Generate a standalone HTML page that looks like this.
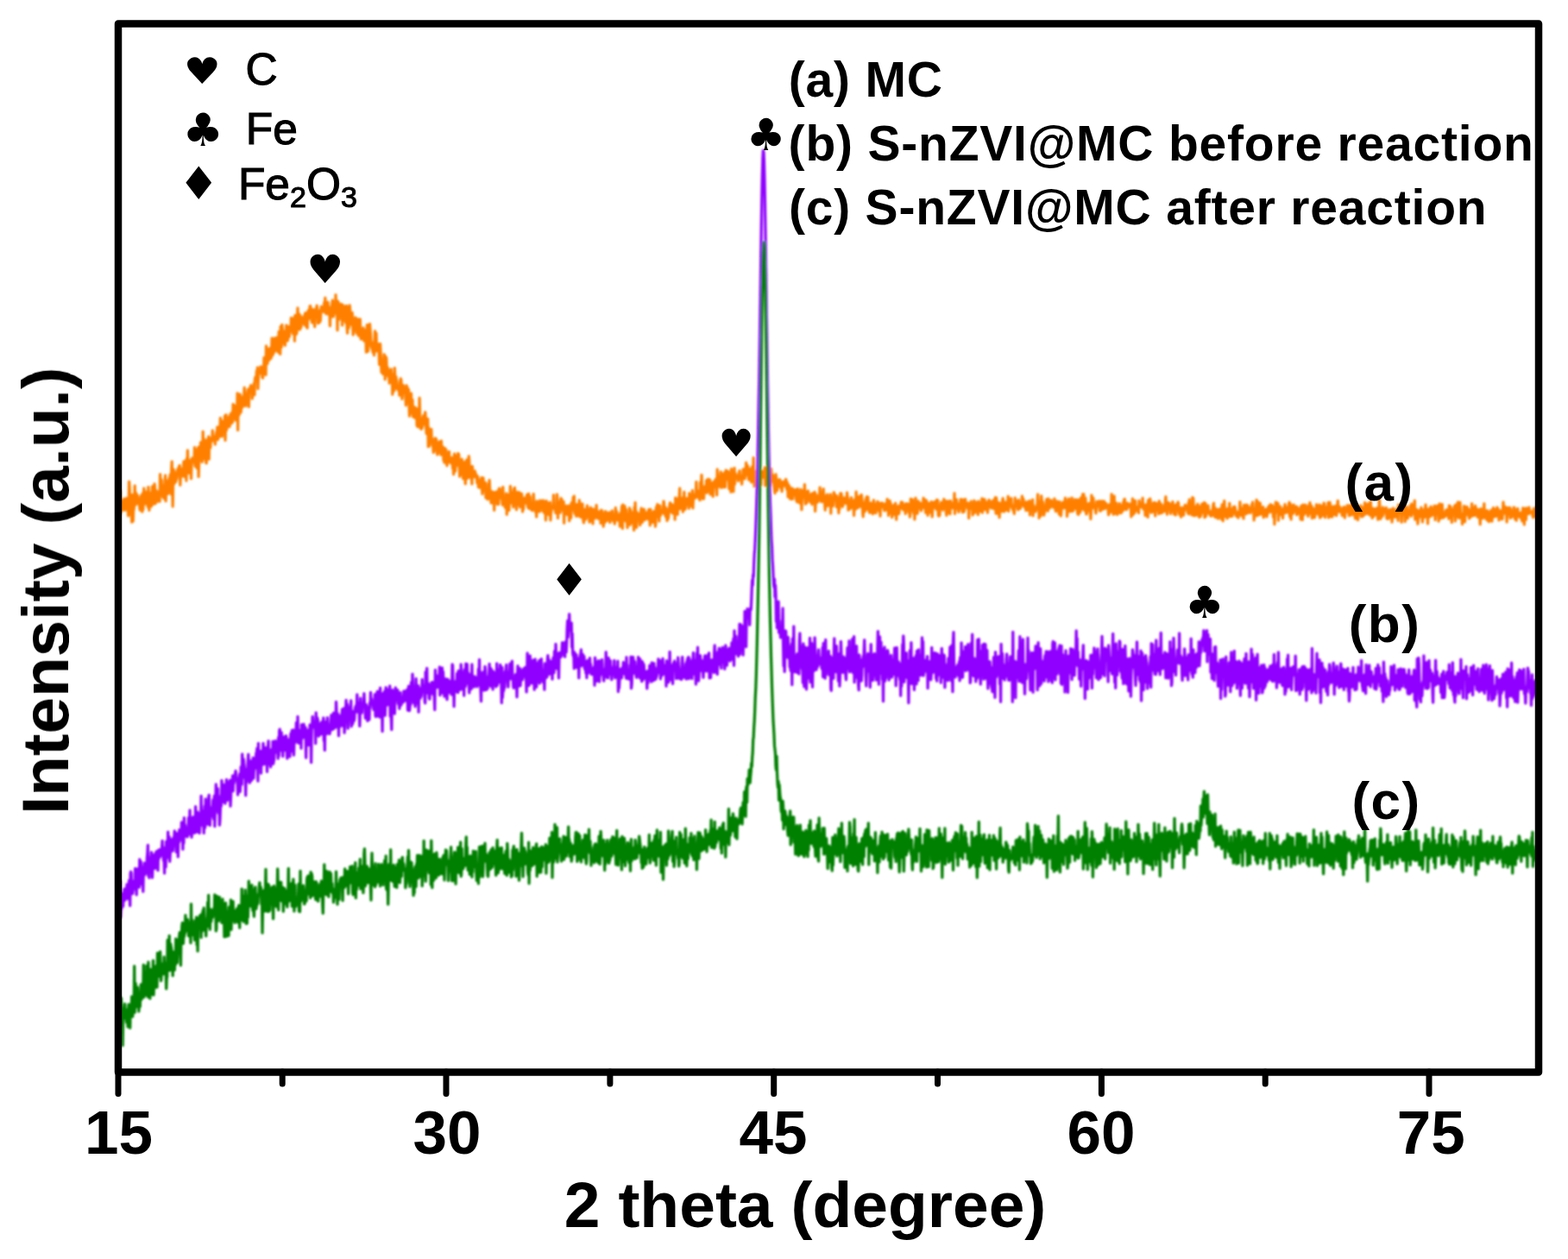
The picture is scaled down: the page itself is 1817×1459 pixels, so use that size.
<!DOCTYPE html>
<html><head><meta charset="utf-8"><style>html,body{margin:0;padding:0;background:#fff}svg{display:block}</style></head><body>
<svg width="1817" height="1459" viewBox="0 0 1817 1459">
<rect width="100%" height="100%" fill="#fff"/>
<defs><filter id="bl" x="-2%" y="-2%" width="104%" height="104%"><feGaussianBlur stdDeviation="0.9"/></filter><filter id="bt" x="-5%" y="-5%" width="110%" height="110%"><feGaussianBlur stdDeviation="0.55"/></filter></defs>
<g fill="none" stroke-width="3.3" stroke-linejoin="round" filter="url(#bl)">
<path stroke="#ff8000" d="M137.5 590.5 L138.0 594.2 L138.5 589.2 L139.0 569.0 L139.5 594.9 L140.0 590.2 L140.5 580.4 L141.0 591.5 L141.5 589.3 L142.1 588.5 L142.6 585.8 L143.1 590.9 L143.6 578.1 L144.1 583.8 L144.6 580.5 L145.1 591.2 L145.6 585.6 L146.1 582.2 L146.6 577.4 L147.1 582.5 L147.6 585.0 L148.1 582.2 L148.6 597.6 L149.1 597.6 L149.6 558.1 L150.2 566.1 L150.7 582.8 L151.2 580.3 L151.7 586.5 L152.2 586.5 L152.7 605.0 L153.2 573.3 L153.7 580.4 L154.2 604.0 L154.7 590.3 L155.2 590.4 L155.7 578.8 L156.2 562.8 L156.7 585.3 L157.2 584.6 L157.7 571.5 L158.2 576.7 L158.8 582.6 L159.3 574.0 L159.8 582.1 L160.3 583.9 L160.8 583.2 L161.3 577.9 L161.8 588.4 L162.3 591.2 L162.8 585.6 L163.3 574.5 L163.8 589.3 L164.3 575.9 L164.8 593.0 L165.3 571.6 L165.8 590.6 L166.3 581.5 L166.8 565.9 L167.4 578.4 L167.9 581.8 L168.4 583.8 L168.9 571.6 L169.4 570.3 L169.9 582.6 L170.4 576.1 L170.9 582.7 L171.4 587.5 L171.9 564.3 L172.4 582.3 L172.9 591.3 L173.4 575.7 L173.9 571.4 L174.4 586.0 L174.9 581.0 L175.5 586.8 L176.0 574.8 L176.5 563.7 L177.0 576.4 L177.5 572.9 L178.0 584.1 L178.5 578.2 L179.0 560.7 L179.5 564.4 L180.0 583.6 L180.5 581.3 L181.0 568.5 L181.5 574.1 L182.0 577.9 L182.5 577.7 L183.0 581.1 L183.5 574.9 L184.1 571.1 L184.6 569.1 L185.1 581.0 L185.6 549.6 L186.1 568.9 L186.6 570.1 L187.1 556.0 L187.6 571.9 L188.1 562.3 L188.6 575.9 L189.1 566.2 L189.6 573.1 L190.1 577.7 L190.6 569.5 L191.1 557.3 L191.6 550.9 L192.1 580.7 L192.7 562.6 L193.2 557.1 L193.7 564.3 L194.2 560.7 L194.7 572.2 L195.2 561.8 L195.7 561.1 L196.2 553.9 L196.7 564.3 L197.2 550.0 L197.7 565.1 L198.2 572.5 L198.7 544.0 L199.2 534.9 L199.7 562.7 L200.2 586.9 L200.8 547.0 L201.3 544.2 L201.8 560.6 L202.3 547.1 L202.8 549.7 L203.3 550.7 L203.8 558.3 L204.3 549.3 L204.8 555.1 L205.3 550.5 L205.8 544.0 L206.3 548.3 L206.8 542.1 L207.3 550.4 L207.8 539.7 L208.3 539.5 L208.8 562.1 L209.4 548.0 L209.9 547.5 L210.4 552.2 L210.9 543.3 L211.4 544.6 L211.9 550.0 L212.4 548.3 L212.9 534.8 L213.4 552.3 L213.9 539.0 L214.4 534.4 L214.9 535.3 L215.4 539.4 L215.9 557.0 L216.4 531.5 L216.9 542.9 L217.4 521.9 L218.0 540.6 L218.5 548.1 L219.0 537.5 L219.5 533.5 L220.0 540.7 L220.5 544.4 L221.0 543.6 L221.5 554.7 L222.0 538.6 L222.5 531.0 L223.0 534.6 L223.5 534.6 L224.0 535.7 L224.5 534.0 L225.0 535.3 L225.5 518.5 L226.1 540.1 L226.6 527.2 L227.1 521.4 L227.6 536.9 L228.1 542.3 L228.6 534.6 L229.1 531.2 L229.6 518.6 L230.1 552.4 L230.6 535.9 L231.1 517.7 L231.6 520.4 L232.1 527.4 L232.6 512.6 L233.1 527.1 L233.6 521.1 L234.1 535.3 L234.7 532.5 L235.2 500.1 L235.7 523.4 L236.2 508.5 L236.7 531.6 L237.2 523.4 L237.7 525.7 L238.2 511.2 L238.7 535.7 L239.2 536.8 L239.7 509.6 L240.2 521.5 L240.7 511.9 L241.2 517.0 L241.7 505.8 L242.2 532.2 L242.7 507.3 L243.3 512.5 L243.8 518.8 L244.3 508.4 L244.8 511.4 L245.3 508.0 L245.8 511.2 L246.3 498.8 L246.8 507.5 L247.3 508.9 L247.8 507.3 L248.3 510.1 L248.8 506.5 L249.3 514.9 L249.8 505.1 L250.3 505.8 L250.8 501.1 L251.4 500.4 L251.9 494.9 L252.4 509.5 L252.9 494.8 L253.4 497.6 L253.9 506.4 L254.4 506.2 L254.9 498.8 L255.4 484.5 L255.9 504.6 L256.4 502.6 L256.9 487.8 L257.4 505.7 L257.9 492.7 L258.4 488.5 L258.9 498.2 L259.4 495.3 L260.0 497.9 L260.5 482.0 L261.0 510.3 L261.5 489.3 L262.0 480.7 L262.5 498.3 L263.0 489.5 L263.5 495.4 L264.0 488.3 L264.5 490.1 L265.0 492.0 L265.5 483.0 L266.0 494.4 L266.5 484.0 L267.0 480.0 L267.5 487.5 L268.0 490.9 L268.6 483.4 L269.1 477.4 L269.6 489.2 L270.1 468.5 L270.6 474.0 L271.1 482.3 L271.6 469.8 L272.1 480.8 L272.6 479.4 L273.1 486.8 L273.6 470.8 L274.1 472.5 L274.6 479.9 L275.1 455.7 L275.6 498.4 L276.1 469.0 L276.7 468.0 L277.2 480.7 L277.7 472.4 L278.2 457.0 L278.7 476.5 L279.2 477.7 L279.7 466.0 L280.2 466.6 L280.7 472.3 L281.2 459.8 L281.7 470.4 L282.2 467.6 L282.7 459.5 L283.2 449.2 L283.7 461.7 L284.2 455.5 L284.7 470.5 L285.3 462.5 L285.8 467.0 L286.3 460.8 L286.8 461.1 L287.3 451.5 L287.8 462.9 L288.3 471.4 L288.8 453.1 L289.3 449.9 L289.8 452.7 L290.3 448.0 L290.8 446.5 L291.3 452.7 L291.8 448.3 L292.3 461.9 L292.8 449.1 L293.3 450.9 L293.9 455.3 L294.4 444.0 L294.9 457.7 L295.4 439.5 L295.9 437.2 L296.4 440.1 L296.9 441.3 L297.4 429.7 L297.9 440.2 L298.4 425.8 L298.9 450.4 L299.4 437.2 L299.9 431.7 L300.4 428.6 L300.9 432.1 L301.4 432.5 L302.0 424.8 L302.5 424.9 L303.0 430.1 L303.5 426.3 L304.0 437.4 L304.5 438.1 L305.0 427.7 L305.5 431.6 L306.0 414.3 L306.5 429.6 L307.0 423.0 L307.5 427.3 L308.0 434.3 L308.5 400.9 L309.0 420.9 L309.5 405.8 L310.0 421.4 L310.6 404.5 L311.1 410.2 L311.6 414.9 L312.1 417.2 L312.6 411.6 L313.1 403.4 L313.6 404.3 L314.1 415.2 L314.6 406.8 L315.1 391.9 L315.6 411.9 L316.1 408.5 L316.6 410.3 L317.1 398.6 L317.6 408.2 L318.1 391.8 L318.6 406.0 L319.2 395.1 L319.7 404.0 L320.2 406.1 L320.7 391.1 L321.2 396.2 L321.7 396.3 L322.2 408.2 L322.7 400.7 L323.2 384.3 L323.7 397.6 L324.2 399.4 L324.7 410.3 L325.2 378.4 L325.7 387.4 L326.2 402.3 L326.7 376.3 L327.3 380.5 L327.8 394.2 L328.3 397.9 L328.8 383.6 L329.3 393.1 L329.8 389.2 L330.3 400.3 L330.8 387.4 L331.3 395.2 L331.8 376.9 L332.3 384.7 L332.8 385.0 L333.3 394.8 L333.8 389.8 L334.3 378.4 L334.8 389.8 L335.3 390.2 L335.9 382.5 L336.4 380.9 L336.9 381.1 L337.4 368.3 L337.9 383.4 L338.4 383.4 L338.9 373.9 L339.4 386.7 L339.9 368.9 L340.4 375.2 L340.9 375.4 L341.4 395.2 L341.9 365.3 L342.4 382.6 L342.9 387.6 L343.4 380.2 L343.9 386.3 L344.5 367.9 L345.0 357.0 L345.5 381.5 L346.0 364.9 L346.5 371.6 L347.0 364.1 L347.5 381.9 L348.0 379.9 L348.5 366.5 L349.0 379.2 L349.5 372.4 L350.0 369.8 L350.5 370.9 L351.0 368.4 L351.5 374.6 L352.0 371.6 L352.6 365.8 L353.1 376.5 L353.6 362.8 L354.1 369.8 L354.6 370.5 L355.1 378.7 L355.6 362.1 L356.1 380.1 L356.6 366.9 L357.1 363.6 L357.6 359.4 L358.1 369.3 L358.6 364.6 L359.1 354.9 L359.6 354.5 L360.1 358.9 L360.6 357.7 L361.2 371.8 L361.7 373.9 L362.2 369.6 L362.7 366.1 L363.2 358.6 L363.7 362.3 L364.2 371.0 L364.7 378.7 L365.2 368.6 L365.7 358.7 L366.2 361.1 L366.7 356.7 L367.2 354.1 L367.7 358.3 L368.2 361.6 L368.7 374.7 L369.2 360.0 L369.8 370.4 L370.3 373.6 L370.8 359.7 L371.3 371.9 L371.8 364.5 L372.3 355.2 L372.8 361.2 L373.3 358.5 L373.8 356.3 L374.3 356.4 L374.8 359.1 L375.3 361.3 L375.8 350.5 L376.3 357.5 L376.8 345.2 L377.3 359.5 L377.9 363.8 L378.4 358.5 L378.9 359.5 L379.4 363.3 L379.9 350.1 L380.4 355.1 L380.9 361.1 L381.4 365.1 L381.9 360.2 L382.4 377.6 L382.9 356.3 L383.4 365.2 L383.9 367.4 L384.4 356.2 L384.9 350.8 L385.4 348.0 L385.9 359.0 L386.5 366.8 L387.0 360.2 L387.5 359.6 L388.0 355.4 L388.5 363.2 L389.0 341.7 L389.5 361.0 L390.0 359.7 L390.5 348.7 L391.0 382.7 L391.5 349.1 L392.0 351.9 L392.5 351.2 L393.0 370.1 L393.5 354.4 L394.0 367.2 L394.5 366.9 L395.1 364.6 L395.6 352.4 L396.1 358.3 L396.6 376.9 L397.1 353.5 L397.6 357.6 L398.1 363.3 L398.6 371.4 L399.1 367.3 L399.6 371.6 L400.1 354.9 L400.6 373.9 L401.1 371.3 L401.6 354.3 L402.1 379.7 L402.6 386.0 L403.2 362.0 L403.7 368.9 L404.2 380.0 L404.7 357.4 L405.2 353.8 L405.7 359.7 L406.2 365.9 L406.7 366.3 L407.2 376.1 L407.7 373.9 L408.2 362.3 L408.7 377.2 L409.2 388.0 L409.7 383.1 L410.2 381.9 L410.7 374.7 L411.2 382.9 L411.8 367.9 L412.3 382.0 L412.8 375.9 L413.3 386.1 L413.8 381.3 L414.3 369.6 L414.8 379.8 L415.3 388.9 L415.8 370.9 L416.3 376.0 L416.8 374.9 L417.3 369.8 L417.8 389.7 L418.3 393.0 L418.8 389.5 L419.3 385.7 L419.8 384.0 L420.4 386.9 L420.9 379.9 L421.4 393.2 L421.9 395.0 L422.4 394.7 L422.9 382.6 L423.4 389.2 L423.9 387.9 L424.4 408.1 L424.9 391.9 L425.4 376.5 L425.9 395.0 L426.4 407.2 L426.9 398.6 L427.4 400.8 L427.9 394.9 L428.5 375.4 L429.0 382.0 L429.5 387.2 L430.0 396.6 L430.5 400.8 L431.0 404.5 L431.5 397.3 L432.0 408.1 L432.5 399.3 L433.0 396.8 L433.5 411.6 L434.0 396.7 L434.5 383.7 L435.0 394.8 L435.5 407.0 L436.0 386.2 L436.5 405.1 L437.1 406.1 L437.6 398.4 L438.1 398.8 L438.6 407.5 L439.1 407.7 L439.6 422.4 L440.1 416.4 L440.6 398.5 L441.1 408.5 L441.6 421.3 L442.1 431.3 L442.6 420.5 L443.1 420.7 L443.6 433.3 L444.1 419.7 L444.6 418.3 L445.1 410.6 L445.7 417.1 L446.2 439.7 L446.7 412.9 L447.2 424.7 L447.7 414.6 L448.2 427.2 L448.7 433.8 L449.2 425.9 L449.7 435.8 L450.2 434.9 L450.7 433.6 L451.2 444.1 L451.7 437.8 L452.2 429.6 L452.7 428.3 L453.2 427.8 L453.8 438.7 L454.3 433.4 L454.8 457.2 L455.3 451.5 L455.8 436.7 L456.3 436.7 L456.8 452.8 L457.3 426.5 L457.8 438.2 L458.3 449.6 L458.8 436.4 L459.3 440.5 L459.8 441.4 L460.3 450.7 L460.8 447.6 L461.3 450.4 L461.8 452.6 L462.4 449.2 L462.9 458.1 L463.4 445.1 L463.9 440.6 L464.4 438.8 L464.9 440.8 L465.4 449.7 L465.9 462.4 L466.4 456.8 L466.9 451.8 L467.4 446.7 L467.9 453.9 L468.4 454.8 L468.9 454.1 L469.4 449.7 L469.9 457.6 L470.4 469.6 L471.0 446.6 L471.5 461.9 L472.0 448.6 L472.5 466.7 L473.0 460.5 L473.5 451.4 L474.0 468.5 L474.5 482.1 L475.0 470.2 L475.5 478.8 L476.0 470.5 L476.5 455.8 L477.0 476.3 L477.5 470.4 L478.0 463.4 L478.5 482.7 L479.1 478.0 L479.6 472.8 L480.1 483.9 L480.6 471.9 L481.1 483.9 L481.6 473.0 L482.1 484.7 L482.6 473.4 L483.1 493.3 L483.6 485.0 L484.1 494.5 L484.6 478.6 L485.1 482.0 L485.6 492.4 L486.1 461.2 L486.6 480.0 L487.1 496.2 L487.7 492.9 L488.2 497.4 L488.7 488.1 L489.2 496.0 L489.7 487.3 L490.2 483.4 L490.7 481.8 L491.2 491.0 L491.7 491.8 L492.2 492.0 L492.7 477.7 L493.2 483.6 L493.7 495.1 L494.2 502.5 L494.7 496.4 L495.2 495.0 L495.7 485.3 L496.3 517.6 L496.8 495.7 L497.3 516.7 L497.8 516.6 L498.3 508.0 L498.8 502.6 L499.3 508.4 L499.8 497.3 L500.3 510.8 L500.8 509.7 L501.3 514.2 L501.8 517.9 L502.3 524.3 L502.8 509.6 L503.3 520.7 L503.8 508.1 L504.4 508.0 L504.9 510.7 L505.4 508.7 L505.9 523.5 L506.4 523.7 L506.9 526.9 L507.4 518.2 L507.9 521.0 L508.4 515.5 L508.9 512.0 L509.4 524.1 L509.9 523.5 L510.4 514.3 L510.9 527.0 L511.4 511.0 L511.9 522.8 L512.4 520.2 L513.0 521.6 L513.5 518.2 L514.0 533.4 L514.5 531.2 L515.0 536.2 L515.5 529.3 L516.0 519.7 L516.5 526.8 L517.0 521.6 L517.5 533.8 L518.0 539.7 L518.5 534.0 L519.0 527.9 L519.5 530.0 L520.0 534.6 L520.5 523.4 L521.0 535.2 L521.6 536.0 L522.1 531.2 L522.6 532.6 L523.1 537.1 L523.6 530.5 L524.1 530.9 L524.6 542.6 L525.1 539.1 L525.6 549.7 L526.1 531.2 L526.6 526.0 L527.1 545.5 L527.6 545.9 L528.1 534.2 L528.6 529.4 L529.1 539.6 L529.7 527.9 L530.2 538.1 L530.7 525.4 L531.2 539.3 L531.7 526.3 L532.2 539.7 L532.7 552.2 L533.2 540.0 L533.7 549.0 L534.2 537.8 L534.7 536.2 L535.2 532.2 L535.7 550.1 L536.2 542.7 L536.7 554.6 L537.2 535.3 L537.7 542.1 L538.3 544.4 L538.8 553.9 L539.3 560.7 L539.8 540.0 L540.3 534.4 L540.8 532.9 L541.3 554.5 L541.8 544.9 L542.3 541.2 L542.8 545.6 L543.3 528.6 L543.8 534.6 L544.3 553.3 L544.8 549.9 L545.3 548.5 L545.8 540.9 L546.3 552.2 L546.9 560.8 L547.4 540.5 L547.9 549.5 L548.4 546.9 L548.9 552.9 L549.4 551.0 L549.9 550.5 L550.4 546.0 L550.9 552.6 L551.4 549.1 L551.9 552.9 L552.4 554.1 L552.9 559.7 L553.4 551.9 L553.9 554.3 L554.4 564.5 L555.0 556.4 L555.5 556.7 L556.0 565.1 L556.5 561.8 L557.0 561.2 L557.5 562.7 L558.0 553.5 L558.5 565.7 L559.0 572.3 L559.5 567.8 L560.0 553.9 L560.5 567.0 L561.0 559.6 L561.5 564.7 L562.0 567.9 L562.5 559.3 L563.0 576.9 L563.6 567.9 L564.1 574.2 L564.6 573.5 L565.1 578.7 L565.6 578.0 L566.1 560.3 L566.6 570.8 L567.1 556.4 L567.6 567.0 L568.1 576.1 L568.6 577.6 L569.1 582.9 L569.6 569.4 L570.1 574.2 L570.6 573.1 L571.1 581.0 L571.6 583.3 L572.2 570.4 L572.7 591.3 L573.2 573.2 L573.7 570.9 L574.2 577.5 L574.7 578.8 L575.2 578.5 L575.7 569.7 L576.2 584.0 L576.7 574.7 L577.2 584.7 L577.7 583.9 L578.2 566.2 L578.7 568.3 L579.2 566.3 L579.7 576.8 L580.3 575.7 L580.8 577.2 L581.3 570.1 L581.8 578.5 L582.3 585.1 L582.8 564.3 L583.3 574.7 L583.8 577.8 L584.3 575.4 L584.8 575.0 L585.3 588.1 L585.8 585.0 L586.3 582.3 L586.8 571.8 L587.3 596.1 L587.8 579.4 L588.3 573.3 L588.9 575.0 L589.4 574.1 L589.9 591.4 L590.4 578.9 L590.9 578.0 L591.4 563.5 L591.9 582.6 L592.4 570.9 L592.9 570.5 L593.4 583.2 L593.9 572.4 L594.4 583.6 L594.9 587.8 L595.4 566.6 L595.9 577.5 L596.4 565.1 L596.9 578.2 L597.5 584.6 L598.0 569.9 L598.5 590.6 L599.0 576.3 L599.5 571.4 L600.0 578.4 L600.5 584.5 L601.0 570.5 L601.5 579.6 L602.0 570.8 L602.5 587.7 L603.0 581.1 L603.5 577.5 L604.0 587.1 L604.5 572.2 L605.0 577.4 L605.6 592.9 L606.1 580.3 L606.6 590.1 L607.1 582.8 L607.6 577.2 L608.1 580.4 L608.6 582.8 L609.1 579.7 L609.6 577.3 L610.1 577.8 L610.6 573.4 L611.1 584.0 L611.6 586.0 L612.1 588.5 L612.6 572.2 L613.1 589.3 L613.6 584.2 L614.2 575.3 L614.7 585.3 L615.2 590.2 L615.7 588.5 L616.2 590.0 L616.7 591.6 L617.2 591.4 L617.7 585.6 L618.2 572.5 L618.7 581.2 L619.2 588.5 L619.7 583.4 L620.2 590.9 L620.7 593.3 L621.2 587.0 L621.7 598.9 L622.2 580.6 L622.8 593.0 L623.3 584.0 L623.8 582.1 L624.3 591.0 L624.8 583.3 L625.3 592.9 L625.8 579.9 L626.3 587.7 L626.8 582.1 L627.3 586.1 L627.8 585.3 L628.3 580.5 L628.8 592.0 L629.3 579.8 L629.8 581.6 L630.3 593.7 L630.9 594.3 L631.4 592.4 L631.9 590.3 L632.4 602.8 L632.9 580.5 L633.4 583.5 L633.9 581.9 L634.4 594.1 L634.9 590.2 L635.4 595.6 L635.9 596.6 L636.4 587.1 L636.9 583.3 L637.4 582.3 L637.9 602.8 L638.4 594.9 L638.9 592.5 L639.5 586.6 L640.0 587.5 L640.5 586.7 L641.0 586.8 L641.5 573.6 L642.0 588.6 L642.5 586.6 L643.0 590.9 L643.5 590.4 L644.0 594.6 L644.5 589.1 L645.0 594.3 L645.5 572.9 L646.0 582.3 L646.5 600.4 L647.0 581.6 L647.5 587.7 L648.1 594.0 L648.6 583.9 L649.1 594.2 L649.6 580.5 L650.1 577.5 L650.6 581.2 L651.1 579.2 L651.6 589.7 L652.1 587.8 L652.6 592.0 L653.1 581.4 L653.6 606.2 L654.1 589.5 L654.6 589.9 L655.1 593.1 L655.6 588.7 L656.2 586.3 L656.7 591.0 L657.2 596.3 L657.7 594.8 L658.2 596.6 L658.7 587.1 L659.2 585.9 L659.7 603.6 L660.2 589.4 L660.7 594.1 L661.2 597.2 L661.7 600.2 L662.2 582.7 L662.7 588.3 L663.2 587.9 L663.7 589.6 L664.2 576.4 L664.8 590.9 L665.3 574.8 L665.8 593.8 L666.3 595.4 L666.8 595.9 L667.3 584.6 L667.8 598.3 L668.3 586.9 L668.8 584.7 L669.3 586.4 L669.8 587.3 L670.3 593.9 L670.8 598.1 L671.3 579.7 L671.8 589.7 L672.3 598.9 L672.8 594.6 L673.4 596.6 L673.9 584.0 L674.4 599.6 L674.9 583.8 L675.4 595.3 L675.9 602.5 L676.4 605.8 L676.9 597.3 L677.4 599.7 L677.9 590.4 L678.4 591.3 L678.9 601.8 L679.4 594.5 L679.9 593.8 L680.4 585.8 L680.9 595.7 L681.5 598.9 L682.0 589.9 L682.5 591.8 L683.0 605.0 L683.5 596.6 L684.0 593.4 L684.5 588.2 L685.0 591.5 L685.5 593.9 L686.0 604.1 L686.5 590.6 L687.0 606.9 L687.5 589.9 L688.0 592.9 L688.5 601.2 L689.0 594.0 L689.5 590.8 L690.1 595.2 L690.6 599.8 L691.1 585.4 L691.6 594.2 L692.1 595.6 L692.6 593.9 L693.1 601.1 L693.6 593.0 L694.1 594.3 L694.6 596.9 L695.1 601.3 L695.6 595.4 L696.1 606.3 L696.6 591.2 L697.1 605.0 L697.6 591.7 L698.1 596.1 L698.7 599.5 L699.2 610.1 L699.7 602.9 L700.2 594.8 L700.7 605.6 L701.2 596.2 L701.7 592.6 L702.2 600.4 L702.7 598.3 L703.2 603.7 L703.7 594.4 L704.2 600.3 L704.7 601.9 L705.2 599.7 L705.7 597.9 L706.2 593.8 L706.8 605.5 L707.3 599.1 L707.8 601.4 L708.3 596.1 L708.8 598.4 L709.3 591.9 L709.8 599.0 L710.3 603.3 L710.8 599.1 L711.3 603.9 L711.8 601.2 L712.3 607.1 L712.8 597.5 L713.3 588.5 L713.8 602.3 L714.3 597.8 L714.8 592.8 L715.4 602.9 L715.9 600.5 L716.4 601.7 L716.9 596.9 L717.4 600.2 L717.9 600.5 L718.4 610.0 L718.9 594.7 L719.4 598.9 L719.9 601.2 L720.4 588.3 L720.9 586.1 L721.4 612.4 L721.9 584.8 L722.4 602.6 L722.9 593.7 L723.4 594.3 L724.0 586.7 L724.5 593.4 L725.0 603.9 L725.5 590.4 L726.0 603.8 L726.5 600.9 L727.0 611.5 L727.5 596.1 L728.0 606.8 L728.5 606.1 L729.0 597.2 L729.5 588.7 L730.0 608.3 L730.5 590.6 L731.0 596.1 L731.5 604.5 L732.1 605.9 L732.6 593.8 L733.1 598.8 L733.6 597.4 L734.1 606.3 L734.6 614.4 L735.1 587.7 L735.6 604.6 L736.1 582.4 L736.6 599.1 L737.1 592.2 L737.6 611.3 L738.1 600.0 L738.6 594.5 L739.1 595.0 L739.6 595.5 L740.1 600.2 L740.7 598.0 L741.2 603.0 L741.7 608.5 L742.2 603.3 L742.7 591.5 L743.2 589.0 L743.7 594.4 L744.2 605.4 L744.7 596.9 L745.2 594.8 L745.7 599.7 L746.2 590.1 L746.7 591.8 L747.2 602.7 L747.7 596.7 L748.2 595.7 L748.7 600.4 L749.3 594.7 L749.8 594.0 L750.3 595.3 L750.8 601.7 L751.3 598.2 L751.8 590.4 L752.3 595.8 L752.8 601.4 L753.3 608.8 L753.8 590.2 L754.3 599.1 L754.8 595.3 L755.3 601.8 L755.8 599.3 L756.3 605.4 L756.8 599.4 L757.4 592.8 L757.9 592.6 L758.4 598.2 L758.9 598.0 L759.4 610.1 L759.9 605.5 L760.4 587.9 L760.9 597.1 L761.4 586.6 L761.9 584.5 L762.4 599.0 L762.9 597.6 L763.4 587.8 L763.9 603.9 L764.4 586.0 L764.9 586.5 L765.4 597.4 L766.0 595.1 L766.5 592.2 L767.0 592.6 L767.5 594.2 L768.0 591.5 L768.5 591.4 L769.0 580.8 L769.5 584.0 L770.0 595.6 L770.5 587.5 L771.0 594.9 L771.5 598.9 L772.0 589.0 L772.5 592.7 L773.0 603.4 L773.5 594.8 L774.0 601.6 L774.6 599.5 L775.1 594.6 L775.6 589.1 L776.1 584.5 L776.6 582.7 L777.1 592.1 L777.6 592.7 L778.1 587.7 L778.6 593.7 L779.1 584.7 L779.6 594.8 L780.1 588.1 L780.6 587.4 L781.1 587.4 L781.6 586.6 L782.1 602.0 L782.7 577.0 L783.2 587.6 L783.7 593.8 L784.2 590.4 L784.7 584.0 L785.2 596.1 L785.7 579.0 L786.2 577.3 L786.7 588.4 L787.2 575.9 L787.7 565.8 L788.2 589.6 L788.7 588.6 L789.2 588.2 L789.7 580.6 L790.2 584.4 L790.7 577.2 L791.3 593.2 L791.8 588.7 L792.3 586.7 L792.8 570.2 L793.3 586.6 L793.8 590.4 L794.3 588.5 L794.8 585.7 L795.3 580.6 L795.8 577.7 L796.3 583.7 L796.8 582.1 L797.3 581.0 L797.8 577.4 L798.3 589.1 L798.8 571.7 L799.3 578.3 L799.9 574.6 L800.4 584.0 L800.9 586.1 L801.4 584.7 L801.9 581.5 L802.4 568.3 L802.9 588.8 L803.4 579.2 L803.9 575.1 L804.4 575.6 L804.9 573.1 L805.4 577.3 L805.9 576.3 L806.4 571.9 L806.9 558.4 L807.4 573.2 L808.0 575.9 L808.5 575.8 L809.0 571.4 L809.5 574.7 L810.0 577.7 L810.5 568.4 L811.0 579.6 L811.5 558.8 L812.0 562.6 L812.5 564.4 L813.0 550.5 L813.5 563.1 L814.0 576.1 L814.5 578.0 L815.0 568.6 L815.5 577.9 L816.0 569.1 L816.6 564.0 L817.1 568.0 L817.6 565.4 L818.1 570.3 L818.6 556.7 L819.1 571.2 L819.6 562.2 L820.1 569.8 L820.6 555.2 L821.1 561.6 L821.6 564.3 L822.1 568.9 L822.6 556.0 L823.1 572.9 L823.6 565.6 L824.1 559.4 L824.6 569.5 L825.2 562.7 L825.7 568.7 L826.2 575.4 L826.7 566.0 L827.2 558.1 L827.7 558.5 L828.2 564.2 L828.7 562.3 L829.2 555.4 L829.7 556.2 L830.2 563.9 L830.7 573.6 L831.2 544.0 L831.7 563.6 L832.2 557.9 L832.7 563.6 L833.3 563.9 L833.8 558.9 L834.3 552.4 L834.8 550.0 L835.3 547.0 L835.8 565.1 L836.3 556.5 L836.8 553.4 L837.3 555.7 L837.8 549.3 L838.3 558.8 L838.8 564.6 L839.3 563.4 L839.8 547.3 L840.3 564.4 L840.8 551.7 L841.3 544.8 L841.9 548.7 L842.4 550.1 L842.9 555.6 L843.4 549.4 L843.9 546.5 L844.4 553.7 L844.9 566.4 L845.4 550.8 L845.9 557.6 L846.4 555.2 L846.9 570.2 L847.4 543.3 L847.9 560.7 L848.4 546.6 L848.9 550.5 L849.4 553.3 L849.9 569.6 L850.5 549.1 L851.0 542.4 L851.5 560.9 L852.0 548.3 L852.5 551.6 L853.0 552.8 L853.5 553.4 L854.0 551.7 L854.5 554.1 L855.0 554.7 L855.5 557.3 L856.0 549.6 L856.5 547.6 L857.0 545.7 L857.5 555.2 L858.0 551.4 L858.6 554.8 L859.1 554.6 L859.6 561.2 L860.1 552.4 L860.6 555.5 L861.1 544.0 L861.6 544.6 L862.1 549.1 L862.6 543.7 L863.1 554.8 L863.6 542.9 L864.1 551.0 L864.6 536.2 L865.1 544.1 L865.6 548.5 L866.1 548.9 L866.6 540.0 L867.2 551.0 L867.7 556.1 L868.2 555.3 L868.7 546.6 L869.2 547.0 L869.7 543.5 L870.2 554.2 L870.7 558.9 L871.2 547.5 L871.7 540.7 L872.2 551.9 L872.7 554.9 L873.2 530.4 L873.7 551.7 L874.2 563.6 L874.7 555.9 L875.2 554.4 L875.8 553.6 L876.3 557.5 L876.8 546.0 L877.3 546.7 L877.8 554.0 L878.3 547.8 L878.8 553.4 L879.3 540.9 L879.8 557.8 L880.3 557.1 L880.8 552.6 L881.3 553.4 L881.8 561.9 L882.3 546.4 L882.8 547.5 L883.3 546.5 L883.9 550.5 L884.4 547.2 L884.9 553.4 L885.4 549.5 L885.9 545.0 L886.4 541.8 L886.9 562.7 L887.4 553.2 L887.9 552.0 L888.4 554.0 L888.9 553.5 L889.4 559.7 L889.9 557.4 L890.4 550.8 L890.9 549.6 L891.4 548.2 L891.9 547.3 L892.5 562.7 L893.0 547.9 L893.5 543.2 L894.0 548.7 L894.5 550.6 L895.0 557.1 L895.5 550.3 L896.0 558.6 L896.5 557.9 L897.0 563.1 L897.5 568.4 L898.0 571.6 L898.5 564.0 L899.0 549.7 L899.5 554.2 L900.0 558.1 L900.5 568.7 L901.1 560.9 L901.6 564.1 L902.1 556.4 L902.6 561.1 L903.1 562.1 L903.6 555.6 L904.1 563.0 L904.6 565.1 L905.1 558.1 L905.6 565.5 L906.1 569.5 L906.6 560.8 L907.1 560.9 L907.6 559.5 L908.1 558.2 L908.6 563.1 L909.2 560.3 L909.7 561.4 L910.2 559.2 L910.7 555.3 L911.2 559.2 L911.7 567.0 L912.2 558.8 L912.7 562.4 L913.2 575.9 L913.7 575.4 L914.2 562.4 L914.7 571.4 L915.2 564.7 L915.7 578.2 L916.2 566.0 L916.7 570.2 L917.2 578.1 L917.8 565.9 L918.3 578.4 L918.8 566.7 L919.3 573.1 L919.8 570.3 L920.3 571.8 L920.8 573.5 L921.3 572.5 L921.8 567.3 L922.3 578.3 L922.8 577.6 L923.3 581.0 L923.8 581.7 L924.3 566.4 L924.8 581.5 L925.3 581.7 L925.8 571.4 L926.4 580.5 L926.9 583.1 L927.4 571.8 L927.9 567.1 L928.4 573.1 L928.9 590.6 L929.4 576.7 L929.9 568.6 L930.4 574.1 L930.9 570.1 L931.4 573.5 L931.9 576.4 L932.4 561.5 L932.9 578.2 L933.4 584.2 L933.9 575.2 L934.5 574.2 L935.0 582.7 L935.5 569.4 L936.0 569.6 L936.5 568.9 L937.0 576.0 L937.5 579.2 L938.0 576.3 L938.5 580.2 L939.0 581.9 L939.5 580.0 L940.0 572.7 L940.5 575.9 L941.0 584.5 L941.5 571.6 L942.0 576.2 L942.5 575.3 L943.1 576.4 L943.6 571.7 L944.1 570.3 L944.6 592.4 L945.1 583.3 L945.6 572.9 L946.1 577.8 L946.6 582.0 L947.1 576.3 L947.6 581.8 L948.1 574.9 L948.6 575.8 L949.1 578.0 L949.6 575.2 L950.1 564.8 L950.6 578.8 L951.1 580.2 L951.7 581.4 L952.2 573.2 L952.7 580.8 L953.2 580.5 L953.7 569.0 L954.2 566.6 L954.7 581.7 L955.2 573.7 L955.7 584.7 L956.2 591.2 L956.7 575.9 L957.2 575.4 L957.7 579.2 L958.2 583.1 L958.7 573.0 L959.2 586.4 L959.8 585.0 L960.3 583.2 L960.8 576.5 L961.3 584.7 L961.8 584.4 L962.3 572.9 L962.8 594.9 L963.3 578.0 L963.8 581.8 L964.3 576.8 L964.8 582.0 L965.3 586.3 L965.8 575.4 L966.3 570.7 L966.8 577.5 L967.3 572.7 L967.8 575.8 L968.4 579.2 L968.9 579.8 L969.4 587.4 L969.9 574.6 L970.4 582.2 L970.9 577.5 L971.4 587.9 L971.9 594.5 L972.4 582.1 L972.9 589.8 L973.4 577.6 L973.9 571.7 L974.4 573.6 L974.9 571.9 L975.4 575.4 L975.9 579.4 L976.4 587.2 L977.0 584.8 L977.5 583.5 L978.0 578.6 L978.5 577.0 L979.0 581.3 L979.5 581.9 L980.0 582.7 L980.5 583.4 L981.0 580.7 L981.5 570.8 L982.0 575.4 L982.5 577.0 L983.0 591.1 L983.5 579.4 L984.0 585.6 L984.5 590.1 L985.1 583.9 L985.6 579.9 L986.1 580.6 L986.6 576.6 L987.1 584.1 L987.6 588.7 L988.1 585.7 L988.6 586.9 L989.1 586.7 L989.6 597.3 L990.1 579.5 L990.6 584.0 L991.1 587.1 L991.6 590.2 L992.1 570.0 L992.6 580.6 L993.1 582.4 L993.7 578.0 L994.2 588.5 L994.7 585.1 L995.2 581.8 L995.7 575.1 L996.2 576.9 L996.7 578.9 L997.2 587.0 L997.7 577.8 L998.2 573.3 L998.7 576.8 L999.2 581.6 L999.7 594.2 L1000.2 598.8 L1000.7 582.5 L1001.2 590.5 L1001.7 593.1 L1002.3 592.6 L1002.8 584.8 L1003.3 578.5 L1003.8 583.1 L1004.3 575.7 L1004.8 587.3 L1005.3 590.4 L1005.8 575.8 L1006.3 586.0 L1006.8 588.0 L1007.3 593.3 L1007.8 594.1 L1008.3 591.0 L1008.8 582.9 L1009.3 584.8 L1009.8 593.5 L1010.4 583.6 L1010.9 586.8 L1011.4 595.7 L1011.9 587.9 L1012.4 579.7 L1012.9 585.7 L1013.4 590.9 L1013.9 586.4 L1014.4 593.9 L1014.9 594.6 L1015.4 584.0 L1015.9 584.9 L1016.4 587.1 L1016.9 581.1 L1017.4 589.8 L1017.9 586.8 L1018.4 592.2 L1019.0 584.6 L1019.5 583.1 L1020.0 598.0 L1020.5 583.1 L1021.0 584.8 L1021.5 584.0 L1022.0 586.3 L1022.5 583.0 L1023.0 587.8 L1023.5 584.1 L1024.0 585.7 L1024.5 590.6 L1025.0 591.8 L1025.5 590.6 L1026.0 584.0 L1026.5 590.2 L1027.0 587.3 L1027.6 587.4 L1028.1 578.5 L1028.6 591.7 L1029.1 587.2 L1029.6 597.3 L1030.1 592.5 L1030.6 581.8 L1031.1 580.4 L1031.6 594.3 L1032.1 583.2 L1032.6 592.8 L1033.1 586.3 L1033.6 599.5 L1034.1 588.4 L1034.6 596.2 L1035.1 595.2 L1035.7 585.4 L1036.2 586.1 L1036.7 596.1 L1037.2 587.9 L1037.7 583.2 L1038.2 594.5 L1038.7 602.0 L1039.2 587.7 L1039.7 595.6 L1040.2 587.1 L1040.7 595.4 L1041.2 586.3 L1041.7 595.3 L1042.2 591.0 L1042.7 587.0 L1043.2 589.3 L1043.7 585.1 L1044.3 581.9 L1044.8 582.2 L1045.3 587.7 L1045.8 582.2 L1046.3 590.4 L1046.8 590.9 L1047.3 590.6 L1047.8 585.3 L1048.3 588.4 L1048.8 587.9 L1049.3 595.3 L1049.8 583.6 L1050.3 585.9 L1050.8 586.7 L1051.3 587.2 L1051.8 583.9 L1052.3 584.6 L1052.9 593.5 L1053.4 584.5 L1053.9 593.0 L1054.4 599.1 L1054.9 594.9 L1055.4 578.1 L1055.9 592.2 L1056.4 590.5 L1056.9 590.9 L1057.4 579.0 L1057.9 592.0 L1058.4 581.9 L1058.9 594.9 L1059.4 593.7 L1059.9 601.8 L1060.4 585.7 L1061.0 577.1 L1061.5 593.5 L1062.0 592.5 L1062.5 585.7 L1063.0 595.2 L1063.5 591.5 L1064.0 580.7 L1064.5 585.8 L1065.0 585.2 L1065.5 587.1 L1066.0 588.7 L1066.5 582.8 L1067.0 586.5 L1067.5 591.9 L1068.0 587.2 L1068.5 586.1 L1069.0 585.9 L1069.6 587.0 L1070.1 577.1 L1070.6 588.4 L1071.1 581.9 L1071.6 588.1 L1072.1 579.5 L1072.6 594.1 L1073.1 588.8 L1073.6 580.1 L1074.1 589.2 L1074.6 583.3 L1075.1 597.3 L1075.6 590.1 L1076.1 583.1 L1076.6 588.6 L1077.1 587.2 L1077.6 593.9 L1078.2 589.3 L1078.7 590.2 L1079.2 581.3 L1079.7 591.7 L1080.2 598.8 L1080.7 590.8 L1081.2 587.1 L1081.7 588.2 L1082.2 582.1 L1082.7 588.3 L1083.2 581.3 L1083.7 587.5 L1084.2 585.2 L1084.7 582.7 L1085.2 590.4 L1085.7 579.1 L1086.3 587.0 L1086.8 580.0 L1087.3 597.2 L1087.8 598.0 L1088.3 591.8 L1088.8 597.5 L1089.3 590.4 L1089.8 590.1 L1090.3 584.8 L1090.8 582.2 L1091.3 587.8 L1091.8 584.2 L1092.3 584.7 L1092.8 591.0 L1093.3 586.4 L1093.8 578.5 L1094.3 585.8 L1094.9 582.8 L1095.4 585.4 L1095.9 581.0 L1096.4 593.5 L1096.9 597.3 L1097.4 580.9 L1097.9 590.4 L1098.4 590.1 L1098.9 581.0 L1099.4 587.4 L1099.9 594.5 L1100.4 591.4 L1100.9 595.6 L1101.4 580.4 L1101.9 581.6 L1102.4 588.9 L1102.9 588.7 L1103.5 586.8 L1104.0 584.6 L1104.5 584.4 L1105.0 583.3 L1105.5 589.1 L1106.0 571.6 L1106.5 595.3 L1107.0 583.7 L1107.5 578.8 L1108.0 589.5 L1108.5 578.9 L1109.0 588.6 L1109.5 584.3 L1110.0 589.6 L1110.5 590.7 L1111.0 593.4 L1111.6 583.7 L1112.1 584.8 L1112.6 586.3 L1113.1 578.6 L1113.6 589.5 L1114.1 587.3 L1114.6 579.0 L1115.1 592.8 L1115.6 593.6 L1116.1 579.1 L1116.6 589.3 L1117.1 593.0 L1117.6 590.7 L1118.1 579.3 L1118.6 578.5 L1119.1 585.3 L1119.6 583.4 L1120.2 586.0 L1120.7 585.5 L1121.2 588.9 L1121.7 583.0 L1122.2 585.1 L1122.7 600.4 L1123.2 585.2 L1123.7 589.9 L1124.2 587.5 L1124.7 587.1 L1125.2 580.9 L1125.7 588.7 L1126.2 585.6 L1126.7 590.2 L1127.2 596.9 L1127.7 586.8 L1128.2 589.9 L1128.8 580.2 L1129.3 586.4 L1129.8 594.1 L1130.3 585.4 L1130.8 582.2 L1131.3 586.8 L1131.8 584.7 L1132.3 584.3 L1132.8 583.6 L1133.3 596.4 L1133.8 580.9 L1134.3 583.4 L1134.8 582.5 L1135.3 592.3 L1135.8 584.0 L1136.3 592.6 L1136.9 586.7 L1137.4 585.4 L1137.9 577.6 L1138.4 594.0 L1138.9 588.4 L1139.4 587.7 L1139.9 584.8 L1140.4 583.2 L1140.9 578.6 L1141.4 590.5 L1141.9 586.9 L1142.4 583.4 L1142.9 582.0 L1143.4 586.0 L1143.9 584.9 L1144.4 594.2 L1144.9 589.5 L1145.5 582.1 L1146.0 579.3 L1146.5 584.0 L1147.0 580.4 L1147.5 585.7 L1148.0 587.5 L1148.5 588.7 L1149.0 587.5 L1149.5 584.2 L1150.0 588.5 L1150.5 580.5 L1151.0 584.7 L1151.5 589.6 L1152.0 586.8 L1152.5 578.4 L1153.0 579.0 L1153.5 576.5 L1154.1 595.0 L1154.6 576.9 L1155.1 584.5 L1155.6 595.1 L1156.1 591.0 L1156.6 594.5 L1157.1 582.5 L1157.6 590.5 L1158.1 599.6 L1158.6 585.0 L1159.1 587.4 L1159.6 583.5 L1160.1 585.1 L1160.6 587.2 L1161.1 592.7 L1161.6 580.3 L1162.2 577.5 L1162.7 585.3 L1163.2 586.3 L1163.7 592.8 L1164.2 589.1 L1164.7 581.8 L1165.2 588.3 L1165.7 591.2 L1166.2 586.7 L1166.7 583.4 L1167.2 588.8 L1167.7 583.3 L1168.2 575.1 L1168.7 592.4 L1169.2 578.3 L1169.7 583.4 L1170.2 583.5 L1170.8 582.9 L1171.3 583.3 L1171.8 577.5 L1172.3 588.1 L1172.8 585.4 L1173.3 585.5 L1173.8 591.0 L1174.3 591.2 L1174.8 592.5 L1175.3 595.3 L1175.8 587.8 L1176.3 577.0 L1176.8 586.5 L1177.3 585.4 L1177.8 585.7 L1178.3 582.2 L1178.8 580.6 L1179.4 589.7 L1179.9 590.7 L1180.4 579.4 L1180.9 588.4 L1181.4 584.4 L1181.9 583.4 L1182.4 589.2 L1182.9 585.3 L1183.4 582.6 L1183.9 585.9 L1184.4 574.9 L1184.9 582.5 L1185.4 582.6 L1185.9 578.2 L1186.4 586.7 L1186.9 587.2 L1187.5 582.5 L1188.0 584.8 L1188.5 589.4 L1189.0 591.5 L1189.5 581.7 L1190.0 587.7 L1190.5 591.4 L1191.0 585.7 L1191.5 581.8 L1192.0 581.8 L1192.5 584.2 L1193.0 580.4 L1193.5 596.8 L1194.0 582.9 L1194.5 588.1 L1195.0 587.0 L1195.5 589.5 L1196.1 584.0 L1196.6 579.1 L1197.1 597.6 L1197.6 585.7 L1198.1 586.8 L1198.6 587.3 L1199.1 593.0 L1199.6 590.4 L1200.1 592.6 L1200.6 590.7 L1201.1 587.4 L1201.6 587.7 L1202.1 582.4 L1202.6 572.9 L1203.1 585.2 L1203.6 580.7 L1204.1 600.4 L1204.7 594.9 L1205.2 592.8 L1205.7 583.6 L1206.2 597.6 L1206.7 574.7 L1207.2 580.1 L1207.7 582.5 L1208.2 581.5 L1208.7 587.4 L1209.2 587.8 L1209.7 597.0 L1210.2 593.7 L1210.7 593.3 L1211.2 589.7 L1211.7 586.0 L1212.2 583.1 L1212.8 578.7 L1213.3 582.2 L1213.8 584.8 L1214.3 592.2 L1214.8 577.9 L1215.3 579.6 L1215.8 588.1 L1216.3 581.3 L1216.8 588.7 L1217.3 584.7 L1217.8 582.9 L1218.3 579.8 L1218.8 586.5 L1219.3 583.1 L1219.8 583.7 L1220.3 583.6 L1220.8 588.0 L1221.4 587.8 L1221.9 577.8 L1222.4 586.1 L1222.9 589.1 L1223.4 592.6 L1223.9 591.2 L1224.4 588.1 L1224.9 580.9 L1225.4 581.6 L1225.9 591.9 L1226.4 583.2 L1226.9 592.5 L1227.4 595.9 L1227.9 581.3 L1228.4 589.4 L1228.9 586.4 L1229.4 597.9 L1230.0 591.5 L1230.5 584.3 L1231.0 589.2 L1231.5 582.1 L1232.0 586.2 L1232.5 588.1 L1233.0 587.8 L1233.5 588.6 L1234.0 580.7 L1234.5 577.1 L1235.0 585.1 L1235.5 582.2 L1236.0 583.3 L1236.5 598.4 L1237.0 593.2 L1237.5 586.1 L1238.1 579.3 L1238.6 578.0 L1239.1 588.9 L1239.6 592.7 L1240.1 585.5 L1240.6 587.7 L1241.1 588.4 L1241.6 592.7 L1242.1 576.9 L1242.6 588.1 L1243.1 589.2 L1243.6 592.1 L1244.1 589.1 L1244.6 581.1 L1245.1 583.9 L1245.6 578.9 L1246.1 588.0 L1246.7 588.0 L1247.2 589.7 L1247.7 580.3 L1248.2 579.1 L1248.7 595.1 L1249.2 588.0 L1249.7 596.3 L1250.2 589.3 L1250.7 579.2 L1251.2 591.3 L1251.7 593.6 L1252.2 584.6 L1252.7 576.7 L1253.2 590.6 L1253.7 586.3 L1254.2 588.5 L1254.7 572.7 L1255.3 589.4 L1255.8 572.6 L1256.3 582.4 L1256.8 591.7 L1257.3 577.3 L1257.8 577.1 L1258.3 584.6 L1258.8 595.8 L1259.3 595.6 L1259.8 583.8 L1260.3 592.3 L1260.8 590.1 L1261.3 588.4 L1261.8 588.9 L1262.3 583.1 L1262.8 591.3 L1263.4 592.7 L1263.9 601.4 L1264.4 591.9 L1264.9 573.9 L1265.4 580.6 L1265.9 588.8 L1266.4 587.5 L1266.9 577.1 L1267.4 586.2 L1267.9 585.1 L1268.4 586.7 L1268.9 586.3 L1269.4 591.9 L1269.9 594.8 L1270.4 590.6 L1270.9 581.1 L1271.4 582.4 L1272.0 583.4 L1272.5 586.6 L1273.0 584.7 L1273.5 585.1 L1274.0 580.6 L1274.5 592.0 L1275.0 591.5 L1275.5 592.1 L1276.0 586.6 L1276.5 589.4 L1277.0 580.7 L1277.5 581.6 L1278.0 584.1 L1278.5 590.1 L1279.0 586.2 L1279.5 580.9 L1280.0 587.5 L1280.6 589.2 L1281.1 587.9 L1281.6 583.4 L1282.1 587.3 L1282.6 584.7 L1283.1 585.3 L1283.6 586.5 L1284.1 591.0 L1284.6 596.7 L1285.1 595.3 L1285.6 590.4 L1286.1 584.3 L1286.6 585.4 L1287.1 585.6 L1287.6 593.2 L1288.1 572.7 L1288.7 588.4 L1289.2 576.5 L1289.7 587.1 L1290.2 596.2 L1290.7 582.3 L1291.2 575.0 L1291.7 594.0 L1292.2 595.1 L1292.7 589.8 L1293.2 593.8 L1293.7 582.9 L1294.2 595.3 L1294.7 596.2 L1295.2 590.6 L1295.7 588.7 L1296.2 594.1 L1296.7 593.3 L1297.3 583.3 L1297.8 594.5 L1298.3 591.3 L1298.8 588.2 L1299.3 594.3 L1299.8 592.3 L1300.3 591.3 L1300.8 584.7 L1301.3 591.8 L1301.8 581.6 L1302.3 586.8 L1302.8 578.5 L1303.3 578.4 L1303.8 589.9 L1304.3 587.1 L1304.8 588.0 L1305.3 590.7 L1305.9 589.5 L1306.4 582.9 L1306.9 588.0 L1307.4 587.3 L1307.9 584.9 L1308.4 587.0 L1308.9 585.8 L1309.4 584.3 L1309.9 586.0 L1310.4 589.0 L1310.9 598.8 L1311.4 583.5 L1311.9 590.6 L1312.4 577.8 L1312.9 596.3 L1313.4 586.2 L1314.0 588.9 L1314.5 594.7 L1315.0 593.2 L1315.5 580.1 L1316.0 591.0 L1316.5 586.9 L1317.0 591.4 L1317.5 588.9 L1318.0 592.0 L1318.5 589.7 L1319.0 587.4 L1319.5 594.4 L1320.0 580.1 L1320.5 586.0 L1321.0 583.2 L1321.5 587.5 L1322.0 586.1 L1322.6 587.6 L1323.1 585.8 L1323.6 585.9 L1324.1 577.1 L1324.6 588.2 L1325.1 590.1 L1325.6 585.3 L1326.1 585.0 L1326.6 585.1 L1327.1 597.4 L1327.6 589.6 L1328.1 590.7 L1328.6 587.0 L1329.1 586.0 L1329.6 584.0 L1330.1 599.3 L1330.6 579.7 L1331.2 590.8 L1331.7 588.6 L1332.2 587.4 L1332.7 578.0 L1333.2 582.3 L1333.7 594.0 L1334.2 585.2 L1334.7 593.5 L1335.2 592.4 L1335.7 592.0 L1336.2 593.0 L1336.7 582.6 L1337.2 586.5 L1337.7 592.6 L1338.2 582.3 L1338.7 597.8 L1339.3 585.2 L1339.8 588.7 L1340.3 583.7 L1340.8 591.6 L1341.3 585.2 L1341.8 587.9 L1342.3 583.1 L1342.8 595.5 L1343.3 580.6 L1343.8 591.6 L1344.3 590.5 L1344.8 591.6 L1345.3 583.9 L1345.8 594.7 L1346.3 594.4 L1346.8 590.2 L1347.3 591.0 L1347.9 588.5 L1348.4 592.8 L1348.9 585.1 L1349.4 592.4 L1349.9 591.6 L1350.4 579.8 L1350.9 575.7 L1351.4 588.9 L1351.9 588.7 L1352.4 596.0 L1352.9 589.9 L1353.4 587.0 L1353.9 582.4 L1354.4 589.2 L1354.9 586.6 L1355.4 583.9 L1355.9 589.1 L1356.5 595.3 L1357.0 590.2 L1357.5 584.2 L1358.0 591.5 L1358.5 584.0 L1359.0 581.5 L1359.5 592.5 L1360.0 587.0 L1360.5 595.8 L1361.0 591.6 L1361.5 585.7 L1362.0 591.1 L1362.5 596.8 L1363.0 588.7 L1363.5 584.4 L1364.0 585.5 L1364.6 585.8 L1365.1 582.0 L1365.6 583.3 L1366.1 592.3 L1366.6 596.0 L1367.1 588.3 L1367.6 594.3 L1368.1 596.4 L1368.6 599.1 L1369.1 589.3 L1369.6 588.4 L1370.1 592.5 L1370.6 590.8 L1371.1 591.9 L1371.6 597.2 L1372.1 588.1 L1372.6 591.5 L1373.2 585.2 L1373.7 589.6 L1374.2 586.9 L1374.7 586.5 L1375.2 589.3 L1375.7 588.1 L1376.2 593.0 L1376.7 594.7 L1377.2 582.7 L1377.7 595.8 L1378.2 578.9 L1378.7 591.9 L1379.2 594.3 L1379.7 587.2 L1380.2 589.4 L1380.7 586.5 L1381.2 596.8 L1381.8 576.5 L1382.3 585.6 L1382.8 577.5 L1383.3 591.7 L1383.8 597.6 L1384.3 597.0 L1384.8 594.3 L1385.3 592.1 L1385.8 586.8 L1386.3 597.2 L1386.8 594.1 L1387.3 586.4 L1387.8 584.1 L1388.3 587.6 L1388.8 596.6 L1389.3 597.5 L1389.9 599.4 L1390.4 586.8 L1390.9 589.0 L1391.4 598.2 L1391.9 592.1 L1392.4 595.0 L1392.9 584.0 L1393.4 589.0 L1393.9 590.9 L1394.4 589.1 L1394.9 588.8 L1395.4 582.4 L1395.9 599.6 L1396.4 591.8 L1396.9 583.4 L1397.4 598.4 L1397.9 591.4 L1398.5 594.9 L1399.0 590.1 L1399.5 587.0 L1400.0 586.0 L1400.5 593.0 L1401.0 595.2 L1401.5 593.7 L1402.0 594.6 L1402.5 597.5 L1403.0 592.7 L1403.5 598.1 L1404.0 597.1 L1404.5 592.8 L1405.0 590.9 L1405.5 589.0 L1406.0 585.0 L1406.5 583.2 L1407.1 598.2 L1407.6 591.3 L1408.1 588.5 L1408.6 599.7 L1409.1 596.5 L1409.6 591.7 L1410.1 596.7 L1410.6 590.4 L1411.1 593.3 L1411.6 601.0 L1412.1 597.0 L1412.6 590.1 L1413.1 595.1 L1413.6 597.7 L1414.1 590.9 L1414.6 589.4 L1415.2 601.4 L1415.7 590.1 L1416.2 584.7 L1416.7 592.4 L1417.2 603.7 L1417.7 595.0 L1418.2 596.8 L1418.7 580.5 L1419.2 588.9 L1419.7 598.2 L1420.2 589.8 L1420.7 598.8 L1421.2 594.5 L1421.7 594.9 L1422.2 600.8 L1422.7 589.4 L1423.2 589.6 L1423.8 593.0 L1424.3 593.2 L1424.8 583.2 L1425.3 598.5 L1425.8 593.3 L1426.3 591.2 L1426.8 595.4 L1427.3 590.0 L1427.8 598.4 L1428.3 592.5 L1428.8 595.9 L1429.3 587.5 L1429.8 590.7 L1430.3 594.1 L1430.8 587.2 L1431.3 588.7 L1431.8 591.9 L1432.4 598.0 L1432.9 596.1 L1433.4 596.9 L1433.9 593.7 L1434.4 596.9 L1434.9 600.2 L1435.4 593.0 L1435.9 594.4 L1436.4 595.2 L1436.9 581.7 L1437.4 591.6 L1437.9 594.3 L1438.4 597.5 L1438.9 590.5 L1439.4 597.2 L1439.9 588.8 L1440.5 591.2 L1441.0 600.9 L1441.5 585.1 L1442.0 591.7 L1442.5 591.4 L1443.0 591.6 L1443.5 589.3 L1444.0 595.5 L1444.5 585.0 L1445.0 585.2 L1445.5 594.6 L1446.0 585.9 L1446.5 594.0 L1447.0 592.2 L1447.5 588.5 L1448.0 590.3 L1448.5 591.5 L1449.1 594.4 L1449.6 588.7 L1450.1 590.9 L1450.6 584.6 L1451.1 590.6 L1451.6 582.0 L1452.1 591.7 L1452.6 589.6 L1453.1 602.9 L1453.6 598.6 L1454.1 591.2 L1454.6 596.9 L1455.1 593.4 L1455.6 584.2 L1456.1 579.3 L1456.6 597.7 L1457.1 593.9 L1457.7 581.7 L1458.2 595.2 L1458.7 596.6 L1459.2 588.3 L1459.7 596.0 L1460.2 582.9 L1460.7 590.7 L1461.2 592.1 L1461.7 595.9 L1462.2 593.9 L1462.7 593.0 L1463.2 594.8 L1463.7 587.5 L1464.2 599.6 L1464.7 590.1 L1465.2 596.0 L1465.8 591.9 L1466.3 590.6 L1466.8 594.9 L1467.3 594.2 L1467.8 598.9 L1468.3 597.5 L1468.8 588.9 L1469.3 594.5 L1469.8 592.4 L1470.3 586.6 L1470.8 586.2 L1471.3 593.2 L1471.8 589.1 L1472.3 584.7 L1472.8 591.3 L1473.3 593.1 L1473.8 592.4 L1474.4 585.7 L1474.9 588.9 L1475.4 599.0 L1475.9 587.9 L1476.4 590.2 L1476.9 607.5 L1477.4 593.7 L1477.9 589.3 L1478.4 581.8 L1478.9 593.5 L1479.4 584.7 L1479.9 591.8 L1480.4 587.4 L1480.9 583.2 L1481.4 603.1 L1481.9 591.4 L1482.4 596.7 L1483.0 595.7 L1483.5 587.0 L1484.0 592.4 L1484.5 590.1 L1485.0 596.9 L1485.5 594.1 L1486.0 590.1 L1486.5 600.5 L1487.0 594.6 L1487.5 594.3 L1488.0 587.9 L1488.5 594.0 L1489.0 584.3 L1489.5 594.3 L1490.0 587.1 L1490.5 592.9 L1491.1 590.5 L1491.6 593.1 L1492.1 593.8 L1492.6 591.6 L1493.1 591.7 L1493.6 584.2 L1494.1 582.1 L1494.6 598.5 L1495.1 594.9 L1495.6 584.3 L1496.1 601.9 L1496.6 588.3 L1497.1 594.6 L1497.6 594.2 L1498.1 592.5 L1498.6 595.1 L1499.1 584.9 L1499.7 591.8 L1500.2 590.7 L1500.7 592.5 L1501.2 590.6 L1501.7 587.7 L1502.2 587.1 L1502.7 596.6 L1503.2 587.6 L1503.7 593.9 L1504.2 593.9 L1504.7 591.5 L1505.2 594.9 L1505.7 594.9 L1506.2 589.3 L1506.7 593.8 L1507.2 601.9 L1507.7 586.5 L1508.3 590.5 L1508.8 588.1 L1509.3 602.4 L1509.8 584.8 L1510.3 592.1 L1510.8 596.9 L1511.3 587.6 L1511.8 591.4 L1512.3 588.4 L1512.8 585.2 L1513.3 591.8 L1513.8 594.7 L1514.3 590.1 L1514.8 593.0 L1515.3 595.7 L1515.8 598.3 L1516.4 585.8 L1516.9 595.3 L1517.4 589.0 L1517.9 582.4 L1518.4 588.2 L1518.9 595.5 L1519.4 593.8 L1519.9 586.5 L1520.4 600.5 L1520.9 594.3 L1521.4 591.9 L1521.9 589.4 L1522.4 595.0 L1522.9 590.2 L1523.4 599.8 L1523.9 593.8 L1524.4 596.4 L1525.0 590.7 L1525.5 584.6 L1526.0 595.0 L1526.5 587.1 L1527.0 591.7 L1527.5 592.2 L1528.0 588.3 L1528.5 596.9 L1529.0 584.9 L1529.5 600.0 L1530.0 589.3 L1530.5 597.3 L1531.0 599.0 L1531.5 586.5 L1532.0 588.5 L1532.5 597.2 L1533.0 593.3 L1533.6 592.9 L1534.1 582.9 L1534.6 583.9 L1535.1 595.1 L1535.6 599.7 L1536.1 587.6 L1536.6 587.9 L1537.1 593.4 L1537.6 594.8 L1538.1 595.3 L1538.6 590.1 L1539.1 582.4 L1539.6 599.9 L1540.1 589.8 L1540.6 598.8 L1541.1 582.2 L1541.7 594.3 L1542.2 589.9 L1542.7 586.9 L1543.2 598.9 L1543.7 599.0 L1544.2 588.5 L1544.7 596.7 L1545.2 586.9 L1545.7 589.3 L1546.2 591.2 L1546.7 590.1 L1547.2 595.7 L1547.7 586.3 L1548.2 597.4 L1548.7 597.4 L1549.2 591.4 L1549.7 586.4 L1550.3 580.3 L1550.8 592.2 L1551.3 588.8 L1551.8 593.0 L1552.3 587.1 L1552.8 592.5 L1553.3 592.2 L1553.8 592.6 L1554.3 594.0 L1554.8 594.0 L1555.3 597.5 L1555.8 588.6 L1556.3 596.2 L1556.8 593.4 L1557.3 590.4 L1557.8 587.5 L1558.3 600.0 L1558.9 593.8 L1559.4 590.0 L1559.9 593.0 L1560.4 592.6 L1560.9 590.0 L1561.4 585.6 L1561.9 593.4 L1562.4 591.8 L1562.9 591.2 L1563.4 597.6 L1563.9 586.0 L1564.4 587.8 L1564.9 593.5 L1565.4 596.9 L1565.9 595.8 L1566.4 596.4 L1567.0 581.5 L1567.5 595.2 L1568.0 594.8 L1568.5 596.2 L1569.0 589.2 L1569.5 595.3 L1570.0 597.8 L1570.5 600.9 L1571.0 594.4 L1571.5 586.0 L1572.0 593.0 L1572.5 596.0 L1573.0 595.4 L1573.5 602.5 L1574.0 591.8 L1574.5 587.6 L1575.0 589.6 L1575.6 596.1 L1576.1 587.5 L1576.6 585.9 L1577.1 587.3 L1577.6 598.9 L1578.1 594.0 L1578.6 590.6 L1579.1 598.4 L1579.6 596.3 L1580.1 587.9 L1580.6 597.1 L1581.1 594.1 L1581.6 582.4 L1582.1 586.9 L1582.6 594.2 L1583.1 595.3 L1583.6 591.4 L1584.2 587.8 L1584.7 594.2 L1585.2 583.6 L1585.7 595.7 L1586.2 592.2 L1586.7 592.8 L1587.2 589.6 L1587.7 597.2 L1588.2 581.2 L1588.7 588.6 L1589.2 595.9 L1589.7 589.4 L1590.2 600.4 L1590.7 595.2 L1591.2 589.1 L1591.7 598.6 L1592.3 592.6 L1592.8 596.0 L1593.3 590.0 L1593.8 590.0 L1594.3 596.7 L1594.8 593.6 L1595.3 589.3 L1595.8 588.7 L1596.3 596.4 L1596.8 602.1 L1597.3 588.9 L1597.8 596.6 L1598.3 579.2 L1598.8 586.2 L1599.3 596.6 L1599.8 601.3 L1600.3 593.5 L1600.9 596.0 L1601.4 594.6 L1601.9 598.4 L1602.4 587.8 L1602.9 596.5 L1603.4 591.1 L1603.9 591.6 L1604.4 593.3 L1604.9 592.3 L1605.4 589.4 L1605.9 592.0 L1606.4 588.5 L1606.9 600.8 L1607.4 596.9 L1607.9 591.3 L1608.4 601.4 L1608.9 599.8 L1609.5 595.8 L1610.0 590.7 L1610.5 594.7 L1611.0 596.3 L1611.5 600.4 L1612.0 592.5 L1612.5 590.5 L1613.0 605.0 L1613.5 600.4 L1614.0 595.0 L1614.5 588.8 L1615.0 595.9 L1615.5 599.1 L1616.0 598.5 L1616.5 597.6 L1617.0 593.7 L1617.6 599.2 L1618.1 590.4 L1618.6 591.2 L1619.1 590.9 L1619.6 589.3 L1620.1 603.3 L1620.6 584.9 L1621.1 594.7 L1621.6 588.5 L1622.1 587.2 L1622.6 594.0 L1623.1 585.6 L1623.6 593.0 L1624.1 605.1 L1624.6 592.9 L1625.1 595.8 L1625.6 589.2 L1626.2 595.9 L1626.7 586.0 L1627.2 594.5 L1627.7 592.8 L1628.2 604.4 L1628.7 593.0 L1629.2 591.1 L1629.7 590.6 L1630.2 587.4 L1630.7 597.3 L1631.2 600.8 L1631.7 591.6 L1632.2 597.0 L1632.7 591.7 L1633.2 595.5 L1633.7 595.8 L1634.2 586.2 L1634.8 589.5 L1635.3 598.2 L1635.8 583.8 L1636.3 593.5 L1636.8 591.7 L1637.3 588.8 L1637.8 593.7 L1638.3 595.0 L1638.8 596.2 L1639.3 580.1 L1639.8 602.0 L1640.3 591.1 L1640.8 598.8 L1641.3 592.9 L1641.8 590.5 L1642.3 593.2 L1642.9 607.2 L1643.4 601.4 L1643.9 591.7 L1644.4 595.0 L1644.9 599.2 L1645.4 597.4 L1645.9 593.9 L1646.4 592.6 L1646.9 588.1 L1647.4 597.3 L1647.9 599.1 L1648.4 604.9 L1648.9 590.8 L1649.4 596.9 L1649.9 593.4 L1650.4 599.9 L1650.9 593.1 L1651.5 590.3 L1652.0 585.0 L1652.5 597.2 L1653.0 594.4 L1653.5 599.3 L1654.0 590.8 L1654.5 606.8 L1655.0 590.0 L1655.5 596.2 L1656.0 595.7 L1656.5 599.2 L1657.0 592.8 L1657.5 589.0 L1658.0 587.1 L1658.5 597.8 L1659.0 594.3 L1659.5 595.9 L1660.1 589.5 L1660.6 594.4 L1661.1 594.8 L1661.6 596.8 L1662.1 586.2 L1662.6 589.8 L1663.1 602.4 L1663.6 591.7 L1664.1 593.3 L1664.6 591.7 L1665.1 586.1 L1665.6 588.2 L1666.1 595.6 L1666.6 590.3 L1667.1 604.0 L1667.6 586.1 L1668.2 583.9 L1668.7 591.7 L1669.2 585.8 L1669.7 600.7 L1670.2 591.6 L1670.7 596.4 L1671.2 584.4 L1671.7 597.1 L1672.2 597.0 L1672.7 600.0 L1673.2 594.9 L1673.7 596.4 L1674.2 594.6 L1674.7 598.4 L1675.2 591.7 L1675.7 596.5 L1676.2 590.9 L1676.8 597.3 L1677.3 592.4 L1677.8 590.5 L1678.3 590.3 L1678.8 601.2 L1679.3 585.9 L1679.8 586.3 L1680.3 597.0 L1680.8 587.2 L1681.3 591.5 L1681.8 590.6 L1682.3 605.4 L1682.8 590.4 L1683.3 590.2 L1683.8 591.9 L1684.3 595.0 L1684.8 596.4 L1685.4 586.4 L1685.9 596.1 L1686.4 603.8 L1686.9 584.8 L1687.4 596.8 L1687.9 597.8 L1688.4 594.7 L1688.9 592.9 L1689.4 582.0 L1689.9 600.0 L1690.4 592.3 L1690.9 592.9 L1691.4 600.2 L1691.9 582.1 L1692.4 593.6 L1692.9 597.0 L1693.5 597.6 L1694.0 597.1 L1694.5 607.4 L1695.0 595.4 L1695.5 599.1 L1696.0 597.9 L1696.5 586.5 L1697.0 590.1 L1697.5 604.6 L1698.0 592.2 L1698.5 593.7 L1699.0 587.4 L1699.5 592.3 L1700.0 587.4 L1700.5 591.0 L1701.0 596.9 L1701.5 589.9 L1702.1 591.0 L1702.6 600.8 L1703.1 596.5 L1703.6 596.7 L1704.1 599.1 L1704.6 591.3 L1705.1 592.1 L1705.6 583.7 L1706.1 597.8 L1706.6 593.1 L1707.1 594.1 L1707.6 588.6 L1708.1 597.3 L1708.6 597.3 L1709.1 595.1 L1709.6 586.1 L1710.1 589.9 L1710.7 594.0 L1711.2 590.0 L1711.7 596.1 L1712.2 599.3 L1712.7 590.4 L1713.2 593.3 L1713.7 590.8 L1714.2 599.4 L1714.7 598.8 L1715.2 607.7 L1715.7 594.3 L1716.2 589.5 L1716.7 596.3 L1717.2 592.7 L1717.7 595.2 L1718.2 600.5 L1718.8 592.8 L1719.3 597.9 L1719.8 583.6 L1720.3 599.6 L1720.8 595.0 L1721.3 593.1 L1721.8 591.8 L1722.3 601.5 L1722.8 591.8 L1723.3 602.7 L1723.8 591.8 L1724.3 594.6 L1724.8 596.2 L1725.3 604.6 L1725.8 595.6 L1726.3 595.6 L1726.8 594.1 L1727.4 592.9 L1727.9 591.4 L1728.4 603.5 L1728.9 604.1 L1729.4 591.0 L1729.9 595.3 L1730.4 588.5 L1730.9 599.2 L1731.4 597.9 L1731.9 595.1 L1732.4 590.4 L1732.9 598.4 L1733.4 597.6 L1733.9 593.6 L1734.4 598.2 L1734.9 587.8 L1735.4 591.5 L1736.0 589.8 L1736.5 595.1 L1737.0 602.9 L1737.5 594.8 L1738.0 600.3 L1738.5 594.4 L1739.0 591.9 L1739.5 599.7 L1740.0 597.3 L1740.5 601.7 L1741.0 601.0 L1741.5 590.5 L1742.0 581.8 L1742.5 595.3 L1743.0 588.7 L1743.5 587.5 L1744.1 587.2 L1744.6 591.4 L1745.1 593.6 L1745.6 594.6 L1746.1 604.9 L1746.6 588.5 L1747.1 594.6 L1747.6 588.4 L1748.1 589.6 L1748.6 595.0 L1749.1 596.7 L1749.6 588.2 L1750.1 600.4 L1750.6 590.0 L1751.1 599.5 L1751.6 594.4 L1752.1 599.2 L1752.7 597.5 L1753.2 593.2 L1753.7 597.1 L1754.2 588.0 L1754.7 588.2 L1755.2 592.9 L1755.7 601.6 L1756.2 591.0 L1756.7 591.7 L1757.2 603.1 L1757.7 594.9 L1758.2 594.7 L1758.7 589.5 L1759.2 595.0 L1759.7 598.6 L1760.2 594.5 L1760.7 598.6 L1761.3 596.9 L1761.8 600.0 L1762.3 598.9 L1762.8 594.1 L1763.3 599.1 L1763.8 603.8 L1764.3 596.3 L1764.8 588.7 L1765.3 595.8 L1765.8 593.8 L1766.3 607.8 L1766.8 598.6 L1767.3 589.3 L1767.8 593.9 L1768.3 602.1 L1768.8 589.0 L1769.4 592.4 L1769.9 594.8 L1770.4 594.1 L1770.9 591.9 L1771.4 595.5 L1771.9 587.8 L1772.4 591.9 L1772.9 591.8 L1773.4 593.3 L1773.9 593.3 L1774.4 594.8 L1774.9 593.1 L1775.4 592.7 L1775.9 596.6 L1776.4 599.3 L1776.9 599.7 L1777.4 589.1 L1778.0 596.1 L1778.5 598.6 L1779.0 593.5 L1779.5 597.2 L1780.0 593.8 L1780.5 596.8 L1781.0 587.3 L1781.5 597.8 L1782.0 592.5 L1782.5 591.2"/>
<path stroke="#9000ff" d="M137.5 1049.9 L138.0 1040.4 L138.5 1042.3 L139.0 1021.2 L139.5 1062.9 L140.0 1055.6 L140.5 1040.1 L141.0 1052.7 L141.5 1044.7 L142.1 1035.6 L142.6 1050.2 L143.1 1036.5 L143.6 1035.6 L144.1 1030.3 L144.6 1043.4 L145.1 1035.7 L145.6 1041.4 L146.1 1029.2 L146.6 1035.8 L147.1 1024.9 L147.6 1041.5 L148.1 1034.3 L148.6 1035.0 L149.1 1035.1 L149.6 1020.2 L150.2 1039.8 L150.7 1049.5 L151.2 1011.9 L151.7 1010.3 L152.2 1011.9 L152.7 1034.6 L153.2 1026.8 L153.7 1035.6 L154.2 1031.4 L154.7 1025.7 L155.2 1025.7 L155.7 1020.5 L156.2 1030.2 L156.7 1006.3 L157.2 1016.1 L157.7 1022.0 L158.2 1036.9 L158.8 1010.7 L159.3 1006.9 L159.8 1011.4 L160.3 1026.0 L160.8 1013.4 L161.3 1028.3 L161.8 995.8 L162.3 1025.1 L162.8 1023.5 L163.3 998.4 L163.8 1013.4 L164.3 1023.4 L164.8 1011.6 L165.3 1020.1 L165.8 1033.2 L166.3 1011.6 L166.8 1004.7 L167.4 1000.1 L167.9 1013.6 L168.4 1004.7 L168.9 1003.8 L169.4 1004.5 L169.9 1011.5 L170.4 993.9 L170.9 988.8 L171.4 979.3 L171.9 1015.1 L172.4 1003.4 L172.9 1017.3 L173.4 1001.7 L173.9 994.0 L174.4 1005.7 L174.9 999.8 L175.5 987.7 L176.0 991.0 L176.5 1017.0 L177.0 1002.6 L177.5 1002.8 L178.0 995.5 L178.5 991.0 L179.0 1006.4 L179.5 996.1 L180.0 989.2 L180.5 995.0 L181.0 987.0 L181.5 997.5 L182.0 1006.4 L182.5 986.5 L183.0 1008.6 L183.5 985.3 L184.1 995.0 L184.6 984.7 L185.1 990.4 L185.6 992.6 L186.1 987.4 L186.6 984.3 L187.1 984.1 L187.6 982.2 L188.1 974.3 L188.6 986.8 L189.1 992.9 L189.6 997.5 L190.1 994.4 L190.6 1011.9 L191.1 990.2 L191.6 982.0 L192.1 1004.7 L192.7 975.2 L193.2 994.7 L193.7 975.1 L194.2 987.7 L194.7 964.1 L195.2 992.1 L195.7 981.1 L196.2 969.7 L196.7 998.3 L197.2 991.1 L197.7 981.1 L198.2 972.8 L198.7 979.3 L199.2 977.6 L199.7 985.9 L200.2 986.1 L200.8 971.1 L201.3 971.8 L201.8 971.4 L202.3 962.8 L202.8 968.1 L203.3 974.3 L203.8 981.6 L204.3 987.4 L204.8 965.7 L205.3 978.7 L205.8 968.4 L206.3 992.9 L206.8 971.3 L207.3 976.3 L207.8 961.6 L208.3 962.3 L208.8 971.9 L209.4 965.6 L209.9 972.4 L210.4 953.0 L210.9 974.6 L211.4 958.6 L211.9 984.1 L212.4 963.7 L212.9 977.0 L213.4 947.7 L213.9 969.5 L214.4 956.0 L214.9 959.5 L215.4 964.1 L215.9 960.3 L216.4 965.6 L216.9 969.9 L217.4 968.5 L218.0 960.8 L218.5 947.7 L219.0 952.8 L219.5 958.4 L220.0 938.9 L220.5 966.9 L221.0 956.6 L221.5 956.1 L222.0 970.3 L222.5 964.3 L223.0 959.4 L223.5 946.9 L224.0 959.5 L224.5 959.4 L225.0 946.8 L225.5 965.4 L226.1 959.7 L226.6 934.7 L227.1 955.0 L227.6 940.9 L228.1 964.2 L228.6 960.5 L229.1 941.2 L229.6 942.9 L230.1 952.2 L230.6 948.4 L231.1 965.5 L231.6 957.3 L232.1 946.7 L232.6 954.8 L233.1 922.5 L233.6 951.3 L234.1 956.4 L234.7 945.1 L235.2 939.9 L235.7 952.1 L236.2 965.4 L236.7 947.7 L237.2 934.1 L237.7 959.1 L238.2 925.8 L238.7 950.4 L239.2 937.7 L239.7 952.2 L240.2 934.2 L240.7 955.2 L241.2 944.7 L241.7 924.2 L242.2 921.3 L242.7 937.2 L243.3 956.5 L243.8 940.7 L244.3 939.7 L244.8 936.2 L245.3 945.4 L245.8 941.4 L246.3 940.0 L246.8 927.0 L247.3 948.0 L247.8 949.3 L248.3 922.5 L248.8 957.6 L249.3 941.5 L249.8 929.1 L250.3 909.0 L250.8 939.5 L251.4 938.0 L251.9 926.2 L252.4 913.9 L252.9 942.2 L253.4 924.8 L253.9 925.4 L254.4 956.2 L254.9 950.1 L255.4 938.0 L255.9 922.2 L256.4 934.0 L256.9 904.5 L257.4 927.6 L257.9 918.5 L258.4 912.8 L258.9 909.3 L259.4 929.5 L260.0 924.7 L260.5 924.8 L261.0 931.0 L261.5 913.8 L262.0 909.4 L262.5 903.5 L263.0 917.2 L263.5 927.4 L264.0 917.9 L264.5 925.1 L265.0 906.6 L265.5 913.0 L266.0 909.5 L266.5 904.2 L267.0 934.2 L267.5 923.7 L268.0 907.2 L268.6 904.3 L269.1 913.0 L269.6 898.8 L270.1 916.7 L270.6 899.1 L271.1 907.6 L271.6 900.6 L272.1 903.9 L272.6 896.4 L273.1 893.4 L273.6 898.8 L274.1 901.1 L274.6 904.3 L275.1 907.3 L275.6 921.0 L276.1 913.4 L276.7 902.4 L277.2 911.4 L277.7 896.9 L278.2 917.4 L278.7 908.0 L279.2 888.7 L279.7 908.9 L280.2 908.9 L280.7 873.9 L281.2 892.4 L281.7 894.6 L282.2 879.7 L282.7 884.5 L283.2 888.3 L283.7 902.1 L284.2 899.5 L284.7 921.8 L285.3 891.6 L285.8 906.3 L286.3 895.3 L286.8 896.6 L287.3 882.1 L287.8 874.2 L288.3 884.9 L288.8 899.5 L289.3 907.1 L289.8 897.0 L290.3 895.5 L290.8 881.9 L291.3 904.7 L291.8 902.4 L292.3 883.5 L292.8 887.9 L293.3 878.1 L293.9 901.9 L294.4 891.0 L294.9 885.7 L295.4 890.2 L295.9 890.2 L296.4 881.4 L296.9 872.8 L297.4 872.0 L297.9 867.2 L298.4 888.4 L298.9 905.2 L299.4 861.4 L299.9 884.4 L300.4 886.3 L300.9 872.2 L301.4 883.5 L302.0 870.4 L302.5 896.0 L303.0 874.5 L303.5 881.0 L304.0 886.3 L304.5 875.0 L305.0 861.3 L305.5 873.3 L306.0 885.6 L306.5 876.9 L307.0 880.3 L307.5 866.5 L308.0 878.1 L308.5 883.5 L309.0 876.3 L309.5 894.3 L310.0 873.2 L310.6 864.7 L311.1 858.7 L311.6 885.5 L312.1 873.3 L312.6 883.5 L313.1 877.7 L313.6 888.8 L314.1 884.9 L314.6 868.5 L315.1 874.6 L315.6 882.2 L316.1 859.1 L316.6 885.1 L317.1 882.4 L317.6 879.9 L318.1 868.0 L318.6 872.6 L319.2 858.4 L319.7 869.5 L320.2 862.9 L320.7 869.2 L321.2 863.2 L321.7 870.5 L322.2 879.0 L322.7 854.3 L323.2 875.9 L323.7 847.0 L324.2 845.1 L324.7 864.8 L325.2 865.7 L325.7 869.7 L326.2 848.9 L326.7 864.0 L327.3 865.7 L327.8 876.5 L328.3 862.9 L328.8 868.8 L329.3 853.8 L329.8 861.2 L330.3 858.4 L330.8 869.4 L331.3 852.6 L331.8 853.8 L332.3 867.3 L332.8 878.9 L333.3 864.9 L333.8 863.9 L334.3 857.2 L334.8 874.2 L335.3 867.0 L335.9 876.8 L336.4 863.8 L336.9 850.1 L337.4 853.5 L337.9 849.2 L338.4 846.4 L338.9 870.7 L339.4 866.0 L339.9 845.8 L340.4 875.0 L340.9 860.5 L341.4 847.9 L341.9 860.7 L342.4 856.1 L342.9 849.0 L343.4 837.3 L343.9 856.5 L344.5 858.7 L345.0 830.5 L345.5 860.8 L346.0 861.2 L346.5 850.4 L347.0 855.9 L347.5 851.8 L348.0 846.2 L348.5 850.6 L349.0 867.1 L349.5 839.6 L350.0 855.9 L350.5 855.1 L351.0 846.2 L351.5 847.4 L352.0 839.1 L352.6 844.2 L353.1 852.5 L353.6 855.3 L354.1 843.2 L354.6 878.1 L355.1 846.0 L355.6 852.6 L356.1 848.9 L356.6 847.1 L357.1 863.5 L357.6 845.9 L358.1 863.4 L358.6 861.3 L359.1 839.8 L359.6 862.9 L360.1 843.3 L360.6 883.6 L361.2 844.4 L361.7 839.9 L362.2 830.3 L362.7 836.1 L363.2 842.8 L363.7 838.6 L364.2 836.1 L364.7 841.1 L365.2 845.7 L365.7 861.6 L366.2 825.8 L366.7 841.7 L367.2 837.6 L367.7 832.0 L368.2 834.2 L368.7 837.5 L369.2 853.1 L369.8 844.0 L370.3 838.9 L370.8 851.4 L371.3 848.0 L371.8 842.9 L372.3 848.6 L372.8 836.6 L373.3 850.5 L373.8 848.8 L374.3 840.0 L374.8 831.9 L375.3 858.3 L375.8 844.3 L376.3 869.4 L376.8 836.6 L377.3 851.0 L377.9 837.0 L378.4 844.7 L378.9 850.1 L379.4 831.6 L379.9 840.5 L380.4 842.8 L380.9 842.1 L381.4 846.6 L381.9 850.5 L382.4 848.4 L382.9 842.6 L383.4 836.4 L383.9 828.6 L384.4 832.1 L384.9 833.9 L385.4 845.4 L385.9 833.9 L386.5 826.2 L387.0 844.1 L387.5 827.6 L388.0 830.0 L388.5 835.0 L389.0 842.9 L389.5 813.3 L390.0 825.5 L390.5 837.9 L391.0 832.4 L391.5 827.2 L392.0 830.1 L392.5 852.6 L393.0 830.4 L393.5 841.5 L394.0 842.0 L394.5 829.7 L395.1 839.3 L395.6 829.1 L396.1 827.3 L396.6 822.0 L397.1 841.2 L397.6 827.4 L398.1 826.8 L398.6 821.0 L399.1 849.1 L399.6 840.7 L400.1 829.8 L400.6 822.1 L401.1 811.3 L401.6 833.1 L402.1 832.8 L402.6 816.1 L403.2 844.1 L403.7 836.8 L404.2 819.7 L404.7 821.7 L405.2 824.4 L405.7 829.8 L406.2 826.6 L406.7 811.9 L407.2 841.8 L407.7 830.3 L408.2 839.2 L408.7 838.9 L409.2 824.5 L409.7 829.6 L410.2 835.3 L410.7 833.2 L411.2 824.0 L411.8 819.3 L412.3 825.4 L412.8 817.1 L413.3 819.3 L413.8 804.8 L414.3 825.0 L414.8 814.0 L415.3 818.4 L415.8 823.0 L416.3 826.4 L416.8 841.4 L417.3 824.9 L417.8 809.1 L418.3 823.8 L418.8 816.6 L419.3 826.0 L419.8 815.3 L420.4 814.9 L420.9 815.2 L421.4 815.3 L421.9 803.6 L422.4 814.6 L422.9 820.7 L423.4 832.3 L423.9 817.7 L424.4 816.7 L424.9 825.8 L425.4 825.2 L425.9 835.3 L426.4 825.3 L426.9 819.3 L427.4 832.2 L427.9 833.9 L428.5 814.4 L429.0 820.4 L429.5 802.4 L430.0 815.0 L430.5 809.8 L431.0 816.1 L431.5 813.4 L432.0 816.3 L432.5 816.7 L433.0 822.3 L433.5 819.6 L434.0 811.8 L434.5 804.7 L435.0 828.9 L435.5 830.5 L436.0 812.3 L436.5 821.9 L437.1 801.7 L437.6 801.2 L438.1 813.5 L438.6 830.1 L439.1 805.7 L439.6 805.2 L440.1 831.0 L440.6 797.1 L441.1 821.5 L441.6 819.8 L442.1 813.0 L442.6 816.6 L443.1 847.5 L443.6 803.7 L444.1 810.4 L444.6 811.9 L445.1 807.5 L445.7 801.0 L446.2 829.2 L446.7 815.8 L447.2 796.6 L447.7 806.6 L448.2 817.2 L448.7 817.0 L449.2 799.1 L449.7 812.0 L450.2 815.2 L450.7 816.4 L451.2 816.2 L451.7 794.8 L452.2 829.9 L452.7 814.1 L453.2 829.3 L453.8 845.5 L454.3 810.1 L454.8 799.6 L455.3 819.6 L455.8 809.4 L456.3 806.7 L456.8 801.0 L457.3 827.0 L457.8 806.4 L458.3 797.0 L458.8 806.0 L459.3 799.1 L459.8 811.6 L460.3 805.9 L460.8 799.6 L461.3 815.4 L461.8 803.3 L462.4 816.3 L462.9 821.3 L463.4 805.5 L463.9 802.7 L464.4 810.6 L464.9 817.1 L465.4 808.4 L465.9 809.6 L466.4 807.9 L466.9 810.9 L467.4 813.8 L467.9 800.9 L468.4 802.9 L468.9 807.7 L469.4 800.8 L469.9 808.3 L470.4 812.0 L471.0 806.4 L471.5 800.7 L472.0 798.9 L472.5 823.0 L473.0 814.5 L473.5 795.1 L474.0 797.7 L474.5 823.6 L475.0 819.9 L475.5 806.5 L476.0 816.2 L476.5 790.7 L477.0 804.8 L477.5 811.7 L478.0 781.2 L478.5 796.8 L479.1 811.6 L479.6 814.8 L480.1 798.1 L480.6 806.4 L481.1 818.8 L481.6 799.6 L482.1 786.5 L482.6 802.4 L483.1 797.9 L483.6 815.1 L484.1 804.0 L484.6 794.6 L485.1 825.2 L485.6 797.2 L486.1 806.4 L486.6 808.2 L487.1 809.0 L487.7 803.0 L488.2 806.8 L488.7 800.4 L489.2 787.3 L489.7 798.6 L490.2 798.7 L490.7 798.7 L491.2 801.6 L491.7 794.1 L492.2 812.6 L492.7 814.8 L493.2 778.6 L493.7 799.6 L494.2 792.6 L494.7 774.3 L495.2 803.0 L495.7 793.0 L496.3 795.2 L496.8 792.4 L497.3 808.9 L497.8 810.2 L498.3 801.7 L498.8 804.7 L499.3 796.9 L499.8 799.1 L500.3 790.6 L500.8 797.8 L501.3 790.6 L501.8 800.8 L502.3 805.0 L502.8 800.0 L503.3 808.2 L503.8 822.5 L504.4 776.5 L504.9 796.6 L505.4 790.9 L505.9 791.9 L506.4 783.1 L506.9 796.6 L507.4 793.4 L507.9 789.7 L508.4 793.2 L508.9 788.2 L509.4 773.0 L509.9 805.6 L510.4 792.3 L510.9 786.0 L511.4 798.8 L511.9 788.5 L512.4 774.0 L513.0 803.1 L513.5 778.5 L514.0 792.3 L514.5 795.4 L515.0 807.1 L515.5 805.4 L516.0 795.5 L516.5 786.6 L517.0 789.8 L517.5 804.0 L518.0 810.6 L518.5 798.6 L519.0 787.1 L519.5 803.0 L520.0 789.5 L520.5 789.1 L521.0 789.4 L521.6 798.4 L522.1 795.3 L522.6 802.0 L523.1 804.8 L523.6 797.2 L524.1 770.0 L524.6 771.1 L525.1 793.5 L525.6 791.3 L526.1 818.6 L526.6 791.4 L527.1 790.2 L527.6 800.5 L528.1 801.6 L528.6 789.1 L529.1 795.7 L529.7 780.3 L530.2 782.0 L530.7 802.7 L531.2 777.4 L531.7 799.5 L532.2 797.1 L532.7 797.9 L533.2 799.2 L533.7 795.8 L534.2 769.9 L534.7 780.6 L535.2 784.4 L535.7 798.7 L536.2 779.2 L536.7 783.1 L537.2 786.3 L537.7 806.0 L538.3 775.9 L538.8 776.6 L539.3 795.4 L539.8 769.1 L540.3 792.4 L540.8 784.9 L541.3 769.6 L541.8 785.0 L542.3 779.4 L542.8 790.5 L543.3 792.3 L543.8 802.9 L544.3 788.5 L544.8 789.5 L545.3 781.4 L545.8 788.2 L546.3 798.3 L546.9 770.0 L547.4 794.5 L547.9 783.1 L548.4 788.8 L548.9 791.1 L549.4 796.1 L549.9 790.2 L550.4 784.1 L550.9 790.7 L551.4 787.9 L551.9 785.7 L552.4 789.6 L552.9 795.9 L553.4 788.8 L553.9 789.4 L554.4 775.1 L555.0 786.1 L555.5 764.3 L556.0 794.1 L556.5 778.3 L557.0 799.4 L557.5 812.7 L558.0 783.3 L558.5 799.6 L559.0 790.8 L559.5 781.6 L560.0 778.9 L560.5 792.1 L561.0 800.0 L561.5 790.1 L562.0 772.4 L562.5 776.8 L563.0 784.4 L563.6 799.4 L564.1 789.2 L564.6 790.5 L565.1 797.9 L565.6 784.5 L566.1 785.5 L566.6 784.6 L567.1 769.5 L567.6 790.6 L568.1 790.1 L568.6 795.3 L569.1 775.0 L569.6 778.4 L570.1 794.8 L570.6 789.0 L571.1 798.9 L571.6 777.9 L572.2 787.8 L572.7 779.6 L573.2 788.7 L573.7 781.3 L574.2 790.8 L574.7 795.8 L575.2 792.0 L575.7 768.8 L576.2 794.4 L576.7 789.7 L577.2 775.9 L577.7 777.3 L578.2 785.5 L578.7 790.7 L579.2 781.2 L579.7 770.3 L580.3 787.9 L580.8 786.8 L581.3 814.5 L581.8 773.3 L582.3 808.4 L582.8 801.2 L583.3 787.9 L583.8 800.3 L584.3 785.9 L584.8 796.6 L585.3 778.2 L585.8 785.6 L586.3 775.5 L586.8 770.3 L587.3 782.2 L587.8 778.6 L588.3 789.9 L588.9 796.2 L589.4 783.0 L589.9 785.0 L590.4 786.1 L590.9 769.1 L591.4 786.8 L591.9 784.4 L592.4 783.8 L592.9 774.1 L593.4 766.1 L593.9 781.7 L594.4 786.8 L594.9 796.1 L595.4 797.2 L595.9 796.9 L596.4 787.1 L596.9 794.1 L597.5 781.7 L598.0 789.2 L598.5 791.8 L599.0 807.6 L599.5 785.4 L600.0 771.7 L600.5 795.5 L601.0 775.9 L601.5 782.4 L602.0 780.2 L602.5 774.6 L603.0 794.6 L603.5 787.9 L604.0 777.0 L604.5 783.0 L605.0 778.4 L605.6 787.6 L606.1 778.7 L606.6 775.1 L607.1 776.1 L607.6 777.8 L608.1 784.2 L608.6 773.3 L609.1 780.6 L609.6 785.2 L610.1 801.9 L610.6 788.6 L611.1 757.0 L611.6 776.3 L612.1 777.2 L612.6 783.4 L613.1 794.3 L613.6 786.9 L614.2 759.9 L614.7 782.8 L615.2 781.0 L615.7 783.5 L616.2 791.7 L616.7 770.1 L617.2 789.2 L617.7 764.9 L618.2 779.8 L618.7 782.5 L619.2 799.1 L619.7 772.8 L620.2 764.0 L620.7 784.7 L621.2 772.8 L621.7 796.2 L622.2 772.2 L622.8 768.3 L623.3 788.9 L623.8 778.7 L624.3 786.6 L624.8 765.3 L625.3 791.9 L625.8 772.4 L626.3 784.4 L626.8 765.9 L627.3 763.6 L627.8 774.7 L628.3 778.3 L628.8 790.2 L629.3 780.4 L629.8 782.5 L630.3 781.8 L630.9 799.2 L631.4 768.8 L631.9 786.4 L632.4 774.1 L632.9 778.1 L633.4 770.3 L633.9 784.7 L634.4 763.8 L634.9 759.6 L635.4 772.2 L635.9 763.8 L636.4 781.3 L636.9 781.0 L637.4 766.4 L637.9 779.2 L638.4 766.5 L638.9 771.4 L639.5 771.5 L640.0 787.0 L640.5 770.6 L641.0 762.4 L641.5 762.0 L642.0 779.5 L642.5 754.7 L643.0 764.4 L643.5 764.6 L644.0 746.5 L644.5 762.8 L645.0 774.8 L645.5 767.7 L646.0 757.5 L646.5 770.5 L647.0 768.4 L647.5 785.8 L648.1 756.5 L648.6 758.9 L649.1 761.9 L649.6 759.8 L650.1 761.1 L650.6 758.8 L651.1 753.1 L651.6 744.7 L652.1 751.5 L652.6 745.2 L653.1 747.4 L653.6 751.0 L654.1 760.4 L654.6 761.1 L655.1 743.8 L655.6 753.6 L656.2 755.7 L656.7 745.5 L657.2 728.3 L657.7 719.4 L658.2 738.7 L658.7 733.7 L659.2 723.8 L659.7 711.7 L660.2 728.5 L660.7 730.2 L661.2 726.4 L661.7 730.9 L662.2 721.8 L662.7 750.0 L663.2 734.2 L663.7 757.1 L664.2 760.1 L664.8 756.9 L665.3 774.8 L665.8 755.9 L666.3 764.7 L666.8 767.4 L667.3 763.6 L667.8 758.7 L668.3 773.5 L668.8 767.3 L669.3 762.8 L669.8 763.7 L670.3 766.8 L670.8 785.7 L671.3 767.8 L671.8 765.5 L672.3 759.0 L672.8 758.2 L673.4 753.0 L673.9 771.6 L674.4 770.3 L674.9 761.7 L675.4 758.3 L675.9 768.5 L676.4 767.3 L676.9 760.7 L677.4 775.0 L677.9 774.0 L678.4 772.7 L678.9 780.0 L679.4 768.1 L679.9 785.5 L680.4 765.6 L680.9 778.8 L681.5 780.1 L682.0 772.7 L682.5 778.1 L683.0 764.4 L683.5 762.7 L684.0 773.9 L684.5 769.6 L685.0 781.0 L685.5 776.4 L686.0 781.5 L686.5 779.1 L687.0 778.2 L687.5 777.4 L688.0 773.6 L688.5 772.9 L689.0 794.2 L689.5 762.1 L690.1 775.5 L690.6 785.7 L691.1 780.8 L691.6 789.3 L692.1 782.1 L692.6 766.7 L693.1 774.7 L693.6 765.7 L694.1 786.0 L694.6 790.0 L695.1 774.0 L695.6 782.4 L696.1 774.4 L696.6 765.7 L697.1 774.2 L697.6 764.5 L698.1 773.2 L698.7 779.9 L699.2 784.3 L699.7 789.2 L700.2 775.3 L700.7 780.2 L701.2 781.8 L701.7 783.0 L702.2 755.7 L702.7 769.6 L703.2 785.1 L703.7 768.9 L704.2 780.5 L704.7 785.6 L705.2 762.4 L705.7 776.9 L706.2 780.6 L706.8 778.7 L707.3 765.6 L707.8 781.6 L708.3 773.9 L708.8 787.6 L709.3 782.4 L709.8 774.1 L710.3 780.3 L710.8 772.9 L711.3 772.9 L711.8 765.4 L712.3 776.8 L712.8 785.7 L713.3 779.8 L713.8 778.7 L714.3 773.5 L714.8 774.4 L715.4 785.2 L715.9 766.2 L716.4 801.5 L716.9 778.4 L717.4 797.4 L717.9 788.9 L718.4 775.4 L718.9 785.2 L719.4 781.2 L719.9 782.9 L720.4 785.7 L720.9 774.4 L721.4 773.8 L721.9 775.5 L722.4 767.4 L722.9 776.8 L723.4 781.0 L724.0 781.2 L724.5 780.7 L725.0 775.7 L725.5 785.8 L726.0 761.7 L726.5 775.7 L727.0 776.3 L727.5 786.7 L728.0 784.8 L728.5 785.9 L729.0 779.2 L729.5 787.2 L730.0 770.6 L730.5 779.7 L731.0 761.1 L731.5 797.7 L732.1 792.6 L732.6 774.0 L733.1 771.9 L733.6 761.3 L734.1 766.1 L734.6 780.1 L735.1 777.8 L735.6 766.6 L736.1 773.2 L736.6 773.5 L737.1 783.2 L737.6 785.2 L738.1 777.3 L738.6 780.1 L739.1 779.2 L739.6 761.5 L740.1 780.8 L740.7 778.7 L741.2 785.6 L741.7 763.6 L742.2 785.7 L742.7 773.8 L743.2 781.5 L743.7 789.6 L744.2 766.7 L744.7 768.1 L745.2 787.7 L745.7 769.6 L746.2 771.1 L746.7 784.4 L747.2 777.5 L747.7 785.8 L748.2 781.8 L748.7 779.0 L749.3 787.6 L749.8 797.8 L750.3 777.7 L750.8 791.7 L751.3 788.8 L751.8 780.1 L752.3 783.8 L752.8 771.1 L753.3 773.8 L753.8 781.4 L754.3 778.6 L754.8 790.0 L755.3 767.9 L755.8 776.4 L756.3 773.5 L756.8 777.6 L757.4 788.7 L757.9 768.6 L758.4 786.0 L758.9 773.7 L759.4 776.0 L759.9 787.2 L760.4 776.2 L760.9 784.3 L761.4 779.5 L761.9 777.1 L762.4 775.4 L762.9 763.7 L763.4 772.1 L763.9 779.8 L764.4 780.1 L764.9 765.6 L765.4 786.8 L766.0 783.1 L766.5 767.1 L767.0 769.3 L767.5 782.4 L768.0 763.1 L768.5 771.7 L769.0 777.5 L769.5 776.9 L770.0 777.4 L770.5 781.2 L771.0 771.0 L771.5 773.6 L772.0 795.2 L772.5 765.7 L773.0 773.8 L773.5 778.5 L774.0 772.0 L774.6 790.7 L775.1 778.0 L775.6 783.8 L776.1 755.3 L776.6 787.4 L777.1 787.0 L777.6 770.7 L778.1 788.2 L778.6 779.3 L779.1 784.9 L779.6 792.3 L780.1 777.7 L780.6 768.2 L781.1 776.7 L781.6 765.9 L782.1 769.8 L782.7 770.1 L783.2 770.5 L783.7 786.4 L784.2 783.5 L784.7 768.7 L785.2 785.9 L785.7 762.0 L786.2 770.6 L786.7 775.0 L787.2 786.2 L787.7 782.2 L788.2 779.9 L788.7 787.0 L789.2 782.0 L789.7 787.4 L790.2 769.1 L790.7 761.3 L791.3 772.1 L791.8 782.6 L792.3 777.7 L792.8 785.1 L793.3 781.4 L793.8 779.7 L794.3 782.2 L794.8 769.1 L795.3 787.0 L795.8 766.5 L796.3 774.0 L796.8 762.8 L797.3 779.1 L797.8 761.5 L798.3 786.5 L798.8 763.0 L799.3 776.6 L799.9 773.1 L800.4 766.7 L800.9 784.7 L801.4 770.3 L801.9 786.4 L802.4 765.1 L802.9 766.8 L803.4 756.5 L803.9 778.2 L804.4 781.1 L804.9 775.1 L805.4 771.7 L805.9 765.2 L806.4 792.9 L806.9 779.1 L807.4 757.0 L808.0 769.9 L808.5 750.2 L809.0 785.7 L809.5 789.0 L810.0 784.5 L810.5 771.5 L811.0 766.8 L811.5 759.7 L812.0 777.3 L812.5 765.1 L813.0 768.1 L813.5 765.7 L814.0 768.4 L814.5 778.5 L815.0 785.1 L815.5 771.9 L816.0 770.7 L816.6 760.9 L817.1 759.7 L817.6 761.0 L818.1 777.5 L818.6 771.9 L819.1 777.9 L819.6 773.1 L820.1 765.9 L820.6 758.6 L821.1 765.9 L821.6 756.7 L822.1 785.8 L822.6 770.9 L823.1 765.3 L823.6 785.3 L824.1 764.9 L824.6 772.8 L825.2 766.4 L825.7 770.7 L826.2 764.4 L826.7 771.6 L827.2 779.4 L827.7 756.2 L828.2 747.9 L828.7 778.3 L829.2 768.0 L829.7 773.8 L830.2 763.7 L830.7 779.2 L831.2 781.4 L831.7 755.6 L832.2 771.1 L832.7 759.9 L833.3 751.1 L833.8 762.1 L834.3 769.4 L834.8 752.5 L835.3 753.0 L835.8 774.4 L836.3 763.8 L836.8 767.6 L837.3 750.1 L837.8 755.3 L838.3 763.5 L838.8 763.8 L839.3 763.1 L839.8 775.3 L840.3 762.7 L840.8 747.8 L841.3 753.2 L841.9 759.8 L842.4 771.0 L842.9 753.8 L843.4 756.0 L843.9 758.8 L844.4 752.6 L844.9 751.2 L845.4 755.9 L845.9 766.0 L846.4 761.3 L846.9 754.2 L847.4 759.8 L847.9 744.9 L848.4 764.0 L848.9 761.4 L849.4 757.1 L849.9 740.1 L850.5 771.2 L851.0 730.9 L851.5 743.8 L852.0 743.8 L852.5 757.6 L853.0 737.3 L853.5 752.3 L854.0 748.1 L854.5 746.1 L855.0 756.0 L855.5 760.6 L856.0 750.3 L856.5 743.1 L857.0 723.2 L857.5 758.1 L858.0 740.1 L858.6 724.0 L859.1 742.6 L859.6 754.2 L860.1 737.4 L860.6 725.9 L861.1 759.1 L861.6 742.8 L862.1 737.2 L862.6 742.7 L863.1 708.3 L863.6 728.4 L864.1 725.7 L864.6 749.5 L865.1 715.7 L865.6 716.0 L866.1 705.5 L866.6 709.1 L867.2 712.8 L867.7 714.7 L868.2 707.6 L868.7 724.2 L869.2 707.3 L869.7 704.8 L870.2 706.4 L870.7 696.2 L871.2 683.4 L871.7 672.3 L872.2 678.2 L872.7 666.0 L873.2 668.1 L873.7 652.8 L874.2 642.2 L874.7 636.2 L875.2 626.7 L875.8 611.6 L876.3 597.9 L876.8 581.6 L877.3 567.0 L877.8 543.1 L878.3 519.6 L878.8 493.3 L879.3 463.5 L879.8 438.9 L880.3 405.8 L880.8 367.3 L881.3 334.4 L881.8 297.9 L882.3 261.8 L882.8 230.2 L883.3 205.9 L883.9 183.1 L884.4 174.5 L884.9 175.6 L885.4 186.0 L885.9 205.0 L886.4 232.6 L886.9 265.1 L887.4 297.1 L887.9 335.2 L888.4 369.8 L888.9 408.6 L889.4 435.1 L889.9 467.9 L890.4 497.6 L890.9 520.6 L891.4 543.5 L891.9 563.5 L892.5 583.6 L893.0 596.7 L893.5 613.5 L894.0 626.3 L894.5 633.7 L895.0 648.6 L895.5 655.1 L896.0 666.2 L896.5 677.0 L897.0 680.5 L897.5 671.2 L898.0 691.7 L898.5 678.1 L899.0 689.8 L899.5 720.1 L900.0 705.3 L900.5 727.6 L901.1 709.4 L901.6 714.6 L902.1 697.2 L902.6 732.9 L903.1 719.3 L903.6 733.5 L904.1 733.0 L904.6 738.8 L905.1 735.4 L905.6 731.7 L906.1 734.0 L906.6 725.2 L907.1 705.0 L907.6 746.2 L908.1 771.8 L908.6 758.0 L909.2 778.4 L909.7 751.6 L910.2 730.8 L910.7 731.6 L911.2 759.0 L911.7 753.9 L912.2 747.3 L912.7 762.0 L913.2 738.4 L913.7 760.5 L914.2 749.1 L914.7 756.6 L915.2 773.0 L915.7 753.6 L916.2 777.3 L916.7 777.2 L917.2 746.2 L917.8 793.6 L918.3 740.1 L918.8 757.9 L919.3 771.1 L919.8 725.8 L920.3 776.6 L920.8 778.6 L921.3 760.0 L921.8 766.2 L922.3 765.7 L922.8 759.6 L923.3 779.3 L923.8 757.7 L924.3 762.9 L924.8 769.4 L925.3 777.0 L925.8 781.1 L926.4 742.1 L926.9 733.9 L927.4 762.9 L927.9 764.4 L928.4 748.9 L928.9 770.2 L929.4 775.3 L929.9 771.7 L930.4 791.1 L930.9 745.8 L931.4 766.7 L931.9 795.8 L932.4 777.0 L932.9 749.8 L933.4 770.0 L933.9 785.0 L934.5 798.8 L935.0 777.3 L935.5 785.1 L936.0 750.6 L936.5 763.8 L937.0 785.8 L937.5 753.2 L938.0 766.9 L938.5 739.5 L939.0 790.5 L939.5 766.1 L940.0 776.8 L940.5 745.4 L941.0 748.4 L941.5 796.1 L942.0 763.3 L942.5 760.3 L943.1 776.4 L943.6 777.2 L944.1 738.9 L944.6 754.0 L945.1 769.7 L945.6 769.1 L946.1 776.0 L946.6 762.6 L947.1 764.9 L947.6 772.5 L948.1 758.8 L948.6 752.8 L949.1 761.1 L949.6 769.6 L950.1 767.2 L950.6 762.3 L951.1 765.8 L951.7 768.9 L952.2 774.6 L952.7 775.2 L953.2 750.2 L953.7 784.6 L954.2 745.5 L954.7 778.2 L955.2 759.2 L955.7 778.7 L956.2 786.1 L956.7 741.4 L957.2 781.9 L957.7 774.2 L958.2 763.0 L958.7 775.9 L959.2 760.3 L959.8 772.0 L960.3 754.3 L960.8 782.1 L961.3 779.2 L961.8 781.5 L962.3 760.4 L962.8 798.2 L963.3 800.3 L963.8 769.1 L964.3 764.1 L964.8 762.4 L965.3 780.9 L965.8 786.1 L966.3 759.2 L966.8 739.9 L967.3 777.5 L967.8 770.0 L968.4 773.2 L968.9 778.5 L969.4 748.7 L969.9 771.6 L970.4 766.2 L970.9 776.4 L971.4 789.2 L971.9 770.7 L972.4 757.7 L972.9 795.1 L973.4 784.5 L973.9 767.6 L974.4 743.4 L974.9 757.5 L975.4 772.9 L975.9 779.0 L976.4 762.7 L977.0 779.1 L977.5 761.1 L978.0 764.3 L978.5 778.7 L979.0 766.6 L979.5 772.8 L980.0 783.9 L980.5 787.8 L981.0 761.8 L981.5 765.5 L982.0 750.7 L982.5 751.0 L983.0 775.2 L983.5 762.9 L984.0 742.7 L984.5 778.7 L985.1 758.1 L985.6 766.0 L986.1 777.0 L986.6 776.7 L987.1 769.9 L987.6 740.7 L988.1 779.3 L988.6 761.8 L989.1 749.5 L989.6 737.6 L990.1 790.7 L990.6 773.0 L991.1 772.5 L991.6 780.0 L992.1 769.1 L992.6 748.7 L993.1 781.1 L993.7 786.0 L994.2 778.7 L994.7 794.1 L995.2 799.7 L995.7 759.0 L996.2 764.3 L996.7 784.4 L997.2 773.7 L997.7 774.3 L998.2 789.1 L998.7 782.2 L999.2 764.5 L999.7 773.0 L1000.2 760.5 L1000.7 768.2 L1001.2 754.5 L1001.7 741.7 L1002.3 763.8 L1002.8 762.4 L1003.3 784.7 L1003.8 794.9 L1004.3 771.7 L1004.8 778.4 L1005.3 761.8 L1005.8 757.5 L1006.3 767.1 L1006.8 767.1 L1007.3 775.9 L1007.8 773.1 L1008.3 796.4 L1008.8 768.2 L1009.3 746.7 L1009.8 773.3 L1010.4 758.5 L1010.9 774.6 L1011.4 788.5 L1011.9 762.0 L1012.4 770.5 L1012.9 779.4 L1013.4 757.4 L1013.9 774.9 L1014.4 782.2 L1014.9 783.9 L1015.4 788.2 L1015.9 780.0 L1016.4 779.3 L1016.9 750.9 L1017.4 731.6 L1017.9 757.3 L1018.4 793.1 L1019.0 773.6 L1019.5 738.0 L1020.0 765.5 L1020.5 777.3 L1021.0 744.1 L1021.5 780.5 L1022.0 754.7 L1022.5 787.5 L1023.0 772.5 L1023.5 812.7 L1024.0 752.0 L1024.5 776.2 L1025.0 749.9 L1025.5 789.3 L1026.0 773.9 L1026.5 785.9 L1027.0 773.6 L1027.6 754.6 L1028.1 762.4 L1028.6 753.6 L1029.1 756.5 L1029.6 775.0 L1030.1 788.2 L1030.6 785.0 L1031.1 779.9 L1031.6 763.7 L1032.1 779.8 L1032.6 759.4 L1033.1 775.3 L1033.6 784.8 L1034.1 769.4 L1034.6 765.2 L1035.1 765.8 L1035.7 781.4 L1036.2 766.2 L1036.7 751.0 L1037.2 766.1 L1037.7 756.3 L1038.2 794.7 L1038.7 772.5 L1039.2 750.3 L1039.7 777.4 L1040.2 783.0 L1040.7 778.0 L1041.2 766.9 L1041.7 774.5 L1042.2 776.5 L1042.7 787.3 L1043.2 777.8 L1043.7 806.2 L1044.3 769.1 L1044.8 795.2 L1045.3 772.6 L1045.8 746.9 L1046.3 754.8 L1046.8 737.0 L1047.3 746.7 L1047.8 790.3 L1048.3 762.5 L1048.8 781.4 L1049.3 759.1 L1049.8 772.2 L1050.3 756.6 L1050.8 785.3 L1051.3 768.6 L1051.8 765.6 L1052.3 770.0 L1052.9 814.6 L1053.4 779.1 L1053.9 788.6 L1054.4 753.9 L1054.9 762.7 L1055.4 776.8 L1055.9 744.7 L1056.4 792.4 L1056.9 776.5 L1057.4 772.2 L1057.9 769.5 L1058.4 768.9 L1058.9 762.6 L1059.4 799.4 L1059.9 782.7 L1060.4 791.0 L1061.0 766.5 L1061.5 759.3 L1062.0 792.7 L1062.5 754.3 L1063.0 763.4 L1063.5 783.1 L1064.0 788.7 L1064.5 752.8 L1065.0 767.1 L1065.5 772.9 L1066.0 770.5 L1066.5 759.6 L1067.0 782.6 L1067.5 764.6 L1068.0 768.9 L1068.5 738.9 L1069.0 770.8 L1069.6 743.5 L1070.1 783.0 L1070.6 779.8 L1071.1 764.9 L1071.6 774.9 L1072.1 774.1 L1072.6 770.3 L1073.1 777.9 L1073.6 770.6 L1074.1 765.4 L1074.6 760.6 L1075.1 797.5 L1075.6 775.4 L1076.1 772.2 L1076.6 783.3 L1077.1 766.7 L1077.6 766.8 L1078.2 782.4 L1078.7 787.8 L1079.2 782.5 L1079.7 750.4 L1080.2 773.4 L1080.7 772.2 L1081.2 779.3 L1081.7 759.3 L1082.2 756.9 L1082.7 770.8 L1083.2 759.3 L1083.7 756.6 L1084.2 771.5 L1084.7 786.3 L1085.2 774.5 L1085.7 789.1 L1086.3 757.7 L1086.8 783.0 L1087.3 772.3 L1087.8 759.4 L1088.3 766.3 L1088.8 759.7 L1089.3 769.3 L1089.8 761.4 L1090.3 791.2 L1090.8 767.2 L1091.3 751.4 L1091.8 769.6 L1092.3 778.2 L1092.8 766.3 L1093.3 785.3 L1093.8 759.0 L1094.3 759.8 L1094.9 796.6 L1095.4 772.6 L1095.9 780.5 L1096.4 782.0 L1096.9 783.6 L1097.4 773.1 L1097.9 769.7 L1098.4 788.6 L1098.9 763.0 L1099.4 774.2 L1099.9 782.7 L1100.4 766.7 L1100.9 749.9 L1101.4 779.3 L1101.9 788.5 L1102.4 776.3 L1102.9 747.8 L1103.5 782.0 L1104.0 801.6 L1104.5 742.9 L1105.0 732.6 L1105.5 769.0 L1106.0 773.7 L1106.5 784.1 L1107.0 784.7 L1107.5 774.0 L1108.0 780.6 L1108.5 777.6 L1109.0 774.5 L1109.5 771.8 L1110.0 770.4 L1110.5 783.0 L1111.0 780.4 L1111.6 766.4 L1112.1 788.8 L1112.6 762.0 L1113.1 768.3 L1113.6 774.7 L1114.1 744.8 L1114.6 767.2 L1115.1 785.2 L1115.6 784.6 L1116.1 755.2 L1116.6 760.5 L1117.1 756.9 L1117.6 769.3 L1118.1 771.8 L1118.6 749.4 L1119.1 777.4 L1119.6 773.8 L1120.2 771.6 L1120.7 759.9 L1121.2 770.0 L1121.7 746.7 L1122.2 776.1 L1122.7 776.7 L1123.2 771.2 L1123.7 755.5 L1124.2 791.4 L1124.7 789.3 L1125.2 745.3 L1125.7 778.8 L1126.2 775.0 L1126.7 735.2 L1127.2 780.3 L1127.7 782.3 L1128.2 783.3 L1128.8 775.1 L1129.3 763.2 L1129.8 765.3 L1130.3 780.2 L1130.8 789.9 L1131.3 765.6 L1131.8 768.7 L1132.3 786.0 L1132.8 741.3 L1133.3 779.3 L1133.8 769.4 L1134.3 740.7 L1134.8 784.1 L1135.3 759.4 L1135.8 784.4 L1136.3 792.9 L1136.9 754.6 L1137.4 755.3 L1137.9 772.7 L1138.4 747.3 L1138.9 783.5 L1139.4 775.6 L1139.9 787.2 L1140.4 746.1 L1140.9 775.8 L1141.4 779.7 L1141.9 746.7 L1142.4 786.0 L1142.9 752.8 L1143.4 775.6 L1143.9 753.7 L1144.4 784.5 L1144.9 797.9 L1145.5 773.9 L1146.0 773.5 L1146.5 792.1 L1147.0 766.6 L1147.5 773.9 L1148.0 785.2 L1148.5 779.4 L1149.0 796.3 L1149.5 796.3 L1150.0 801.5 L1150.5 773.2 L1151.0 790.0 L1151.5 761.7 L1152.0 787.0 L1152.5 799.5 L1153.0 808.3 L1153.5 755.6 L1154.1 771.5 L1154.6 784.5 L1155.1 761.2 L1155.6 782.1 L1156.1 782.0 L1156.6 767.0 L1157.1 766.3 L1157.6 760.6 L1158.1 778.6 L1158.6 792.7 L1159.1 778.4 L1159.6 813.3 L1160.1 746.4 L1160.6 765.7 L1161.1 784.1 L1161.6 757.4 L1162.2 779.3 L1162.7 786.1 L1163.2 776.8 L1163.7 770.9 L1164.2 788.0 L1164.7 780.3 L1165.2 784.8 L1165.7 782.2 L1166.2 764.3 L1166.7 758.0 L1167.2 768.6 L1167.7 776.8 L1168.2 771.4 L1168.7 788.1 L1169.2 777.9 L1169.7 788.4 L1170.2 776.8 L1170.8 760.8 L1171.3 786.5 L1171.8 781.4 L1172.3 761.7 L1172.8 768.0 L1173.3 813.3 L1173.8 732.3 L1174.3 790.6 L1174.8 774.8 L1175.3 772.9 L1175.8 769.5 L1176.3 766.3 L1176.8 808.7 L1177.3 767.3 L1177.8 769.3 L1178.3 785.6 L1178.8 779.4 L1179.4 771.0 L1179.9 769.4 L1180.4 753.9 L1180.9 789.6 L1181.4 757.9 L1181.9 737.7 L1182.4 789.0 L1182.9 784.6 L1183.4 778.5 L1183.9 765.7 L1184.4 791.0 L1184.9 757.3 L1185.4 740.9 L1185.9 775.7 L1186.4 785.3 L1186.9 782.5 L1187.5 804.1 L1188.0 785.6 L1188.5 769.9 L1189.0 770.4 L1189.5 786.5 L1190.0 772.3 L1190.5 771.2 L1191.0 739.2 L1191.5 768.6 L1192.0 753.9 L1192.5 776.7 L1193.0 775.2 L1193.5 783.8 L1194.0 799.8 L1194.5 770.5 L1195.0 794.7 L1195.5 756.3 L1196.1 775.5 L1196.6 787.4 L1197.1 802.3 L1197.6 756.7 L1198.1 768.3 L1198.6 775.3 L1199.1 771.6 L1199.6 758.9 L1200.1 748.7 L1200.6 754.8 L1201.1 771.9 L1201.6 753.1 L1202.1 799.6 L1202.6 791.5 L1203.1 744.6 L1203.6 765.7 L1204.1 792.9 L1204.7 794.8 L1205.2 789.8 L1205.7 751.7 L1206.2 767.6 L1206.7 792.2 L1207.2 774.6 L1207.7 766.2 L1208.2 780.6 L1208.7 787.8 L1209.2 775.1 L1209.7 776.7 L1210.2 789.1 L1210.7 762.1 L1211.2 759.3 L1211.7 784.4 L1212.2 755.0 L1212.8 780.4 L1213.3 762.0 L1213.8 785.5 L1214.3 755.1 L1214.8 789.9 L1215.3 777.1 L1215.8 768.3 L1216.3 759.9 L1216.8 770.5 L1217.3 754.9 L1217.8 754.8 L1218.3 788.9 L1218.8 781.7 L1219.3 791.2 L1219.8 746.4 L1220.3 743.5 L1220.8 748.9 L1221.4 785.4 L1221.9 784.7 L1222.4 744.8 L1222.9 787.9 L1223.4 766.0 L1223.9 754.6 L1224.4 771.3 L1224.9 781.0 L1225.4 769.2 L1225.9 769.8 L1226.4 759.7 L1226.9 751.0 L1227.4 766.7 L1227.9 747.9 L1228.4 781.3 L1228.9 759.4 L1229.4 791.9 L1230.0 748.4 L1230.5 793.3 L1231.0 758.9 L1231.5 758.7 L1232.0 776.5 L1232.5 785.6 L1233.0 771.4 L1233.5 765.0 L1234.0 802.0 L1234.5 779.6 L1235.0 753.9 L1235.5 768.0 L1236.0 797.4 L1236.5 776.9 L1237.0 784.3 L1237.5 802.4 L1238.1 760.2 L1238.6 777.5 L1239.1 761.8 L1239.6 771.7 L1240.1 779.8 L1240.6 751.7 L1241.1 773.9 L1241.6 773.8 L1242.1 787.5 L1242.6 762.7 L1243.1 752.5 L1243.6 777.5 L1244.1 754.7 L1244.6 774.3 L1245.1 782.6 L1245.6 758.3 L1246.1 769.6 L1246.7 755.8 L1247.2 731.0 L1247.7 749.5 L1248.2 739.9 L1248.7 771.5 L1249.2 755.1 L1249.7 769.0 L1250.2 770.4 L1250.7 787.1 L1251.2 765.9 L1251.7 765.0 L1252.2 778.6 L1252.7 795.3 L1253.2 769.8 L1253.7 776.1 L1254.2 768.1 L1254.7 760.4 L1255.3 747.7 L1255.8 769.3 L1256.3 766.8 L1256.8 767.1 L1257.3 809.6 L1257.8 765.8 L1258.3 775.8 L1258.8 765.5 L1259.3 788.5 L1259.8 766.4 L1260.3 798.7 L1260.8 766.8 L1261.3 785.8 L1261.8 786.0 L1262.3 767.1 L1262.8 783.5 L1263.4 771.6 L1263.9 759.2 L1264.4 760.5 L1264.9 775.6 L1265.4 797.4 L1265.9 763.2 L1266.4 781.1 L1266.9 758.4 L1267.4 774.3 L1267.9 750.9 L1268.4 755.0 L1268.9 770.3 L1269.4 759.2 L1269.9 766.3 L1270.4 785.5 L1270.9 768.5 L1271.4 759.5 L1272.0 751.8 L1272.5 762.3 L1273.0 787.6 L1273.5 769.1 L1274.0 768.1 L1274.5 781.1 L1275.0 782.8 L1275.5 785.3 L1276.0 764.8 L1276.5 756.4 L1277.0 737.5 L1277.5 759.8 L1278.0 764.5 L1278.5 781.1 L1279.0 774.9 L1279.5 761.6 L1280.0 783.3 L1280.6 751.2 L1281.1 754.2 L1281.6 752.3 L1282.1 753.6 L1282.6 765.0 L1283.1 753.4 L1283.6 758.5 L1284.1 790.0 L1284.6 747.9 L1285.1 754.4 L1285.6 765.2 L1286.1 776.5 L1286.6 777.1 L1287.1 765.8 L1287.6 762.6 L1288.1 764.6 L1288.7 781.0 L1289.2 756.0 L1289.7 734.5 L1290.2 772.5 L1290.7 752.2 L1291.2 768.9 L1291.7 790.6 L1292.2 771.2 L1292.7 797.3 L1293.2 745.9 L1293.7 773.3 L1294.2 775.6 L1294.7 782.2 L1295.2 755.4 L1295.7 772.1 L1296.2 771.6 L1296.7 771.1 L1297.3 742.9 L1297.8 743.9 L1298.3 777.9 L1298.8 775.0 L1299.3 770.3 L1299.8 779.4 L1300.3 786.0 L1300.8 752.4 L1301.3 781.6 L1301.8 792.3 L1302.3 785.3 L1302.8 778.8 L1303.3 780.6 L1303.8 748.4 L1304.3 762.7 L1304.8 785.6 L1305.3 792.5 L1305.9 777.2 L1306.4 763.6 L1306.9 768.4 L1307.4 787.3 L1307.9 800.9 L1308.4 782.5 L1308.9 762.9 L1309.4 780.2 L1309.9 777.4 L1310.4 807.0 L1310.9 780.0 L1311.4 772.0 L1311.9 770.0 L1312.4 752.8 L1312.9 755.5 L1313.4 764.2 L1314.0 759.2 L1314.5 774.3 L1315.0 773.0 L1315.5 785.7 L1316.0 794.4 L1316.5 774.0 L1317.0 768.8 L1317.5 743.9 L1318.0 777.5 L1318.5 781.8 L1319.0 760.4 L1319.5 766.1 L1320.0 761.5 L1320.5 787.9 L1321.0 781.4 L1321.5 790.4 L1322.0 754.1 L1322.6 812.0 L1323.1 759.4 L1323.6 756.9 L1324.1 775.1 L1324.6 764.0 L1325.1 799.5 L1325.6 766.1 L1326.1 762.0 L1326.6 786.9 L1327.1 790.6 L1327.6 759.7 L1328.1 763.1 L1328.6 766.9 L1329.1 769.3 L1329.6 797.9 L1330.1 791.1 L1330.6 788.2 L1331.2 791.2 L1331.7 772.6 L1332.2 789.1 L1332.7 770.9 L1333.2 760.7 L1333.7 796.4 L1334.2 745.7 L1334.7 771.6 L1335.2 762.9 L1335.7 746.8 L1336.2 765.5 L1336.7 771.9 L1337.2 777.4 L1337.7 758.5 L1338.2 781.3 L1338.7 776.0 L1339.3 781.7 L1339.8 742.0 L1340.3 763.1 L1340.8 760.5 L1341.3 777.5 L1341.8 758.4 L1342.3 761.5 L1342.8 752.3 L1343.3 751.4 L1343.8 755.0 L1344.3 781.8 L1344.8 752.9 L1345.3 733.3 L1345.8 771.7 L1346.3 761.0 L1346.8 775.0 L1347.3 774.6 L1347.9 762.6 L1348.4 759.2 L1348.9 759.1 L1349.4 766.6 L1349.9 755.8 L1350.4 769.2 L1350.9 785.6 L1351.4 757.3 L1351.9 757.8 L1352.4 757.7 L1352.9 774.8 L1353.4 775.4 L1353.9 786.0 L1354.4 776.2 L1354.9 768.3 L1355.4 772.7 L1355.9 743.6 L1356.5 776.5 L1357.0 769.0 L1357.5 794.6 L1358.0 790.7 L1358.5 752.4 L1359.0 759.3 L1359.5 778.5 L1360.0 739.5 L1360.5 754.8 L1361.0 771.9 L1361.5 775.5 L1362.0 769.5 L1362.5 782.4 L1363.0 763.6 L1363.5 768.5 L1364.0 764.0 L1364.6 753.1 L1365.1 768.1 L1365.6 760.3 L1366.1 768.5 L1366.6 733.8 L1367.1 768.9 L1367.6 760.6 L1368.1 759.8 L1368.6 768.2 L1369.1 761.7 L1369.6 779.5 L1370.1 788.4 L1370.6 779.0 L1371.1 780.0 L1371.6 773.8 L1372.1 768.3 L1372.6 751.9 L1373.2 763.3 L1373.7 783.1 L1374.2 777.5 L1374.7 761.9 L1375.2 769.3 L1375.7 781.1 L1376.2 766.0 L1376.7 787.9 L1377.2 758.7 L1377.7 777.6 L1378.2 776.4 L1378.7 770.0 L1379.2 771.5 L1379.7 776.3 L1380.2 740.2 L1380.7 773.3 L1381.2 781.2 L1381.8 772.1 L1382.3 784.9 L1382.8 752.8 L1383.3 765.9 L1383.8 770.3 L1384.3 762.9 L1384.8 779.7 L1385.3 770.9 L1385.8 758.6 L1386.3 773.5 L1386.8 772.8 L1387.3 757.3 L1387.8 768.8 L1388.3 764.9 L1388.8 763.5 L1389.3 743.7 L1389.9 771.6 L1390.4 763.0 L1390.9 753.8 L1391.4 756.6 L1391.9 755.0 L1392.4 746.2 L1392.9 741.5 L1393.4 748.0 L1393.9 738.9 L1394.4 739.1 L1394.9 730.7 L1395.4 739.4 L1395.9 754.5 L1396.4 745.8 L1396.9 744.5 L1397.4 741.3 L1397.9 741.2 L1398.5 730.6 L1399.0 766.9 L1399.5 742.2 L1400.0 735.4 L1400.5 757.9 L1401.0 758.0 L1401.5 751.2 L1402.0 742.4 L1402.5 740.5 L1403.0 779.0 L1403.5 761.5 L1404.0 757.4 L1404.5 786.4 L1405.0 759.4 L1405.5 758.2 L1406.0 775.4 L1406.5 774.4 L1407.1 788.5 L1407.6 750.0 L1408.1 776.2 L1408.6 749.5 L1409.1 779.6 L1409.6 768.0 L1410.1 770.7 L1410.6 768.3 L1411.1 786.1 L1411.6 795.3 L1412.1 776.9 L1412.6 775.5 L1413.1 773.2 L1413.6 784.9 L1414.1 764.7 L1414.6 809.5 L1415.2 777.5 L1415.7 799.2 L1416.2 782.2 L1416.7 765.6 L1417.2 763.6 L1417.7 776.3 L1418.2 773.0 L1418.7 778.2 L1419.2 768.3 L1419.7 806.9 L1420.2 804.5 L1420.7 761.1 L1421.2 786.4 L1421.7 794.3 L1422.2 777.4 L1422.7 778.6 L1423.2 793.2 L1423.8 787.1 L1424.3 767.8 L1424.8 794.7 L1425.3 775.8 L1425.8 801.7 L1426.3 770.6 L1426.8 755.9 L1427.3 782.3 L1427.8 794.6 L1428.3 786.9 L1428.8 783.0 L1429.3 771.1 L1429.8 791.4 L1430.3 754.5 L1430.8 790.0 L1431.3 767.8 L1431.8 774.6 L1432.4 766.6 L1432.9 767.9 L1433.4 797.6 L1433.9 768.1 L1434.4 783.2 L1434.9 772.2 L1435.4 792.5 L1435.9 766.0 L1436.4 781.1 L1436.9 791.1 L1437.4 806.1 L1437.9 767.9 L1438.4 771.3 L1438.9 780.5 L1439.4 797.5 L1439.9 769.7 L1440.5 790.1 L1441.0 774.0 L1441.5 769.5 L1442.0 763.3 L1442.5 782.5 L1443.0 791.9 L1443.5 779.8 L1444.0 757.4 L1444.5 774.7 L1445.0 791.7 L1445.5 790.7 L1446.0 784.0 L1446.5 797.4 L1447.0 766.8 L1447.5 767.2 L1448.0 807.5 L1448.5 788.4 L1449.1 778.7 L1449.6 775.5 L1450.1 752.2 L1450.6 790.3 L1451.1 757.9 L1451.6 759.0 L1452.1 780.4 L1452.6 797.8 L1453.1 776.5 L1453.6 785.1 L1454.1 776.1 L1454.6 785.4 L1455.1 762.3 L1455.6 811.3 L1456.1 770.2 L1456.6 787.2 L1457.1 758.1 L1457.7 800.8 L1458.2 785.8 L1458.7 803.4 L1459.2 773.6 L1459.7 792.6 L1460.2 779.1 L1460.7 780.6 L1461.2 795.6 L1461.7 771.0 L1462.2 789.4 L1462.7 802.9 L1463.2 800.8 L1463.7 793.1 L1464.2 784.9 L1464.7 770.4 L1465.2 797.3 L1465.8 773.6 L1466.3 794.8 L1466.8 777.6 L1467.3 781.5 L1467.8 781.3 L1468.3 790.1 L1468.8 776.5 L1469.3 783.4 L1469.8 775.6 L1470.3 787.3 L1470.8 784.6 L1471.3 786.2 L1471.8 772.0 L1472.3 785.1 L1472.8 781.9 L1473.3 788.0 L1473.8 782.1 L1474.4 770.6 L1474.9 789.6 L1475.4 774.0 L1475.9 784.7 L1476.4 758.3 L1476.9 787.1 L1477.4 788.9 L1477.9 771.2 L1478.4 788.1 L1478.9 777.4 L1479.4 797.0 L1479.9 789.0 L1480.4 767.6 L1480.9 779.3 L1481.4 755.8 L1481.9 778.0 L1482.4 787.7 L1483.0 790.9 L1483.5 780.5 L1484.0 779.0 L1484.5 783.5 L1485.0 775.0 L1485.5 785.4 L1486.0 794.3 L1486.5 784.0 L1487.0 794.3 L1487.5 773.2 L1488.0 774.7 L1488.5 785.8 L1489.0 804.6 L1489.5 793.4 L1490.0 801.2 L1490.5 782.7 L1491.1 796.1 L1491.6 763.5 L1492.1 789.8 L1492.6 759.1 L1493.1 796.2 L1493.6 787.8 L1494.1 795.5 L1494.6 788.4 L1495.1 775.4 L1495.6 774.3 L1496.1 784.8 L1496.6 799.4 L1497.1 789.7 L1497.6 776.7 L1498.1 774.6 L1498.6 772.6 L1499.1 779.8 L1499.7 781.9 L1500.2 777.5 L1500.7 783.1 L1501.2 760.1 L1501.7 800.4 L1502.2 785.8 L1502.7 800.1 L1503.2 787.3 L1503.7 781.0 L1504.2 784.2 L1504.7 785.7 L1505.2 775.9 L1505.7 779.1 L1506.2 804.6 L1506.7 793.8 L1507.2 777.7 L1507.7 789.3 L1508.3 774.2 L1508.8 799.2 L1509.3 772.4 L1509.8 796.6 L1510.3 784.0 L1510.8 784.1 L1511.3 772.1 L1511.8 780.9 L1512.3 775.3 L1512.8 774.2 L1513.3 789.0 L1513.8 811.8 L1514.3 780.1 L1514.8 795.1 L1515.3 783.8 L1515.8 776.1 L1516.4 798.9 L1516.9 791.1 L1517.4 796.7 L1517.9 785.4 L1518.4 785.8 L1518.9 775.1 L1519.4 781.3 L1519.9 802.9 L1520.4 751.5 L1520.9 788.6 L1521.4 800.7 L1521.9 793.3 L1522.4 794.2 L1522.9 781.6 L1523.4 797.1 L1523.9 797.4 L1524.4 784.2 L1525.0 803.2 L1525.5 779.3 L1526.0 757.2 L1526.5 784.6 L1527.0 783.5 L1527.5 775.4 L1528.0 779.8 L1528.5 778.9 L1529.0 764.7 L1529.5 802.8 L1530.0 785.2 L1530.5 814.3 L1531.0 784.9 L1531.5 790.9 L1532.0 768.4 L1532.5 796.4 L1533.0 773.1 L1533.6 791.2 L1534.1 795.5 L1534.6 793.7 L1535.1 776.1 L1535.6 776.4 L1536.1 793.7 L1536.6 798.5 L1537.1 801.4 L1537.6 785.1 L1538.1 784.1 L1538.6 805.4 L1539.1 779.0 L1539.6 794.0 L1540.1 782.1 L1540.6 769.9 L1541.1 773.3 L1541.7 790.7 L1542.2 788.2 L1542.7 791.2 L1543.2 781.9 L1543.7 780.2 L1544.2 789.0 L1544.7 783.8 L1545.2 768.1 L1545.7 781.1 L1546.2 804.7 L1546.7 777.5 L1547.2 792.1 L1547.7 785.1 L1548.2 794.1 L1548.7 776.4 L1549.2 772.0 L1549.7 791.0 L1550.3 778.4 L1550.8 785.8 L1551.3 782.7 L1551.8 796.9 L1552.3 789.1 L1552.8 787.8 L1553.3 772.4 L1553.8 769.1 L1554.3 777.2 L1554.8 795.7 L1555.3 794.2 L1555.8 793.0 L1556.3 782.2 L1556.8 775.4 L1557.3 799.4 L1557.8 788.8 L1558.3 792.7 L1558.9 776.5 L1559.4 779.4 L1559.9 794.1 L1560.4 795.2 L1560.9 776.1 L1561.4 790.4 L1561.9 774.4 L1562.4 800.7 L1562.9 796.9 L1563.4 812.5 L1563.9 804.1 L1564.4 780.3 L1564.9 789.8 L1565.4 782.5 L1565.9 789.8 L1566.4 796.4 L1567.0 787.8 L1567.5 788.6 L1568.0 773.3 L1568.5 794.4 L1569.0 788.0 L1569.5 795.0 L1570.0 799.7 L1570.5 788.6 L1571.0 796.0 L1571.5 781.8 L1572.0 798.8 L1572.5 788.2 L1573.0 782.0 L1573.5 786.0 L1574.0 773.0 L1574.5 781.5 L1575.0 784.0 L1575.6 789.0 L1576.1 787.8 L1576.6 781.7 L1577.1 786.8 L1577.6 765.4 L1578.1 789.8 L1578.6 795.0 L1579.1 797.5 L1579.6 800.7 L1580.1 786.6 L1580.6 788.0 L1581.1 782.1 L1581.6 783.6 L1582.1 790.3 L1582.6 803.6 L1583.1 770.4 L1583.6 783.5 L1584.2 791.9 L1584.7 778.0 L1585.2 793.4 L1585.7 773.9 L1586.2 785.1 L1586.7 770.8 L1587.2 791.9 L1587.7 777.6 L1588.2 795.9 L1588.7 785.7 L1589.2 778.4 L1589.7 784.3 L1590.2 790.2 L1590.7 788.6 L1591.2 786.0 L1591.7 785.0 L1592.3 788.9 L1592.8 798.0 L1593.3 782.6 L1593.8 793.6 L1594.3 774.4 L1594.8 798.9 L1595.3 793.9 L1595.8 785.0 L1596.3 785.3 L1596.8 770.4 L1597.3 789.9 L1597.8 786.2 L1598.3 773.7 L1598.8 784.1 L1599.3 795.2 L1599.8 790.8 L1600.3 791.9 L1600.9 782.9 L1601.4 800.9 L1601.9 788.7 L1602.4 798.2 L1602.9 813.1 L1603.4 767.2 L1603.9 783.6 L1604.4 789.1 L1604.9 781.0 L1605.4 800.3 L1605.9 785.3 L1606.4 807.3 L1606.9 797.4 L1607.4 793.8 L1607.9 789.0 L1608.4 798.4 L1608.9 794.6 L1609.5 805.2 L1610.0 793.8 L1610.5 800.5 L1611.0 793.8 L1611.5 793.0 L1612.0 772.4 L1612.5 789.5 L1613.0 793.7 L1613.5 776.7 L1614.0 774.3 L1614.5 786.1 L1615.0 792.6 L1615.5 770.9 L1616.0 792.8 L1616.5 799.9 L1617.0 785.9 L1617.6 792.1 L1618.1 796.0 L1618.6 782.3 L1619.1 796.2 L1619.6 794.4 L1620.1 776.0 L1620.6 795.1 L1621.1 799.0 L1621.6 777.7 L1622.1 798.9 L1622.6 786.6 L1623.1 774.9 L1623.6 778.2 L1624.1 777.0 L1624.6 795.4 L1625.1 784.3 L1625.6 785.2 L1626.2 775.7 L1626.7 789.7 L1627.2 775.9 L1627.7 782.2 L1628.2 796.2 L1628.7 796.7 L1629.2 782.0 L1629.7 789.0 L1630.2 795.3 L1630.7 789.4 L1631.2 802.7 L1631.7 804.1 L1632.2 788.6 L1632.7 776.1 L1633.2 787.9 L1633.7 804.2 L1634.2 801.8 L1634.8 802.5 L1635.3 801.8 L1635.8 784.0 L1636.3 792.6 L1636.8 801.4 L1637.3 792.5 L1637.8 799.2 L1638.3 778.6 L1638.8 776.3 L1639.3 811.6 L1639.8 798.1 L1640.3 796.4 L1640.8 805.7 L1641.3 814.0 L1641.8 819.3 L1642.3 763.4 L1642.9 794.0 L1643.4 801.1 L1643.9 762.5 L1644.4 770.2 L1644.9 787.8 L1645.4 810.5 L1645.9 800.1 L1646.4 813.5 L1646.9 793.0 L1647.4 801.6 L1647.9 806.5 L1648.4 794.9 L1648.9 789.6 L1649.4 791.2 L1649.9 759.9 L1650.4 793.3 L1650.9 769.3 L1651.5 780.8 L1652.0 797.5 L1652.5 794.1 L1653.0 767.7 L1653.5 795.5 L1654.0 798.0 L1654.5 791.9 L1655.0 797.3 L1655.5 796.0 L1656.0 765.3 L1656.5 787.4 L1657.0 786.4 L1657.5 776.3 L1658.0 789.1 L1658.5 780.7 L1659.0 788.7 L1659.5 780.1 L1660.1 801.2 L1660.6 814.0 L1661.1 783.3 L1661.6 790.2 L1662.1 790.2 L1662.6 794.5 L1663.1 787.7 L1663.6 765.1 L1664.1 793.5 L1664.6 788.2 L1665.1 777.8 L1665.6 787.4 L1666.1 784.0 L1666.6 792.2 L1667.1 786.1 L1667.6 786.5 L1668.2 790.7 L1668.7 793.0 L1669.2 789.7 L1669.7 802.5 L1670.2 792.3 L1670.7 781.1 L1671.2 808.6 L1671.7 790.9 L1672.2 806.9 L1672.7 777.9 L1673.2 795.8 L1673.7 808.6 L1674.2 803.7 L1674.7 790.7 L1675.2 783.2 L1675.7 783.0 L1676.2 787.6 L1676.8 779.0 L1677.3 781.4 L1677.8 778.7 L1678.3 778.7 L1678.8 792.3 L1679.3 770.2 L1679.8 791.5 L1680.3 797.3 L1680.8 779.3 L1681.3 779.7 L1681.8 790.0 L1682.3 789.3 L1682.8 800.2 L1683.3 767.8 L1683.8 789.0 L1684.3 805.3 L1684.8 790.7 L1685.4 809.3 L1685.9 813.9 L1686.4 783.8 L1686.9 806.4 L1687.4 795.6 L1687.9 789.8 L1688.4 786.9 L1688.9 787.5 L1689.4 779.9 L1689.9 788.1 L1690.4 800.4 L1690.9 803.9 L1691.4 785.8 L1691.9 795.9 L1692.4 795.4 L1692.9 764.1 L1693.5 798.0 L1694.0 776.6 L1694.5 777.5 L1695.0 799.4 L1695.5 808.7 L1696.0 778.0 L1696.5 777.5 L1697.0 779.7 L1697.5 784.4 L1698.0 786.0 L1698.5 778.3 L1699.0 772.3 L1699.5 809.8 L1700.0 784.7 L1700.5 781.9 L1701.0 800.2 L1701.5 786.3 L1702.1 802.3 L1702.6 799.0 L1703.1 801.2 L1703.6 786.0 L1704.1 797.4 L1704.6 773.3 L1705.1 775.3 L1705.6 791.2 L1706.1 787.1 L1706.6 805.4 L1707.1 787.6 L1707.6 771.1 L1708.1 791.3 L1708.6 787.4 L1709.1 792.8 L1709.6 777.9 L1710.1 782.2 L1710.7 791.4 L1711.2 799.0 L1711.7 795.4 L1712.2 799.2 L1712.7 774.9 L1713.2 788.6 L1713.7 793.4 L1714.2 801.6 L1714.7 794.0 L1715.2 788.4 L1715.7 789.8 L1716.2 790.2 L1716.7 775.4 L1717.2 791.5 L1717.7 800.1 L1718.2 799.1 L1718.8 770.8 L1719.3 791.3 L1719.8 774.8 L1720.3 803.5 L1720.8 797.4 L1721.3 799.3 L1721.8 784.2 L1722.3 770.2 L1722.8 780.1 L1723.3 787.7 L1723.8 775.1 L1724.3 780.6 L1724.8 811.0 L1725.3 777.2 L1725.8 799.6 L1726.3 771.3 L1726.8 794.6 L1727.4 801.1 L1727.9 796.8 L1728.4 805.2 L1728.9 811.7 L1729.4 776.8 L1729.9 794.9 L1730.4 797.8 L1730.9 798.2 L1731.4 809.7 L1731.9 795.3 L1732.4 805.6 L1732.9 805.1 L1733.4 794.1 L1733.9 798.5 L1734.4 784.1 L1734.9 796.1 L1735.4 794.7 L1736.0 790.7 L1736.5 787.7 L1737.0 803.5 L1737.5 791.7 L1738.0 818.0 L1738.5 807.4 L1739.0 801.4 L1739.5 786.7 L1740.0 803.1 L1740.5 794.7 L1741.0 794.2 L1741.5 781.2 L1742.0 799.7 L1742.5 796.1 L1743.0 788.3 L1743.5 786.1 L1744.1 790.5 L1744.6 779.0 L1745.1 787.6 L1745.6 808.8 L1746.1 786.6 L1746.6 819.2 L1747.1 774.9 L1747.6 805.8 L1748.1 805.8 L1748.6 806.7 L1749.1 800.3 L1749.6 776.3 L1750.1 806.6 L1750.6 805.8 L1751.1 794.5 L1751.6 768.2 L1752.1 806.0 L1752.7 784.0 L1753.2 791.2 L1753.7 807.9 L1754.2 808.9 L1754.7 798.5 L1755.2 788.2 L1755.7 813.1 L1756.2 811.1 L1756.7 792.4 L1757.2 783.9 L1757.7 797.6 L1758.2 779.6 L1758.7 814.0 L1759.2 800.1 L1759.7 790.6 L1760.2 799.1 L1760.7 776.2 L1761.3 793.9 L1761.8 787.6 L1762.3 777.2 L1762.8 787.7 L1763.3 798.5 L1763.8 779.0 L1764.3 792.6 L1764.8 778.7 L1765.3 797.0 L1765.8 775.4 L1766.3 802.7 L1766.8 804.5 L1767.3 804.1 L1767.8 814.9 L1768.3 797.5 L1768.8 796.3 L1769.4 801.7 L1769.9 789.9 L1770.4 774.1 L1770.9 781.6 L1771.4 777.6 L1771.9 797.3 L1772.4 788.1 L1772.9 790.9 L1773.4 803.4 L1773.9 797.4 L1774.4 817.4 L1774.9 794.7 L1775.4 781.9 L1775.9 809.4 L1776.4 790.9 L1776.9 794.8 L1777.4 806.6 L1778.0 797.6 L1778.5 803.4 L1779.0 788.9 L1779.5 792.6 L1780.0 803.0 L1780.5 790.1 L1781.0 791.7 L1781.5 795.7 L1782.0 813.8 L1782.5 812.6"/>
<path stroke="#008000" d="M137.5 1209.5 L138.0 1153.7 L138.5 1188.7 L139.0 1176.2 L139.5 1176.9 L140.0 1179.1 L140.5 1156.9 L141.0 1177.7 L141.5 1169.4 L142.1 1211.5 L142.6 1181.2 L143.1 1173.6 L143.6 1173.8 L144.1 1168.5 L144.6 1163.3 L145.1 1170.6 L145.6 1180.4 L146.1 1171.1 L146.6 1184.8 L147.1 1170.3 L147.6 1172.3 L148.1 1189.9 L148.6 1177.2 L149.1 1164.0 L149.6 1167.2 L150.2 1177.2 L150.7 1191.3 L151.2 1164.2 L151.7 1163.9 L152.2 1178.2 L152.7 1154.9 L153.2 1161.4 L153.7 1178.0 L154.2 1172.6 L154.7 1164.0 L155.2 1170.3 L155.7 1119.6 L156.2 1173.2 L156.7 1148.9 L157.2 1139.7 L157.7 1162.4 L158.2 1166.8 L158.8 1152.4 L159.3 1144.2 L159.8 1156.8 L160.3 1155.2 L160.8 1172.0 L161.3 1166.1 L161.8 1156.2 L162.3 1166.5 L162.8 1150.1 L163.3 1140.8 L163.8 1158.2 L164.3 1157.6 L164.8 1147.4 L165.3 1140.0 L165.8 1151.4 L166.3 1118.2 L166.8 1155.6 L167.4 1152.6 L167.9 1126.5 L168.4 1146.1 L168.9 1133.2 L169.4 1153.1 L169.9 1119.1 L170.4 1131.8 L170.9 1150.6 L171.4 1155.3 L171.9 1115.0 L172.4 1134.2 L172.9 1143.4 L173.4 1131.5 L173.9 1157.1 L174.4 1123.3 L174.9 1141.1 L175.5 1123.7 L176.0 1152.3 L176.5 1134.6 L177.0 1129.8 L177.5 1113.1 L178.0 1153.0 L178.5 1141.3 L179.0 1143.3 L179.5 1144.5 L180.0 1134.5 L180.5 1119.8 L181.0 1119.5 L181.5 1118.9 L182.0 1144.1 L182.5 1104.5 L183.0 1119.4 L183.5 1122.1 L184.1 1128.0 L184.6 1131.5 L185.1 1109.2 L185.6 1102.9 L186.1 1122.8 L186.6 1136.7 L187.1 1130.7 L187.6 1123.7 L188.1 1116.8 L188.6 1123.5 L189.1 1116.5 L189.6 1128.6 L190.1 1108.8 L190.6 1119.3 L191.1 1115.9 L191.6 1123.1 L192.1 1118.7 L192.7 1145.8 L193.2 1132.7 L193.7 1132.1 L194.2 1089.5 L194.7 1107.9 L195.2 1105.3 L195.7 1118.3 L196.2 1084.3 L196.7 1124.7 L197.2 1122.8 L197.7 1094.0 L198.2 1097.2 L198.7 1098.7 L199.2 1108.1 L199.7 1114.5 L200.2 1130.6 L200.8 1103.2 L201.3 1113.9 L201.8 1105.9 L202.3 1124.2 L202.8 1111.3 L203.3 1117.9 L203.8 1087.9 L204.3 1097.5 L204.8 1089.2 L205.3 1115.7 L205.8 1104.6 L206.3 1092.2 L206.8 1089.4 L207.3 1099.5 L207.8 1084.3 L208.3 1080.6 L208.8 1096.2 L209.4 1118.7 L209.9 1085.5 L210.4 1080.8 L210.9 1072.4 L211.4 1069.5 L211.9 1090.5 L212.4 1093.4 L212.9 1082.5 L213.4 1085.3 L213.9 1081.9 L214.4 1081.3 L214.9 1060.7 L215.4 1072.6 L215.9 1078.6 L216.4 1067.3 L216.9 1070.3 L217.4 1065.7 L218.0 1069.7 L218.5 1084.5 L219.0 1069.2 L219.5 1071.8 L220.0 1082.9 L220.5 1080.6 L221.0 1092.7 L221.5 1047.6 L222.0 1082.2 L222.5 1066.0 L223.0 1073.1 L223.5 1081.1 L224.0 1083.8 L224.5 1083.0 L225.0 1072.3 L225.5 1089.3 L226.1 1066.7 L226.6 1068.1 L227.1 1079.0 L227.6 1062.8 L228.1 1094.7 L228.6 1081.0 L229.1 1102.2 L229.6 1068.3 L230.1 1063.9 L230.6 1070.2 L231.1 1076.7 L231.6 1060.9 L232.1 1072.2 L232.6 1067.3 L233.1 1086.4 L233.6 1059.3 L234.1 1079.3 L234.7 1059.2 L235.2 1055.3 L235.7 1058.0 L236.2 1052.2 L236.7 1067.8 L237.2 1078.1 L237.7 1067.6 L238.2 1072.9 L238.7 1084.6 L239.2 1069.3 L239.7 1067.3 L240.2 1061.6 L240.7 1045.7 L241.2 1073.4 L241.7 1037.4 L242.2 1071.8 L242.7 1063.7 L243.3 1077.1 L243.8 1062.6 L244.3 1053.8 L244.8 1067.6 L245.3 1056.6 L245.8 1060.9 L246.3 1063.5 L246.8 1061.1 L247.3 1060.3 L247.8 1052.6 L248.3 1060.0 L248.8 1036.9 L249.3 1060.1 L249.8 1047.7 L250.3 1078.8 L250.8 1076.5 L251.4 1038.4 L251.9 1063.5 L252.4 1059.6 L252.9 1048.6 L253.4 1067.1 L253.9 1055.2 L254.4 1039.7 L254.9 1057.3 L255.4 1058.5 L255.9 1061.4 L256.4 1045.5 L256.9 1069.3 L257.4 1068.4 L257.9 1042.0 L258.4 1051.7 L258.9 1058.3 L259.4 1052.5 L260.0 1085.7 L260.5 1061.3 L261.0 1046.8 L261.5 1046.5 L262.0 1057.7 L262.5 1085.2 L263.0 1056.0 L263.5 1059.4 L264.0 1063.8 L264.5 1057.2 L265.0 1084.3 L265.5 1051.1 L266.0 1065.9 L266.5 1058.9 L267.0 1064.2 L267.5 1042.9 L268.0 1077.3 L268.6 1054.5 L269.1 1056.6 L269.6 1045.0 L270.1 1044.7 L270.6 1064.3 L271.1 1067.1 L271.6 1064.2 L272.1 1069.3 L272.6 1063.3 L273.1 1055.1 L273.6 1064.4 L274.1 1061.3 L274.6 1053.0 L275.1 1062.5 L275.6 1068.8 L276.1 1056.3 L276.7 1049.1 L277.2 1061.5 L277.7 1075.1 L278.2 1050.1 L278.7 1051.3 L279.2 1050.5 L279.7 1066.2 L280.2 1030.1 L280.7 1055.6 L281.2 1065.1 L281.7 1038.4 L282.2 1068.0 L282.7 1056.6 L283.2 1043.6 L283.7 1052.2 L284.2 1031.5 L284.7 1042.6 L285.3 1070.4 L285.8 1038.2 L286.3 1070.0 L286.8 1047.2 L287.3 1063.0 L287.8 1048.1 L288.3 1021.1 L288.8 1040.4 L289.3 1049.0 L289.8 1033.1 L290.3 1030.5 L290.8 1050.3 L291.3 1035.8 L291.8 1025.6 L292.3 1034.8 L292.8 1055.0 L293.3 1039.1 L293.9 1055.4 L294.4 1062.0 L294.9 1044.3 L295.4 1030.4 L295.9 1028.2 L296.4 1042.9 L296.9 1053.2 L297.4 1045.8 L297.9 1048.9 L298.4 1037.0 L298.9 1046.6 L299.4 1036.3 L299.9 1037.8 L300.4 1026.3 L300.9 1022.8 L301.4 1035.3 L302.0 1027.8 L302.5 1029.4 L303.0 1048.2 L303.5 1039.0 L304.0 1081.1 L304.5 1050.7 L305.0 1032.3 L305.5 1048.7 L306.0 1043.6 L306.5 1031.3 L307.0 1055.9 L307.5 1030.0 L308.0 1007.4 L308.5 1048.1 L309.0 1031.5 L309.5 1056.0 L310.0 1030.9 L310.6 1024.6 L311.1 1056.4 L311.6 1025.7 L312.1 1041.2 L312.6 1055.0 L313.1 1039.3 L313.6 1037.0 L314.1 1039.0 L314.6 1047.5 L315.1 1028.2 L315.6 1044.7 L316.1 1044.2 L316.6 1064.6 L317.1 1033.4 L317.6 1026.6 L318.1 1045.8 L318.6 1032.5 L319.2 1040.4 L319.7 1038.6 L320.2 1050.6 L320.7 1029.2 L321.2 1035.7 L321.7 1007.0 L322.2 1026.3 L322.7 1054.5 L323.2 1028.6 L323.7 1028.3 L324.2 1022.3 L324.7 1043.1 L325.2 1038.4 L325.7 1022.4 L326.2 1044.0 L326.7 1040.1 L327.3 1044.9 L327.8 1028.5 L328.3 1056.2 L328.8 1040.7 L329.3 1034.5 L329.8 1029.7 L330.3 1032.8 L330.8 1045.6 L331.3 1032.4 L331.8 1048.0 L332.3 1042.2 L332.8 1051.0 L333.3 1044.8 L333.8 1034.5 L334.3 1006.3 L334.8 1038.5 L335.3 1044.2 L335.9 1036.8 L336.4 1041.3 L336.9 1029.3 L337.4 1030.3 L337.9 1023.6 L338.4 1050.3 L338.9 1036.3 L339.4 1028.6 L339.9 1018.8 L340.4 1031.9 L340.9 1055.9 L341.4 1039.4 L341.9 1025.6 L342.4 1050.5 L342.9 1050.4 L343.4 1045.1 L343.9 1045.6 L344.5 1047.0 L345.0 1039.8 L345.5 1042.4 L346.0 1024.3 L346.5 1055.9 L347.0 1035.9 L347.5 1056.6 L348.0 1009.4 L348.5 1041.2 L349.0 1044.3 L349.5 1028.8 L350.0 1038.0 L350.5 1041.3 L351.0 1039.3 L351.5 1026.2 L352.0 1030.8 L352.6 1047.7 L353.1 1047.1 L353.6 1033.3 L354.1 1033.0 L354.6 1034.3 L355.1 1044.0 L355.6 1019.6 L356.1 1016.4 L356.6 1033.6 L357.1 1014.9 L357.6 1024.7 L358.1 1032.4 L358.6 1036.9 L359.1 1018.9 L359.6 1040.5 L360.1 1010.6 L360.6 1037.3 L361.2 1012.7 L361.7 1016.1 L362.2 1038.2 L362.7 1026.0 L363.2 1021.4 L363.7 1025.3 L364.2 1035.8 L364.7 1029.7 L365.2 1029.9 L365.7 1042.3 L366.2 1021.7 L366.7 1024.5 L367.2 1023.8 L367.7 1043.3 L368.2 1041.1 L368.7 1044.4 L369.2 1029.1 L369.8 1027.6 L370.3 1039.1 L370.8 1024.6 L371.3 1038.7 L371.8 1037.3 L372.3 1020.8 L372.8 1027.8 L373.3 1027.3 L373.8 1048.6 L374.3 1058.3 L374.8 1027.2 L375.3 1028.4 L375.8 1001.8 L376.3 1030.5 L376.8 1027.8 L377.3 1011.7 L377.9 1036.8 L378.4 1009.5 L378.9 1025.0 L379.4 1028.9 L379.9 1012.8 L380.4 1036.9 L380.9 1039.1 L381.4 1010.8 L381.9 1010.4 L382.4 1033.4 L382.9 1026.0 L383.4 1012.2 L383.9 1022.6 L384.4 1024.7 L384.9 1024.1 L385.4 1035.1 L385.9 1029.8 L386.5 1045.6 L387.0 1040.9 L387.5 1032.7 L388.0 1037.2 L388.5 1039.8 L389.0 1032.5 L389.5 1010.1 L390.0 1034.0 L390.5 1024.7 L391.0 1047.9 L391.5 1024.6 L392.0 1029.4 L392.5 1027.0 L393.0 1042.3 L393.5 1024.8 L394.0 1019.5 L394.5 1026.0 L395.1 1017.2 L395.6 1023.9 L396.1 1021.8 L396.6 1024.8 L397.1 1043.7 L397.6 1016.7 L398.1 1021.6 L398.6 1018.7 L399.1 1028.5 L399.6 1007.0 L400.1 1010.1 L400.6 1019.8 L401.1 1026.4 L401.6 1019.2 L402.1 1014.0 L402.6 1009.6 L403.2 1025.2 L403.7 1035.8 L404.2 1022.7 L404.7 1021.7 L405.2 1023.8 L405.7 1004.4 L406.2 1014.8 L406.7 1014.2 L407.2 1021.4 L407.7 1017.5 L408.2 1003.7 L408.7 1034.4 L409.2 1036.8 L409.7 1014.2 L410.2 1021.7 L410.7 1020.0 L411.2 1025.8 L411.8 999.7 L412.3 1040.6 L412.8 1011.0 L413.3 1030.8 L413.8 1017.1 L414.3 1011.6 L414.8 1014.3 L415.3 1026.1 L415.8 1005.8 L416.3 1011.3 L416.8 1008.3 L417.3 995.7 L417.8 1030.2 L418.3 1023.8 L418.8 1014.8 L419.3 1028.4 L419.8 1004.0 L420.4 1014.0 L420.9 1034.6 L421.4 1026.0 L421.9 989.1 L422.4 983.6 L422.9 999.0 L423.4 1026.6 L423.9 1009.0 L424.4 1011.8 L424.9 1021.2 L425.4 1004.0 L425.9 1016.6 L426.4 1023.1 L426.9 1019.4 L427.4 1018.5 L427.9 1007.0 L428.5 1021.5 L429.0 1008.9 L429.5 1028.7 L430.0 1043.1 L430.5 1005.1 L431.0 988.6 L431.5 1008.6 L432.0 1017.8 L432.5 1025.5 L433.0 1025.7 L433.5 1004.3 L434.0 1004.2 L434.5 1027.8 L435.0 1000.7 L435.5 1025.6 L436.0 1010.5 L436.5 1021.8 L437.1 1021.1 L437.6 1021.9 L438.1 1022.3 L438.6 1001.5 L439.1 1016.2 L439.6 1012.9 L440.1 1016.3 L440.6 1026.8 L441.1 1009.6 L441.6 1004.5 L442.1 1001.7 L442.6 1009.0 L443.1 1021.1 L443.6 1003.1 L444.1 1025.7 L444.6 1015.7 L445.1 1009.7 L445.7 997.1 L446.2 1015.1 L446.7 1020.1 L447.2 992.0 L447.7 1029.9 L448.2 1031.0 L448.7 1015.9 L449.2 1017.6 L449.7 1047.9 L450.2 1026.0 L450.7 1001.6 L451.2 1011.7 L451.7 1010.0 L452.2 1010.0 L452.7 984.7 L453.2 1020.3 L453.8 1004.3 L454.3 1014.0 L454.8 1010.0 L455.3 1021.5 L455.8 1008.1 L456.3 1002.3 L456.8 1017.4 L457.3 1027.4 L457.8 1007.6 L458.3 1026.9 L458.8 1014.1 L459.3 1005.0 L459.8 1028.5 L460.3 1001.6 L460.8 1022.5 L461.3 1005.2 L461.8 1016.0 L462.4 996.7 L462.9 1001.1 L463.4 1022.8 L463.9 1012.7 L464.4 1011.0 L464.9 1005.4 L465.4 1015.5 L465.9 994.4 L466.4 993.6 L466.9 1008.4 L467.4 1000.6 L467.9 1002.1 L468.4 1008.9 L468.9 1008.4 L469.4 1007.3 L469.9 1028.8 L470.4 1024.7 L471.0 1023.7 L471.5 1009.2 L472.0 1002.0 L472.5 992.8 L473.0 1005.4 L473.5 985.4 L474.0 1002.5 L474.5 1020.4 L475.0 1027.5 L475.5 1020.0 L476.0 999.0 L476.5 1014.4 L477.0 999.7 L477.5 1018.0 L478.0 1007.3 L478.5 1018.2 L479.1 1037.7 L479.6 1018.8 L480.1 1034.8 L480.6 1010.7 L481.1 1004.3 L481.6 1023.2 L482.1 1027.5 L482.6 1001.4 L483.1 1008.6 L483.6 991.2 L484.1 1005.2 L484.6 1017.6 L485.1 1006.4 L485.6 1000.8 L486.1 991.1 L486.6 1012.5 L487.1 1016.1 L487.7 1013.7 L488.2 1009.7 L488.7 992.2 L489.2 1026.7 L489.7 1005.9 L490.2 1004.8 L490.7 1014.8 L491.2 974.3 L491.7 1005.3 L492.2 1004.6 L492.7 1010.3 L493.2 1021.3 L493.7 1011.3 L494.2 984.9 L494.7 1001.9 L495.2 1008.0 L495.7 1007.2 L496.3 990.9 L496.8 986.4 L497.3 1011.6 L497.8 1009.2 L498.3 1004.9 L498.8 985.4 L499.3 1025.2 L499.8 974.2 L500.3 1000.7 L500.8 1028.6 L501.3 1002.9 L501.8 1007.3 L502.3 991.1 L502.8 1020.0 L503.3 989.7 L503.8 1007.3 L504.4 1005.8 L504.9 992.3 L505.4 1017.3 L505.9 988.0 L506.4 996.2 L506.9 1003.6 L507.4 999.2 L507.9 1009.2 L508.4 1014.3 L508.9 999.4 L509.4 995.6 L509.9 997.7 L510.4 999.4 L510.9 1012.7 L511.4 1000.9 L511.9 1008.0 L512.4 1002.3 L513.0 993.6 L513.5 1013.0 L514.0 991.3 L514.5 1003.1 L515.0 1019.9 L515.5 990.5 L516.0 1002.3 L516.5 984.8 L517.0 997.0 L517.5 985.7 L518.0 998.5 L518.5 996.5 L519.0 1004.5 L519.5 1020.5 L520.0 1005.6 L520.5 1009.9 L521.0 1001.7 L521.6 999.5 L522.1 992.7 L522.6 981.7 L523.1 1002.9 L523.6 1020.6 L524.1 1007.4 L524.6 995.9 L525.1 1020.6 L525.6 996.9 L526.1 994.7 L526.6 987.9 L527.1 987.5 L527.6 998.8 L528.1 1024.3 L528.6 999.2 L529.1 989.7 L529.7 994.5 L530.2 998.8 L530.7 981.9 L531.2 1002.7 L531.7 1011.5 L532.2 1005.9 L532.7 1010.0 L533.2 986.4 L533.7 975.9 L534.2 1015.6 L534.7 1013.3 L535.2 983.4 L535.7 1003.2 L536.2 1001.1 L536.7 1006.9 L537.2 1003.0 L537.7 994.9 L538.3 1003.5 L538.8 1002.9 L539.3 999.9 L539.8 979.4 L540.3 969.8 L540.8 991.4 L541.3 981.8 L541.8 1003.1 L542.3 1008.4 L542.8 1003.2 L543.3 996.0 L543.8 1000.9 L544.3 1013.3 L544.8 991.8 L545.3 1010.4 L545.8 1008.0 L546.3 1002.9 L546.9 1016.3 L547.4 991.7 L547.9 1010.5 L548.4 986.1 L548.9 991.0 L549.4 987.7 L549.9 1004.7 L550.4 989.0 L550.9 1000.2 L551.4 986.7 L551.9 1011.6 L552.4 1020.3 L552.9 1002.0 L553.4 1018.0 L553.9 1007.6 L554.4 1023.9 L555.0 1000.4 L555.5 981.5 L556.0 1016.1 L556.5 997.8 L557.0 987.5 L557.5 991.7 L558.0 980.7 L558.5 997.2 L559.0 987.0 L559.5 1015.9 L560.0 1006.6 L560.5 980.2 L561.0 981.9 L561.5 992.6 L562.0 977.2 L562.5 997.7 L563.0 998.4 L563.6 990.1 L564.1 992.7 L564.6 1004.5 L565.1 1014.9 L565.6 1015.7 L566.1 999.2 L566.6 1008.4 L567.1 987.9 L567.6 1003.4 L568.1 987.8 L568.6 1006.9 L569.1 984.6 L569.6 987.7 L570.1 998.5 L570.6 1004.9 L571.1 982.3 L571.6 992.5 L572.2 1000.1 L572.7 1001.1 L573.2 986.2 L573.7 999.6 L574.2 995.4 L574.7 1014.3 L575.2 1004.7 L575.7 983.4 L576.2 973.5 L576.7 999.5 L577.2 1011.7 L577.7 1000.9 L578.2 1008.3 L578.7 992.8 L579.2 982.8 L579.7 1006.7 L580.3 999.3 L580.8 1005.9 L581.3 982.5 L581.8 1000.2 L582.3 991.0 L582.8 1007.2 L583.3 991.5 L583.8 991.2 L584.3 991.4 L584.8 1012.3 L585.3 998.3 L585.8 989.3 L586.3 986.3 L586.8 986.1 L587.3 1014.4 L587.8 977.3 L588.3 985.3 L588.9 1005.0 L589.4 1011.0 L589.9 996.0 L590.4 1006.5 L590.9 1006.2 L591.4 1008.7 L591.9 998.1 L592.4 1016.2 L592.9 999.9 L593.4 1014.9 L593.9 985.2 L594.4 1008.2 L594.9 983.4 L595.4 980.6 L595.9 1003.2 L596.4 988.1 L596.9 1002.5 L597.5 985.3 L598.0 1015.5 L598.5 997.5 L599.0 984.5 L599.5 1000.0 L600.0 1007.2 L600.5 988.5 L601.0 1002.9 L601.5 1020.1 L602.0 1006.7 L602.5 996.8 L603.0 990.4 L603.5 1003.2 L604.0 979.5 L604.5 965.5 L605.0 988.9 L605.6 984.2 L606.1 1015.9 L606.6 997.7 L607.1 985.0 L607.6 982.9 L608.1 1001.5 L608.6 986.4 L609.1 989.1 L609.6 994.4 L610.1 996.4 L610.6 996.4 L611.1 996.5 L611.6 1009.8 L612.1 1014.1 L612.6 976.2 L613.1 1023.8 L613.6 996.1 L614.2 1008.5 L614.7 986.0 L615.2 997.9 L615.7 996.5 L616.2 995.9 L616.7 1003.4 L617.2 1000.8 L617.7 982.2 L618.2 992.1 L618.7 1001.5 L619.2 1000.9 L619.7 989.2 L620.2 989.7 L620.7 990.9 L621.2 980.1 L621.7 977.9 L622.2 1015.5 L622.8 987.6 L623.3 993.0 L623.8 983.4 L624.3 1006.2 L624.8 1011.2 L625.3 988.4 L625.8 997.0 L626.3 982.6 L626.8 1010.8 L627.3 1001.2 L627.8 981.2 L628.3 1004.5 L628.8 994.4 L629.3 994.8 L629.8 994.0 L630.3 982.3 L630.9 983.7 L631.4 996.6 L631.9 989.0 L632.4 978.6 L632.9 1012.0 L633.4 986.6 L633.9 982.6 L634.4 980.9 L634.9 996.3 L635.4 999.4 L635.9 991.1 L636.4 997.9 L636.9 971.2 L637.4 983.7 L637.9 982.5 L638.4 987.7 L638.9 993.0 L639.5 964.5 L640.0 1016.9 L640.5 977.4 L641.0 990.8 L641.5 999.1 L642.0 996.2 L642.5 989.2 L643.0 955.3 L643.5 974.0 L644.0 994.5 L644.5 975.5 L645.0 973.8 L645.5 959.0 L646.0 999.0 L646.5 990.8 L647.0 974.9 L647.5 983.3 L648.1 983.5 L648.6 971.9 L649.1 981.2 L649.6 987.0 L650.1 990.1 L650.6 998.0 L651.1 984.0 L651.6 978.3 L652.1 987.9 L652.6 976.2 L653.1 969.2 L653.6 996.0 L654.1 978.8 L654.6 984.3 L655.1 990.2 L655.6 970.5 L656.2 992.3 L656.7 987.9 L657.2 981.5 L657.7 987.3 L658.2 974.4 L658.7 958.1 L659.2 978.8 L659.7 972.7 L660.2 992.6 L660.7 985.9 L661.2 977.0 L661.7 983.5 L662.2 998.2 L662.7 995.7 L663.2 987.2 L663.7 987.9 L664.2 980.0 L664.8 981.7 L665.3 989.8 L665.8 981.9 L666.3 986.6 L666.8 970.8 L667.3 964.7 L667.8 964.4 L668.3 977.1 L668.8 998.4 L669.3 996.8 L669.8 972.5 L670.3 966.2 L670.8 992.6 L671.3 989.0 L671.8 968.5 L672.3 995.8 L672.8 985.9 L673.4 998.9 L673.9 988.0 L674.4 994.2 L674.9 987.8 L675.4 973.6 L675.9 981.8 L676.4 976.9 L676.9 993.8 L677.4 973.4 L677.9 967.5 L678.4 992.3 L678.9 997.6 L679.4 1001.0 L679.9 997.1 L680.4 968.1 L680.9 977.2 L681.5 979.0 L682.0 984.9 L682.5 961.1 L683.0 985.2 L683.5 988.4 L684.0 974.8 L684.5 986.8 L685.0 1002.9 L685.5 986.1 L686.0 997.5 L686.5 997.1 L687.0 990.4 L687.5 990.1 L688.0 981.7 L688.5 999.8 L689.0 979.2 L689.5 978.2 L690.1 994.0 L690.6 978.0 L691.1 990.9 L691.6 998.0 L692.1 987.2 L692.6 987.5 L693.1 999.7 L693.6 994.8 L694.1 969.2 L694.6 971.8 L695.1 1001.4 L695.6 990.9 L696.1 963.3 L696.6 971.5 L697.1 986.8 L697.6 975.6 L698.1 991.8 L698.7 987.5 L699.2 992.1 L699.7 973.6 L700.2 993.6 L700.7 1008.5 L701.2 977.8 L701.7 1001.3 L702.2 997.6 L702.7 993.8 L703.2 985.9 L703.7 973.7 L704.2 976.8 L704.7 995.2 L705.2 997.6 L705.7 1000.3 L706.2 997.4 L706.8 996.7 L707.3 981.8 L707.8 973.2 L708.3 988.9 L708.8 992.2 L709.3 987.6 L709.8 969.7 L710.3 980.8 L710.8 970.1 L711.3 988.3 L711.8 971.5 L712.3 984.8 L712.8 990.2 L713.3 988.2 L713.8 1001.9 L714.3 974.3 L714.8 962.3 L715.4 997.2 L715.9 1002.3 L716.4 1002.6 L716.9 989.8 L717.4 994.5 L717.9 988.5 L718.4 972.2 L718.9 980.2 L719.4 992.2 L719.9 980.2 L720.4 1007.9 L720.9 969.4 L721.4 981.8 L721.9 999.0 L722.4 979.8 L722.9 974.0 L723.4 971.4 L724.0 978.5 L724.5 1003.4 L725.0 991.1 L725.5 992.3 L726.0 980.8 L726.5 996.0 L727.0 987.8 L727.5 976.3 L728.0 981.5 L728.5 988.8 L729.0 999.6 L729.5 985.9 L730.0 992.1 L730.5 1009.1 L731.0 977.7 L731.5 972.7 L732.1 997.5 L732.6 991.4 L733.1 985.4 L733.6 989.5 L734.1 982.9 L734.6 992.3 L735.1 981.8 L735.6 995.4 L736.1 973.5 L736.6 977.4 L737.1 987.8 L737.6 981.3 L738.1 994.2 L738.6 986.0 L739.1 980.5 L739.6 988.8 L740.1 980.6 L740.7 969.1 L741.2 973.8 L741.7 977.6 L742.2 981.2 L742.7 987.6 L743.2 999.8 L743.7 992.6 L744.2 1006.3 L744.7 1005.1 L745.2 984.4 L745.7 1004.8 L746.2 999.6 L746.7 981.4 L747.2 989.9 L747.7 998.6 L748.2 989.1 L748.7 1001.3 L749.3 990.8 L749.8 994.2 L750.3 982.9 L750.8 992.0 L751.3 982.3 L751.8 993.9 L752.3 967.5 L752.8 990.0 L753.3 1000.2 L753.8 992.7 L754.3 986.0 L754.8 992.2 L755.3 976.8 L755.8 976.9 L756.3 982.2 L756.8 984.5 L757.4 996.8 L757.9 973.3 L758.4 997.2 L758.9 968.5 L759.4 977.2 L759.9 985.5 L760.4 1002.8 L760.9 979.1 L761.4 962.0 L761.9 992.0 L762.4 985.5 L762.9 973.7 L763.4 974.1 L763.9 977.9 L764.4 987.2 L764.9 993.0 L765.4 964.4 L766.0 1010.9 L766.5 985.1 L767.0 981.3 L767.5 992.9 L768.0 986.6 L768.5 1019.2 L769.0 997.4 L769.5 981.1 L770.0 980.8 L770.5 979.6 L771.0 981.3 L771.5 992.5 L772.0 977.8 L772.5 1002.8 L773.0 984.0 L773.5 983.2 L774.0 995.3 L774.6 962.8 L775.1 971.3 L775.6 991.3 L776.1 984.7 L776.6 984.5 L777.1 988.9 L777.6 977.8 L778.1 982.5 L778.6 969.2 L779.1 963.5 L779.6 998.2 L780.1 973.8 L780.6 976.2 L781.1 1004.3 L781.6 999.4 L782.1 978.1 L782.7 978.0 L783.2 982.9 L783.7 970.1 L784.2 989.8 L784.7 985.2 L785.2 985.0 L785.7 994.5 L786.2 991.4 L786.7 1003.8 L787.2 1000.1 L787.7 964.3 L788.2 993.1 L788.7 967.1 L789.2 967.2 L789.7 990.9 L790.2 975.2 L790.7 979.4 L791.3 994.7 L791.8 975.4 L792.3 972.8 L792.8 986.2 L793.3 1000.3 L793.8 988.3 L794.3 960.1 L794.8 975.1 L795.3 980.5 L795.8 1003.5 L796.3 991.9 L796.8 991.4 L797.3 995.1 L797.8 978.3 L798.3 986.9 L798.8 986.9 L799.3 970.6 L799.9 981.1 L800.4 987.4 L800.9 965.7 L801.4 989.9 L801.9 989.2 L802.4 992.1 L802.9 972.0 L803.4 981.6 L803.9 996.4 L804.4 988.9 L804.9 968.8 L805.4 982.4 L805.9 995.5 L806.4 978.8 L806.9 983.7 L807.4 1007.7 L808.0 978.8 L808.5 977.8 L809.0 964.6 L809.5 971.4 L810.0 995.0 L810.5 976.9 L811.0 965.1 L811.5 967.8 L812.0 978.0 L812.5 986.2 L813.0 969.4 L813.5 985.3 L814.0 971.9 L814.5 981.0 L815.0 984.5 L815.5 983.4 L816.0 971.8 L816.6 974.5 L817.1 983.5 L817.6 961.7 L818.1 977.7 L818.6 981.3 L819.1 987.0 L819.6 974.8 L820.1 973.0 L820.6 976.4 L821.1 966.6 L821.6 972.2 L822.1 978.8 L822.6 977.2 L823.1 962.4 L823.6 970.1 L824.1 950.2 L824.6 982.2 L825.2 967.3 L825.7 975.6 L826.2 960.6 L826.7 971.4 L827.2 977.3 L827.7 983.0 L828.2 952.4 L828.7 981.1 L829.2 969.8 L829.7 962.8 L830.2 976.5 L830.7 967.7 L831.2 967.5 L831.7 962.8 L832.2 972.8 L832.7 970.5 L833.3 968.0 L833.8 959.2 L834.3 963.8 L834.8 973.7 L835.3 983.1 L835.8 968.4 L836.3 988.7 L836.8 968.1 L837.3 956.0 L837.8 974.7 L838.3 953.6 L838.8 971.6 L839.3 978.7 L839.8 963.2 L840.3 965.4 L840.8 993.2 L841.3 968.4 L841.9 968.3 L842.4 976.2 L842.9 963.7 L843.4 963.5 L843.9 968.3 L844.4 937.4 L844.9 979.0 L845.4 951.3 L845.9 950.8 L846.4 968.1 L846.9 962.1 L847.4 947.6 L847.9 963.3 L848.4 947.9 L848.9 952.3 L849.4 943.0 L849.9 947.1 L850.5 962.8 L851.0 959.2 L851.5 960.7 L852.0 969.8 L852.5 955.6 L853.0 948.1 L853.5 951.6 L854.0 972.0 L854.5 953.5 L855.0 955.9 L855.5 950.5 L856.0 953.4 L856.5 954.5 L857.0 948.7 L857.5 946.1 L858.0 938.1 L858.6 936.3 L859.1 948.9 L859.6 951.4 L860.1 955.0 L860.6 941.1 L861.1 930.0 L861.6 944.5 L862.1 944.7 L862.6 917.7 L863.1 941.3 L863.6 936.9 L864.1 946.1 L864.6 915.0 L865.1 911.6 L865.6 929.6 L866.1 902.5 L866.6 910.1 L867.2 904.3 L867.7 902.3 L868.2 892.2 L868.7 902.2 L869.2 907.2 L869.7 899.0 L870.2 894.3 L870.7 884.6 L871.2 888.4 L871.7 877.6 L872.2 872.5 L872.7 857.6 L873.2 854.3 L873.7 842.8 L874.2 835.4 L874.7 824.0 L875.2 809.2 L875.8 797.5 L876.3 783.4 L876.8 764.7 L877.3 745.2 L877.8 720.9 L878.3 696.9 L878.8 669.4 L879.3 642.1 L879.8 611.8 L880.3 575.8 L880.8 538.0 L881.3 497.2 L881.8 460.0 L882.3 418.8 L882.8 377.6 L883.3 342.9 L883.9 315.9 L884.4 293.2 L884.9 285.3 L885.4 280.7 L885.9 287.8 L886.4 307.7 L886.9 338.5 L887.4 367.0 L887.9 408.1 L888.4 447.3 L888.9 489.3 L889.4 527.1 L889.9 563.3 L890.4 600.5 L890.9 632.8 L891.4 664.9 L891.9 690.8 L892.5 719.6 L893.0 738.7 L893.5 760.2 L894.0 776.2 L894.5 794.4 L895.0 808.8 L895.5 822.2 L896.0 835.2 L896.5 843.1 L897.0 851.9 L897.5 864.4 L898.0 868.4 L898.5 873.3 L899.0 888.1 L899.5 892.4 L900.0 876.3 L900.5 895.2 L901.1 908.0 L901.6 912.8 L902.1 905.6 L902.6 927.3 L903.1 909.3 L903.6 917.4 L904.1 923.7 L904.6 925.1 L905.1 938.8 L905.6 941.2 L906.1 931.7 L906.6 950.4 L907.1 928.4 L907.6 935.7 L908.1 960.6 L908.6 943.4 L909.2 956.1 L909.7 939.8 L910.2 943.2 L910.7 946.5 L911.2 951.2 L911.7 946.4 L912.2 951.8 L912.7 963.3 L913.2 968.3 L913.7 956.3 L914.2 966.2 L914.7 967.8 L915.2 945.0 L915.7 940.0 L916.2 978.9 L916.7 976.2 L917.2 961.9 L917.8 966.1 L918.3 951.4 L918.8 946.8 L919.3 967.7 L919.8 946.8 L920.3 976.1 L920.8 957.6 L921.3 969.8 L921.8 989.9 L922.3 989.9 L922.8 964.6 L923.3 981.0 L923.8 956.4 L924.3 962.1 L924.8 974.0 L925.3 991.6 L925.8 963.4 L926.4 977.1 L926.9 972.7 L927.4 956.2 L927.9 970.0 L928.4 989.8 L928.9 971.1 L929.4 978.5 L929.9 982.6 L930.4 964.2 L930.9 987.9 L931.4 991.4 L931.9 992.8 L932.4 989.6 L932.9 968.5 L933.4 967.3 L933.9 962.4 L934.5 963.8 L935.0 965.3 L935.5 986.9 L936.0 992.7 L936.5 967.7 L937.0 985.2 L937.5 956.1 L938.0 971.9 L938.5 964.0 L939.0 950.8 L939.5 976.9 L940.0 977.6 L940.5 970.2 L941.0 970.4 L941.5 964.9 L942.0 975.3 L942.5 969.8 L943.1 980.9 L943.6 962.8 L944.1 980.0 L944.6 983.5 L945.1 992.4 L945.6 990.2 L946.1 980.0 L946.6 969.6 L947.1 956.0 L947.6 977.9 L948.1 995.0 L948.6 998.1 L949.1 947.8 L949.6 969.3 L950.1 974.2 L950.6 966.1 L951.1 980.8 L951.7 979.2 L952.2 972.6 L952.7 978.4 L953.2 959.8 L953.7 967.4 L954.2 968.3 L954.7 989.9 L955.2 959.7 L955.7 976.7 L956.2 988.7 L956.7 978.8 L957.2 989.2 L957.7 971.7 L958.2 984.8 L958.7 990.5 L959.2 1006.5 L959.8 988.5 L960.3 997.0 L960.8 980.1 L961.3 981.2 L961.8 998.9 L962.3 987.1 L962.8 997.2 L963.3 988.8 L963.8 1005.8 L964.3 1009.0 L964.8 970.4 L965.3 1002.8 L965.8 987.4 L966.3 986.4 L966.8 979.3 L967.3 989.4 L967.8 967.5 L968.4 972.2 L968.9 971.8 L969.4 984.5 L969.9 992.1 L970.4 989.9 L970.9 985.6 L971.4 974.1 L971.9 960.1 L972.4 986.1 L972.9 983.1 L973.4 985.7 L973.9 998.6 L974.4 979.3 L974.9 979.1 L975.4 953.8 L975.9 988.3 L976.4 981.0 L977.0 972.8 L977.5 986.3 L978.0 969.2 L978.5 975.3 L979.0 1005.4 L979.5 990.9 L980.0 993.0 L980.5 990.9 L981.0 989.6 L981.5 984.3 L982.0 1009.4 L982.5 981.1 L983.0 990.8 L983.5 979.4 L984.0 977.9 L984.5 952.8 L985.1 959.0 L985.6 1000.7 L986.1 1000.0 L986.6 976.9 L987.1 981.8 L987.6 989.6 L988.1 970.3 L988.6 1003.5 L989.1 966.1 L989.6 971.1 L990.1 949.7 L990.6 1000.5 L991.1 983.3 L991.6 1001.8 L992.1 970.4 L992.6 986.5 L993.1 983.3 L993.7 984.8 L994.2 1007.4 L994.7 1009.7 L995.2 999.0 L995.7 977.7 L996.2 993.3 L996.7 998.7 L997.2 989.3 L997.7 989.4 L998.2 988.4 L998.7 971.8 L999.2 986.5 L999.7 1001.9 L1000.2 970.7 L1000.7 983.7 L1001.2 992.7 L1001.7 966.4 L1002.3 981.1 L1002.8 962.4 L1003.3 975.5 L1003.8 960.9 L1004.3 972.0 L1004.8 976.9 L1005.3 979.5 L1005.8 980.4 L1006.3 954.0 L1006.8 1001.9 L1007.3 979.6 L1007.8 969.7 L1008.3 975.3 L1008.8 986.6 L1009.3 970.9 L1009.8 977.9 L1010.4 977.3 L1010.9 989.4 L1011.4 974.0 L1011.9 988.4 L1012.4 987.2 L1012.9 981.2 L1013.4 997.9 L1013.9 983.3 L1014.4 964.7 L1014.9 986.6 L1015.4 984.6 L1015.9 982.6 L1016.4 985.9 L1016.9 1011.3 L1017.4 986.0 L1017.9 988.7 L1018.4 980.2 L1019.0 998.9 L1019.5 982.5 L1020.0 973.6 L1020.5 968.6 L1021.0 991.5 L1021.5 992.2 L1022.0 964.2 L1022.5 974.6 L1023.0 991.0 L1023.5 995.7 L1024.0 967.5 L1024.5 978.5 L1025.0 993.4 L1025.5 977.0 L1026.0 978.0 L1026.5 976.9 L1027.0 967.7 L1027.6 984.2 L1028.1 987.1 L1028.6 966.6 L1029.1 984.7 L1029.6 996.8 L1030.1 986.0 L1030.6 994.9 L1031.1 974.9 L1031.6 1004.9 L1032.1 974.1 L1032.6 1006.2 L1033.1 978.2 L1033.6 975.0 L1034.1 972.9 L1034.6 978.6 L1035.1 977.7 L1035.7 975.4 L1036.2 979.7 L1036.7 991.6 L1037.2 994.2 L1037.7 979.6 L1038.2 998.5 L1038.7 971.7 L1039.2 971.4 L1039.7 966.1 L1040.2 990.9 L1040.7 965.1 L1041.2 967.0 L1041.7 999.1 L1042.2 1010.5 L1042.7 999.9 L1043.2 965.9 L1043.7 983.9 L1044.3 993.8 L1044.8 985.0 L1045.3 964.4 L1045.8 979.7 L1046.3 963.4 L1046.8 969.0 L1047.3 1009.7 L1047.8 992.0 L1048.3 966.2 L1048.8 965.8 L1049.3 989.3 L1049.8 976.6 L1050.3 990.8 L1050.8 976.1 L1051.3 981.5 L1051.8 986.8 L1052.3 967.8 L1052.9 960.9 L1053.4 969.6 L1053.9 975.5 L1054.4 981.5 L1054.9 983.2 L1055.4 983.1 L1055.9 990.1 L1056.4 973.2 L1056.9 1000.7 L1057.4 1008.0 L1057.9 988.3 L1058.4 986.8 L1058.9 998.9 L1059.4 991.7 L1059.9 986.2 L1060.4 982.0 L1061.0 975.1 L1061.5 970.0 L1062.0 992.0 L1062.5 998.3 L1063.0 971.3 L1063.5 983.2 L1064.0 986.6 L1064.5 978.9 L1065.0 972.1 L1065.5 979.3 L1066.0 960.4 L1066.5 983.3 L1067.0 980.5 L1067.5 1009.5 L1068.0 995.3 L1068.5 979.9 L1069.0 984.0 L1069.6 1004.7 L1070.1 1003.4 L1070.6 986.3 L1071.1 982.6 L1071.6 966.8 L1072.1 979.0 L1072.6 982.1 L1073.1 975.3 L1073.6 1004.9 L1074.1 961.6 L1074.6 982.0 L1075.1 989.0 L1075.6 989.4 L1076.1 1004.4 L1076.6 962.3 L1077.1 975.2 L1077.6 985.4 L1078.2 985.8 L1078.7 979.6 L1079.2 975.0 L1079.7 997.1 L1080.2 971.6 L1080.7 977.3 L1081.2 1006.6 L1081.7 1005.0 L1082.2 994.7 L1082.7 973.9 L1083.2 974.0 L1083.7 973.5 L1084.2 970.6 L1084.7 979.3 L1085.2 999.5 L1085.7 986.9 L1086.3 972.4 L1086.8 974.9 L1087.3 970.2 L1087.8 998.7 L1088.3 960.0 L1088.8 987.5 L1089.3 967.0 L1089.8 971.5 L1090.3 966.4 L1090.8 995.8 L1091.3 983.2 L1091.8 1016.9 L1092.3 971.8 L1092.8 971.1 L1093.3 991.3 L1093.8 990.9 L1094.3 979.7 L1094.9 959.9 L1095.4 1001.5 L1095.9 991.0 L1096.4 988.9 L1096.9 977.0 L1097.4 991.8 L1097.9 977.4 L1098.4 984.6 L1098.9 981.8 L1099.4 999.2 L1099.9 976.5 L1100.4 979.9 L1100.9 997.3 L1101.4 986.7 L1101.9 983.8 L1102.4 980.1 L1102.9 995.4 L1103.5 973.6 L1104.0 989.6 L1104.5 1008.3 L1105.0 988.7 L1105.5 974.5 L1106.0 969.5 L1106.5 986.0 L1107.0 969.2 L1107.5 964.8 L1108.0 974.8 L1108.5 970.7 L1109.0 994.4 L1109.5 966.4 L1110.0 1002.9 L1110.5 974.8 L1111.0 985.3 L1111.6 991.9 L1112.1 986.5 L1112.6 992.5 L1113.1 972.0 L1113.6 956.5 L1114.1 980.4 L1114.6 957.3 L1115.1 976.8 L1115.6 995.1 L1116.1 981.4 L1116.6 976.6 L1117.1 970.2 L1117.6 980.2 L1118.1 981.6 L1118.6 964.7 L1119.1 987.2 L1119.6 970.8 L1120.2 986.3 L1120.7 978.2 L1121.2 995.5 L1121.7 993.9 L1122.2 983.8 L1122.7 982.4 L1123.2 988.9 L1123.7 1005.0 L1124.2 996.5 L1124.7 985.7 L1125.2 987.6 L1125.7 1002.8 L1126.2 964.3 L1126.7 990.5 L1127.2 973.2 L1127.7 1000.3 L1128.2 978.1 L1128.8 982.7 L1129.3 971.1 L1129.8 984.3 L1130.3 993.7 L1130.8 1004.3 L1131.3 969.1 L1131.8 979.0 L1132.3 1017.0 L1132.8 995.7 L1133.3 984.3 L1133.8 990.7 L1134.3 952.5 L1134.8 1003.9 L1135.3 986.4 L1135.8 967.3 L1136.3 998.6 L1136.9 977.0 L1137.4 972.2 L1137.9 990.9 L1138.4 989.4 L1138.9 979.1 L1139.4 983.7 L1139.9 968.5 L1140.4 967.3 L1140.9 995.4 L1141.4 1000.5 L1141.9 989.8 L1142.4 990.5 L1142.9 978.5 L1143.4 983.1 L1143.9 973.4 L1144.4 1005.7 L1144.9 977.8 L1145.5 989.6 L1146.0 984.6 L1146.5 967.8 L1147.0 1007.9 L1147.5 980.1 L1148.0 975.4 L1148.5 986.0 L1149.0 973.9 L1149.5 985.0 L1150.0 973.1 L1150.5 991.4 L1151.0 985.3 L1151.5 968.2 L1152.0 997.1 L1152.5 987.0 L1153.0 971.4 L1153.5 989.0 L1154.1 989.8 L1154.6 1007.0 L1155.1 974.3 L1155.6 995.0 L1156.1 983.6 L1156.6 994.4 L1157.1 981.6 L1157.6 983.8 L1158.1 992.5 L1158.6 970.4 L1159.1 959.4 L1159.6 984.6 L1160.1 979.4 L1160.6 985.8 L1161.1 992.5 L1161.6 982.2 L1162.2 999.2 L1162.7 984.3 L1163.2 986.7 L1163.7 994.9 L1164.2 992.0 L1164.7 983.8 L1165.2 986.4 L1165.7 975.8 L1166.2 977.5 L1166.7 986.2 L1167.2 994.8 L1167.7 979.7 L1168.2 995.1 L1168.7 1008.4 L1169.2 1010.9 L1169.7 985.4 L1170.2 997.7 L1170.8 992.4 L1171.3 994.6 L1171.8 995.2 L1172.3 991.4 L1172.8 995.1 L1173.3 988.3 L1173.8 981.3 L1174.3 988.3 L1174.8 991.1 L1175.3 999.9 L1175.8 989.7 L1176.3 997.0 L1176.8 1002.4 L1177.3 974.0 L1177.8 982.1 L1178.3 991.7 L1178.8 985.8 L1179.4 973.0 L1179.9 997.1 L1180.4 984.4 L1180.9 973.2 L1181.4 1008.0 L1181.9 969.8 L1182.4 985.0 L1182.9 977.1 L1183.4 986.5 L1183.9 991.9 L1184.4 975.3 L1184.9 983.9 L1185.4 983.6 L1185.9 973.1 L1186.4 999.1 L1186.9 988.0 L1187.5 981.6 L1188.0 977.1 L1188.5 981.1 L1189.0 986.8 L1189.5 979.5 L1190.0 1000.1 L1190.5 954.5 L1191.0 959.3 L1191.5 982.0 L1192.0 962.9 L1192.5 984.2 L1193.0 977.1 L1193.5 992.0 L1194.0 990.0 L1194.5 1000.8 L1195.0 996.1 L1195.5 1000.1 L1196.1 991.4 L1196.6 997.9 L1197.1 991.1 L1197.6 977.9 L1198.1 970.0 L1198.6 970.5 L1199.1 990.8 L1199.6 956.3 L1200.1 987.1 L1200.6 976.0 L1201.1 993.8 L1201.6 988.3 L1202.1 976.0 L1202.6 985.2 L1203.1 957.7 L1203.6 988.2 L1204.1 990.6 L1204.7 962.9 L1205.2 995.3 L1205.7 983.6 L1206.2 987.9 L1206.7 967.9 L1207.2 992.3 L1207.7 992.0 L1208.2 984.8 L1208.7 973.2 L1209.2 994.2 L1209.7 1000.0 L1210.2 989.8 L1210.7 997.1 L1211.2 978.0 L1211.7 986.9 L1212.2 989.6 L1212.8 986.9 L1213.3 1016.8 L1213.8 990.2 L1214.3 978.5 L1214.8 995.2 L1215.3 972.2 L1215.8 991.3 L1216.3 994.5 L1216.8 979.4 L1217.3 981.5 L1217.8 974.1 L1218.3 987.0 L1218.8 977.3 L1219.3 1006.3 L1219.8 993.2 L1220.3 982.8 L1220.8 968.5 L1221.4 1009.9 L1221.9 1001.2 L1222.4 991.2 L1222.9 987.9 L1223.4 987.6 L1223.9 979.9 L1224.4 1008.1 L1224.9 988.0 L1225.4 968.3 L1225.9 975.7 L1226.4 945.6 L1226.9 993.4 L1227.4 997.8 L1227.9 1006.8 L1228.4 1010.7 L1228.9 976.1 L1229.4 990.9 L1230.0 997.5 L1230.5 998.2 L1231.0 977.9 L1231.5 995.1 L1232.0 991.4 L1232.5 1001.8 L1233.0 985.1 L1233.5 982.5 L1234.0 979.2 L1234.5 980.8 L1235.0 973.7 L1235.5 981.2 L1236.0 991.3 L1236.5 990.8 L1237.0 1006.2 L1237.5 1002.6 L1238.1 992.7 L1238.6 971.3 L1239.1 992.0 L1239.6 999.1 L1240.1 969.5 L1240.6 971.7 L1241.1 973.6 L1241.6 969.1 L1242.1 981.5 L1242.6 973.7 L1243.1 989.6 L1243.6 970.3 L1244.1 983.3 L1244.6 978.9 L1245.1 973.2 L1245.6 997.2 L1246.1 985.1 L1246.7 991.3 L1247.2 980.8 L1247.7 993.2 L1248.2 992.1 L1248.7 982.9 L1249.2 963.4 L1249.7 994.6 L1250.2 993.0 L1250.7 986.9 L1251.2 987.6 L1251.7 986.2 L1252.2 987.0 L1252.7 972.6 L1253.2 984.0 L1253.7 988.5 L1254.2 977.3 L1254.7 969.8 L1255.3 1007.0 L1255.8 994.4 L1256.3 981.0 L1256.8 978.8 L1257.3 953.0 L1257.8 967.6 L1258.3 981.7 L1258.8 1000.1 L1259.3 959.9 L1259.8 976.2 L1260.3 1007.6 L1260.8 992.7 L1261.3 991.3 L1261.8 999.0 L1262.3 983.2 L1262.8 982.5 L1263.4 993.2 L1263.9 994.8 L1264.4 971.8 L1264.9 1002.9 L1265.4 963.7 L1265.9 976.2 L1266.4 1016.3 L1266.9 978.4 L1267.4 992.5 L1267.9 972.6 L1268.4 980.7 L1268.9 975.9 L1269.4 978.6 L1269.9 992.4 L1270.4 1005.5 L1270.9 995.0 L1271.4 1003.2 L1272.0 978.5 L1272.5 1002.1 L1273.0 991.3 L1273.5 1001.0 L1274.0 978.2 L1274.5 981.7 L1275.0 1000.9 L1275.5 991.8 L1276.0 985.7 L1276.5 976.2 L1277.0 983.2 L1277.5 990.2 L1278.0 993.0 L1278.5 977.6 L1279.0 980.2 L1279.5 989.4 L1280.0 970.9 L1280.6 995.4 L1281.1 984.0 L1281.6 982.4 L1282.1 955.0 L1282.6 964.7 L1283.1 971.4 L1283.6 976.8 L1284.1 970.5 L1284.6 988.1 L1285.1 985.2 L1285.6 980.4 L1286.1 959.2 L1286.6 1000.3 L1287.1 980.2 L1287.6 992.8 L1288.1 975.5 L1288.7 983.5 L1289.2 991.9 L1289.7 986.3 L1290.2 995.0 L1290.7 981.3 L1291.2 1007.4 L1291.7 960.7 L1292.2 976.8 L1292.7 995.2 L1293.2 980.4 L1293.7 976.4 L1294.2 962.1 L1294.7 997.7 L1295.2 960.5 L1295.7 989.4 L1296.2 985.6 L1296.7 993.8 L1297.3 1000.8 L1297.8 974.8 L1298.3 973.5 L1298.8 979.4 L1299.3 962.5 L1299.8 993.0 L1300.3 978.3 L1300.8 985.0 L1301.3 969.5 L1301.8 983.1 L1302.3 975.5 L1302.8 982.1 L1303.3 969.8 L1303.8 998.8 L1304.3 975.1 L1304.8 952.2 L1305.3 990.6 L1305.9 979.2 L1306.4 972.2 L1306.9 1012.8 L1307.4 981.8 L1307.9 961.7 L1308.4 975.3 L1308.9 987.2 L1309.4 980.0 L1309.9 997.5 L1310.4 995.4 L1310.9 973.1 L1311.4 983.1 L1311.9 990.3 L1312.4 977.6 L1312.9 977.0 L1313.4 993.1 L1314.0 988.0 L1314.5 965.7 L1315.0 976.0 L1315.5 977.6 L1316.0 981.1 L1316.5 973.9 L1317.0 998.6 L1317.5 970.9 L1318.0 969.5 L1318.5 985.0 L1319.0 955.4 L1319.5 970.1 L1320.0 992.1 L1320.5 966.5 L1321.0 972.3 L1321.5 995.5 L1322.0 987.9 L1322.6 983.2 L1323.1 985.4 L1323.6 974.3 L1324.1 986.1 L1324.6 980.0 L1325.1 1012.4 L1325.6 988.9 L1326.1 978.4 L1326.6 981.8 L1327.1 983.1 L1327.6 965.9 L1328.1 972.5 L1328.6 1000.7 L1329.1 965.6 L1329.6 975.4 L1330.1 994.7 L1330.6 1000.5 L1331.2 970.1 L1331.7 999.9 L1332.2 978.0 L1332.7 1002.1 L1333.2 988.3 L1333.7 978.9 L1334.2 990.9 L1334.7 988.9 L1335.2 973.1 L1335.7 1007.6 L1336.2 978.1 L1336.7 995.7 L1337.2 976.3 L1337.7 953.9 L1338.2 968.7 L1338.7 980.7 L1339.3 989.8 L1339.8 1002.4 L1340.3 982.6 L1340.8 978.3 L1341.3 967.2 L1341.8 980.9 L1342.3 984.9 L1342.8 955.5 L1343.3 996.4 L1343.8 994.4 L1344.3 1015.3 L1344.8 970.4 L1345.3 981.3 L1345.8 981.0 L1346.3 965.4 L1346.8 970.8 L1347.3 969.2 L1347.9 986.3 L1348.4 985.3 L1348.9 995.7 L1349.4 975.5 L1349.9 959.2 L1350.4 986.4 L1350.9 984.1 L1351.4 987.4 L1351.9 998.0 L1352.4 972.9 L1352.9 988.5 L1353.4 964.5 L1353.9 981.1 L1354.4 987.0 L1354.9 977.8 L1355.4 982.1 L1355.9 963.2 L1356.5 969.2 L1357.0 980.4 L1357.5 965.1 L1358.0 969.0 L1358.5 1005.7 L1359.0 981.2 L1359.5 969.0 L1360.0 966.6 L1360.5 993.4 L1361.0 948.3 L1361.5 973.7 L1362.0 984.1 L1362.5 970.7 L1363.0 982.6 L1363.5 965.1 L1364.0 976.4 L1364.6 976.9 L1365.1 976.5 L1365.6 977.8 L1366.1 976.6 L1366.6 988.3 L1367.1 973.1 L1367.6 969.4 L1368.1 972.7 L1368.6 972.4 L1369.1 959.0 L1369.6 954.8 L1370.1 960.8 L1370.6 978.5 L1371.1 968.1 L1371.6 970.8 L1372.1 1005.8 L1372.6 987.3 L1373.2 972.8 L1373.7 968.2 L1374.2 989.7 L1374.7 966.5 L1375.2 988.1 L1375.7 981.0 L1376.2 989.5 L1376.7 966.8 L1377.2 984.1 L1377.7 955.1 L1378.2 972.4 L1378.7 985.6 L1379.2 981.4 L1379.7 954.4 L1380.2 980.9 L1380.7 978.2 L1381.2 972.5 L1381.8 965.4 L1382.3 969.7 L1382.8 966.3 L1383.3 981.9 L1383.8 976.4 L1384.3 982.2 L1384.8 979.4 L1385.3 956.4 L1385.8 970.4 L1386.3 990.4 L1386.8 951.6 L1387.3 968.8 L1387.8 956.4 L1388.3 953.9 L1388.8 963.6 L1389.3 971.5 L1389.9 965.5 L1390.4 960.2 L1390.9 962.9 L1391.4 934.0 L1391.9 956.5 L1392.4 949.6 L1392.9 940.9 L1393.4 940.1 L1393.9 925.9 L1394.4 946.9 L1394.9 925.7 L1395.4 917.1 L1395.9 929.8 L1396.4 921.6 L1396.9 928.0 L1397.4 942.8 L1397.9 928.3 L1398.5 932.0 L1399.0 954.4 L1399.5 920.9 L1400.0 940.7 L1400.5 951.2 L1401.0 957.4 L1401.5 967.4 L1402.0 940.9 L1402.5 956.2 L1403.0 951.6 L1403.5 950.4 L1404.0 949.9 L1404.5 944.5 L1405.0 964.4 L1405.5 970.3 L1406.0 953.6 L1406.5 973.3 L1407.1 961.3 L1407.6 957.8 L1408.1 943.2 L1408.6 980.8 L1409.1 977.6 L1409.6 967.9 L1410.1 967.7 L1410.6 959.0 L1411.1 977.6 L1411.6 972.2 L1412.1 978.5 L1412.6 975.2 L1413.1 959.5 L1413.6 958.2 L1414.1 979.1 L1414.6 957.2 L1415.2 977.1 L1415.7 983.6 L1416.2 961.7 L1416.7 981.6 L1417.2 975.4 L1417.7 980.4 L1418.2 968.8 L1418.7 974.8 L1419.2 979.8 L1419.7 994.0 L1420.2 983.2 L1420.7 981.0 L1421.2 963.1 L1421.7 979.8 L1422.2 969.8 L1422.7 975.7 L1423.2 979.8 L1423.8 987.1 L1424.3 983.6 L1424.8 979.8 L1425.3 977.5 L1425.8 992.0 L1426.3 969.7 L1426.8 979.3 L1427.3 993.1 L1427.8 977.5 L1428.3 988.1 L1428.8 989.0 L1429.3 1000.2 L1429.8 992.0 L1430.3 964.2 L1430.8 980.9 L1431.3 984.3 L1431.8 989.9 L1432.4 985.7 L1432.9 1001.0 L1433.4 993.3 L1433.9 970.5 L1434.4 974.0 L1434.9 961.9 L1435.4 1000.3 L1435.9 981.7 L1436.4 981.6 L1436.9 962.1 L1437.4 978.7 L1437.9 987.5 L1438.4 979.1 L1438.9 979.2 L1439.4 976.9 L1439.9 1003.1 L1440.5 977.5 L1441.0 968.4 L1441.5 977.8 L1442.0 979.4 L1442.5 982.0 L1443.0 979.1 L1443.5 971.5 L1444.0 980.8 L1444.5 986.7 L1445.0 968.6 L1445.5 1002.8 L1446.0 1000.0 L1446.5 964.4 L1447.0 979.1 L1447.5 993.0 L1448.0 996.4 L1448.5 1000.9 L1449.1 964.1 L1449.6 971.6 L1450.1 977.7 L1450.6 988.5 L1451.1 972.0 L1451.6 987.4 L1452.1 987.6 L1452.6 990.4 L1453.1 970.0 L1453.6 985.1 L1454.1 983.6 L1454.6 979.0 L1455.1 996.5 L1455.6 980.4 L1456.1 998.1 L1456.6 977.4 L1457.1 1000.8 L1457.7 1000.3 L1458.2 975.3 L1458.7 987.1 L1459.2 987.5 L1459.7 973.8 L1460.2 993.8 L1460.7 989.9 L1461.2 975.1 L1461.7 985.0 L1462.2 993.0 L1462.7 982.4 L1463.2 976.8 L1463.7 1000.8 L1464.2 974.2 L1464.7 987.7 L1465.2 995.7 L1465.8 992.3 L1466.3 965.7 L1466.8 981.1 L1467.3 983.1 L1467.8 982.3 L1468.3 990.9 L1468.8 990.1 L1469.3 986.0 L1469.8 987.4 L1470.3 995.0 L1470.8 997.5 L1471.3 965.6 L1471.8 1007.0 L1472.3 979.3 L1472.8 992.9 L1473.3 968.4 L1473.8 979.8 L1474.4 972.2 L1474.9 996.1 L1475.4 994.1 L1475.9 985.1 L1476.4 983.4 L1476.9 989.0 L1477.4 975.6 L1477.9 979.0 L1478.4 977.4 L1478.9 993.5 L1479.4 985.4 L1479.9 968.3 L1480.4 988.7 L1480.9 990.5 L1481.4 999.3 L1481.9 979.6 L1482.4 989.3 L1483.0 1006.4 L1483.5 981.9 L1484.0 981.5 L1484.5 990.4 L1485.0 980.2 L1485.5 985.3 L1486.0 980.1 L1486.5 977.3 L1487.0 994.2 L1487.5 981.4 L1488.0 975.0 L1488.5 982.3 L1489.0 983.8 L1489.5 988.3 L1490.0 994.7 L1490.5 1003.2 L1491.1 972.8 L1491.6 982.7 L1492.1 966.7 L1492.6 987.4 L1493.1 990.5 L1493.6 978.5 L1494.1 975.8 L1494.6 971.9 L1495.1 969.9 L1495.6 991.4 L1496.1 1004.4 L1496.6 973.5 L1497.1 1001.5 L1497.6 983.8 L1498.1 970.9 L1498.6 990.6 L1499.1 992.6 L1499.7 988.9 L1500.2 982.2 L1500.7 1001.8 L1501.2 982.0 L1501.7 991.3 L1502.2 991.4 L1502.7 975.8 L1503.2 966.1 L1503.7 967.3 L1504.2 980.8 L1504.7 989.2 L1505.2 966.7 L1505.7 977.4 L1506.2 1000.3 L1506.7 966.5 L1507.2 989.4 L1507.7 988.3 L1508.3 992.7 L1508.8 969.8 L1509.3 988.1 L1509.8 970.6 L1510.3 998.2 L1510.8 975.9 L1511.3 988.5 L1511.8 976.5 L1512.3 986.0 L1512.8 969.1 L1513.3 987.5 L1513.8 992.3 L1514.3 984.5 L1514.8 1001.0 L1515.3 988.4 L1515.8 992.6 L1516.4 989.8 L1516.9 1003.7 L1517.4 978.0 L1517.9 981.9 L1518.4 982.5 L1518.9 991.0 L1519.4 987.4 L1519.9 993.2 L1520.4 987.7 L1520.9 979.5 L1521.4 984.1 L1521.9 989.2 L1522.4 961.6 L1522.9 1002.9 L1523.4 979.1 L1523.9 981.3 L1524.4 987.5 L1525.0 981.4 L1525.5 970.2 L1526.0 981.7 L1526.5 1003.1 L1527.0 995.7 L1527.5 997.6 L1528.0 979.5 L1528.5 982.1 L1529.0 995.8 L1529.5 1000.3 L1530.0 985.5 L1530.5 975.4 L1531.0 965.6 L1531.5 999.7 L1532.0 969.8 L1532.5 989.7 L1533.0 994.5 L1533.6 1012.7 L1534.1 987.4 L1534.6 984.3 L1535.1 990.2 L1535.6 990.7 L1536.1 999.3 L1536.6 992.6 L1537.1 977.8 L1537.6 964.0 L1538.1 988.7 L1538.6 978.7 L1539.1 1000.1 L1539.6 968.1 L1540.1 987.7 L1540.6 978.2 L1541.1 976.7 L1541.7 1002.9 L1542.2 988.0 L1542.7 983.9 L1543.2 993.4 L1543.7 977.7 L1544.2 982.0 L1544.7 979.2 L1545.2 1006.2 L1545.7 989.2 L1546.2 992.2 L1546.7 997.3 L1547.2 983.3 L1547.7 984.2 L1548.2 968.9 L1548.7 990.7 L1549.2 988.4 L1549.7 981.5 L1550.3 998.2 L1550.8 967.3 L1551.3 990.1 L1551.8 971.5 L1552.3 973.9 L1552.8 983.6 L1553.3 1003.7 L1553.8 969.7 L1554.3 972.3 L1554.8 973.2 L1555.3 1006.6 L1555.8 991.2 L1556.3 990.0 L1556.8 1013.6 L1557.3 988.4 L1557.8 964.0 L1558.3 980.5 L1558.9 973.4 L1559.4 1006.8 L1559.9 971.1 L1560.4 988.9 L1560.9 980.4 L1561.4 981.2 L1561.9 986.0 L1562.4 984.4 L1562.9 978.7 L1563.4 973.0 L1563.9 979.0 L1564.4 974.9 L1564.9 976.4 L1565.4 987.0 L1565.9 984.2 L1566.4 990.7 L1567.0 983.3 L1567.5 1005.7 L1568.0 978.2 L1568.5 975.4 L1569.0 999.6 L1569.5 978.4 L1570.0 987.4 L1570.5 995.9 L1571.0 984.4 L1571.5 982.1 L1572.0 995.8 L1572.5 989.2 L1573.0 978.5 L1573.5 973.3 L1574.0 981.8 L1574.5 968.5 L1575.0 976.7 L1575.6 974.4 L1576.1 988.8 L1576.6 993.7 L1577.1 979.0 L1577.6 981.2 L1578.1 974.3 L1578.6 971.4 L1579.1 981.2 L1579.6 991.6 L1580.1 990.6 L1580.6 991.8 L1581.1 982.9 L1581.6 958.9 L1582.1 995.4 L1582.6 999.5 L1583.1 995.2 L1583.6 995.1 L1584.2 997.2 L1584.7 1021.1 L1585.2 989.2 L1585.7 1002.0 L1586.2 996.8 L1586.7 992.9 L1587.2 984.5 L1587.7 982.4 L1588.2 974.2 L1588.7 992.0 L1589.2 982.7 L1589.7 973.5 L1590.2 978.1 L1590.7 973.6 L1591.2 1002.6 L1591.7 983.4 L1592.3 987.1 L1592.8 973.4 L1593.3 972.0 L1593.8 996.9 L1594.3 983.5 L1594.8 988.3 L1595.3 1005.1 L1595.8 1007.7 L1596.3 993.2 L1596.8 991.1 L1597.3 988.5 L1597.8 983.1 L1598.3 1007.1 L1598.8 973.4 L1599.3 985.1 L1599.8 960.1 L1600.3 969.0 L1600.9 990.2 L1601.4 990.8 L1601.9 989.6 L1602.4 982.7 L1602.9 978.7 L1603.4 980.5 L1603.9 982.1 L1604.4 997.4 L1604.9 1001.2 L1605.4 990.7 L1605.9 980.5 L1606.4 976.4 L1606.9 989.3 L1607.4 983.7 L1607.9 967.1 L1608.4 1000.4 L1608.9 986.0 L1609.5 981.8 L1610.0 977.1 L1610.5 977.0 L1611.0 995.5 L1611.5 976.3 L1612.0 987.1 L1612.5 992.7 L1613.0 1005.3 L1613.5 994.3 L1614.0 985.8 L1614.5 981.6 L1615.0 995.0 L1615.5 996.6 L1616.0 981.7 L1616.5 992.3 L1617.0 984.7 L1617.6 969.3 L1618.1 975.7 L1618.6 994.6 L1619.1 1001.2 L1619.6 993.2 L1620.1 984.1 L1620.6 978.7 L1621.1 991.8 L1621.6 989.6 L1622.1 969.4 L1622.6 993.0 L1623.1 976.6 L1623.6 993.2 L1624.1 991.8 L1624.6 993.8 L1625.1 997.3 L1625.6 993.5 L1626.2 975.3 L1626.7 975.6 L1627.2 997.0 L1627.7 991.2 L1628.2 969.9 L1628.7 965.4 L1629.2 995.5 L1629.7 1009.4 L1630.2 994.9 L1630.7 983.8 L1631.2 989.0 L1631.7 959.2 L1632.2 972.8 L1632.7 996.8 L1633.2 995.2 L1633.7 964.2 L1634.2 1002.3 L1634.8 991.9 L1635.3 996.0 L1635.8 984.2 L1636.3 986.3 L1636.8 975.1 L1637.3 989.6 L1637.8 995.6 L1638.3 976.5 L1638.8 990.1 L1639.3 980.8 L1639.8 997.2 L1640.3 996.5 L1640.8 961.8 L1641.3 991.0 L1641.8 996.9 L1642.3 980.5 L1642.9 984.1 L1643.4 984.8 L1643.9 974.4 L1644.4 985.1 L1644.9 1002.5 L1645.4 991.3 L1645.9 1002.2 L1646.4 999.8 L1646.9 998.8 L1647.4 987.6 L1647.9 994.4 L1648.4 1007.3 L1648.9 1001.7 L1649.4 989.7 L1649.9 979.1 L1650.4 976.8 L1650.9 988.9 L1651.5 991.0 L1652.0 967.3 L1652.5 988.7 L1653.0 990.0 L1653.5 989.6 L1654.0 980.7 L1654.5 1010.4 L1655.0 995.5 L1655.5 972.2 L1656.0 979.0 L1656.5 994.7 L1657.0 991.7 L1657.5 987.7 L1658.0 986.0 L1658.5 984.1 L1659.0 981.7 L1659.5 975.7 L1660.1 992.3 L1660.6 959.4 L1661.1 978.7 L1661.6 999.1 L1662.1 978.1 L1662.6 973.8 L1663.1 1005.8 L1663.6 996.9 L1664.1 984.6 L1664.6 980.0 L1665.1 982.9 L1665.6 982.5 L1666.1 983.6 L1666.6 978.4 L1667.1 991.7 L1667.6 980.3 L1668.2 967.2 L1668.7 972.6 L1669.2 986.0 L1669.7 975.4 L1670.2 960.3 L1670.7 1001.5 L1671.2 991.0 L1671.7 981.0 L1672.2 980.5 L1672.7 991.2 L1673.2 1000.1 L1673.7 979.4 L1674.2 990.1 L1674.7 979.3 L1675.2 989.2 L1675.7 974.0 L1676.2 966.8 L1676.8 986.7 L1677.3 985.1 L1677.8 993.2 L1678.3 978.8 L1678.8 1000.0 L1679.3 986.8 L1679.8 1001.7 L1680.3 982.2 L1680.8 1001.4 L1681.3 985.1 L1681.8 987.2 L1682.3 995.8 L1682.8 967.5 L1683.3 974.7 L1683.8 1004.8 L1684.3 970.2 L1684.8 978.9 L1685.4 991.4 L1685.9 1001.0 L1686.4 980.6 L1686.9 987.4 L1687.4 974.1 L1687.9 981.9 L1688.4 996.5 L1688.9 989.3 L1689.4 985.6 L1689.9 991.4 L1690.4 987.3 L1690.9 987.7 L1691.4 982.3 L1691.9 975.8 L1692.4 993.0 L1692.9 970.3 L1693.5 996.5 L1694.0 1008.0 L1694.5 1001.7 L1695.0 1010.0 L1695.5 975.3 L1696.0 988.6 L1696.5 977.5 L1697.0 978.4 L1697.5 962.9 L1698.0 973.6 L1698.5 995.0 L1699.0 993.4 L1699.5 1002.3 L1700.0 997.9 L1700.5 994.3 L1701.0 975.4 L1701.5 985.1 L1702.1 993.9 L1702.6 999.3 L1703.1 982.5 L1703.6 981.3 L1704.1 981.9 L1704.6 1002.9 L1705.1 992.3 L1705.6 983.2 L1706.1 978.6 L1706.6 991.0 L1707.1 969.2 L1707.6 984.2 L1708.1 980.7 L1708.6 980.5 L1709.1 988.7 L1709.6 990.9 L1710.1 1013.7 L1710.7 987.7 L1711.2 993.8 L1711.7 978.4 L1712.2 969.6 L1712.7 998.5 L1713.2 1006.9 L1713.7 976.5 L1714.2 986.0 L1714.7 998.2 L1715.2 987.8 L1715.7 962.1 L1716.2 997.2 L1716.7 985.4 L1717.2 994.3 L1717.7 976.9 L1718.2 995.9 L1718.8 997.5 L1719.3 979.4 L1719.8 991.9 L1720.3 980.3 L1720.8 980.2 L1721.3 977.5 L1721.8 982.4 L1722.3 979.9 L1722.8 998.9 L1723.3 984.6 L1723.8 975.3 L1724.3 1001.0 L1724.8 992.5 L1725.3 997.1 L1725.8 986.3 L1726.3 994.1 L1726.8 985.9 L1727.4 977.1 L1727.9 988.1 L1728.4 988.5 L1728.9 988.4 L1729.4 995.6 L1729.9 969.2 L1730.4 990.1 L1730.9 978.8 L1731.4 984.2 L1731.9 991.6 L1732.4 988.1 L1732.9 980.2 L1733.4 994.9 L1733.9 986.6 L1734.4 999.8 L1734.9 999.9 L1735.4 983.6 L1736.0 976.0 L1736.5 988.1 L1737.0 995.6 L1737.5 990.6 L1738.0 975.3 L1738.5 969.9 L1739.0 977.7 L1739.5 977.6 L1740.0 993.7 L1740.5 988.0 L1741.0 999.2 L1741.5 986.5 L1742.0 1004.5 L1742.5 987.5 L1743.0 995.0 L1743.5 983.2 L1744.1 992.0 L1744.6 998.6 L1745.1 995.4 L1745.6 1000.5 L1746.1 981.3 L1746.6 992.2 L1747.1 1005.0 L1747.6 990.1 L1748.1 985.9 L1748.6 985.2 L1749.1 982.2 L1749.6 989.0 L1750.1 1001.7 L1750.6 992.2 L1751.1 987.3 L1751.6 979.5 L1752.1 976.0 L1752.7 1011.9 L1753.2 982.8 L1753.7 988.6 L1754.2 982.6 L1754.7 989.2 L1755.2 983.2 L1755.7 988.6 L1756.2 1002.2 L1756.7 980.0 L1757.2 992.8 L1757.7 986.8 L1758.2 994.7 L1758.7 980.5 L1759.2 991.5 L1759.7 977.4 L1760.2 968.8 L1760.7 970.1 L1761.3 977.6 L1761.8 975.8 L1762.3 983.0 L1762.8 998.3 L1763.3 975.5 L1763.8 991.6 L1764.3 989.1 L1764.8 979.9 L1765.3 977.5 L1765.8 991.3 L1766.3 991.8 L1766.8 983.4 L1767.3 985.4 L1767.8 986.8 L1768.3 973.7 L1768.8 988.0 L1769.4 990.0 L1769.9 1004.7 L1770.4 974.1 L1770.9 978.2 L1771.4 987.8 L1771.9 981.0 L1772.4 982.8 L1772.9 987.0 L1773.4 984.0 L1773.9 986.6 L1774.4 991.4 L1774.9 970.6 L1775.4 992.6 L1775.9 964.3 L1776.4 1004.1 L1776.9 996.3 L1777.4 980.8 L1778.0 997.2 L1778.5 985.5 L1779.0 991.4 L1779.5 994.6 L1780.0 990.5 L1780.5 987.1 L1781.0 993.3 L1781.5 985.2 L1782.0 983.3 L1782.5 977.6"/>
</g>
<g stroke="#000" stroke-linecap="round" fill="none" filter="url(#bt)">
<rect x="137" y="27.5" width="1646" height="1215" stroke-width="8.5" stroke-linejoin="round"/>
<line x1="137.0" y1="1242" x2="137.0" y2="1267.5" stroke-width="7"/>
<line x1="327.2" y1="1242" x2="327.2" y2="1256" stroke-width="7"/>
<line x1="517.0" y1="1242" x2="517.0" y2="1267.5" stroke-width="7"/>
<line x1="706.9" y1="1242" x2="706.9" y2="1256" stroke-width="7"/>
<line x1="896.7" y1="1242" x2="896.7" y2="1267.5" stroke-width="7"/>
<line x1="1086.5" y1="1242" x2="1086.5" y2="1256" stroke-width="7"/>
<line x1="1276.4" y1="1242" x2="1276.4" y2="1267.5" stroke-width="7"/>
<line x1="1466.2" y1="1242" x2="1466.2" y2="1256" stroke-width="7"/>
<line x1="1656.0" y1="1242" x2="1656.0" y2="1267.5" stroke-width="7"/>
</g>
<g fill='#000' filter='url(#bt)'>
<text x="137.5" y="1337.2" font-family='"Liberation Sans", Arial, sans-serif' font-weight='bold' font-size="71" text-anchor="middle">15</text>
<text x="517.9" y="1337.2" font-family='"Liberation Sans", Arial, sans-serif' font-weight='bold' font-size="71" text-anchor="middle">30</text>
<text x="896.1" y="1337.2" font-family='"Liberation Sans", Arial, sans-serif' font-weight='bold' font-size="71" text-anchor="middle">45</text>
<text x="1276.0" y="1337.2" font-family='"Liberation Sans", Arial, sans-serif' font-weight='bold' font-size="71" text-anchor="middle">60</text>
<text x="1658.2" y="1337.2" font-family='"Liberation Sans", Arial, sans-serif' font-weight='bold' font-size="71" text-anchor="middle">75</text>
<text x="933.1" y="1422.1" font-family='"Liberation Sans", Arial, sans-serif' font-weight='bold' font-size="75" text-anchor="middle">2 theta (degree)</text>
<text transform="translate(79.0,684.7) rotate(-90)" font-family='"Liberation Sans", Arial, sans-serif' font-weight='bold' font-size="76.5" text-anchor="middle">Intensity (a.u.)</text>
<text x="913.7" y="111.8" font-family='"Liberation Sans", Arial, sans-serif' font-weight='bold' font-size="57" letter-spacing="0.8">(a) MC</text>
<text x="913.6" y="186.0" font-family='"Liberation Sans", Arial, sans-serif' font-weight='bold' font-size="57" letter-spacing="0.8">(b) S-nZVI@MC before reaction</text>
<text x="913.9" y="260.4" font-family='"Liberation Sans", Arial, sans-serif' font-weight='bold' font-size="57" letter-spacing="0.8">(c) S-nZVI@MC after reaction</text>
<text x="1558.4" y="579.8" font-family='"Liberation Sans", Arial, sans-serif' font-weight='bold' font-size="62" letter-spacing="1.5">(a)</text>
<text x="1562.7" y="744.2" font-family='"Liberation Sans", Arial, sans-serif' font-weight='bold' font-size="62" letter-spacing="1.5">(b)</text>
<text x="1566.4" y="949.0" font-family='"Liberation Sans", Arial, sans-serif' font-weight='bold' font-size="62" letter-spacing="1.5">(c)</text>
<text x="284.4" y="98.0" font-family='"Liberation Sans", Arial, sans-serif' stroke='#000' stroke-width='1.1' font-size="51.5">C</text>
<text x="284.7" y="167.3" font-family='"Liberation Sans", Arial, sans-serif' stroke='#000' stroke-width='1.1' font-size="51.5">Fe</text>
<text x="275.9" y="231.3" font-family='"Liberation Sans", Arial, sans-serif' stroke='#000' stroke-width='1.1' font-size="51.5">Fe<tspan font-size="34" dy="9">2</tspan><tspan dy="-9">O</tspan><tspan font-size="34" dy="9">3</tspan></text>
<text transform="translate(234.2,82.5) scale(1,0.88)" font-family='"DejaVu Sans", sans-serif' font-size="48" text-anchor="middle" dominant-baseline="central">&#9829;</text>
<text x="235.2" y="150.2" font-family='"DejaVu Sans", sans-serif' font-size="53" text-anchor="middle" dominant-baseline="central">&#9827;</text>
<text x="230.3" y="212.2" font-family='"DejaVu Sans", sans-serif' font-size="53" text-anchor="middle" dominant-baseline="central">&#9830;</text>
<text transform="translate(376.7,312.1) scale(1,0.95)" font-family='"DejaVu Sans", sans-serif' font-size="48" text-anchor="middle" dominant-baseline="central">&#9829;</text>
<text transform="translate(853.1,514.1) scale(1,0.96)" font-family='"DejaVu Sans", sans-serif' font-size="46" text-anchor="middle" dominant-baseline="central">&#9829;</text>
<text x="887.6" y="156.5" font-family='"DejaVu Sans", sans-serif' font-size="51" text-anchor="middle" dominant-baseline="central">&#9827;</text>
<text x="659.5" y="672.0" font-family='"DejaVu Sans", sans-serif' font-size="51" text-anchor="middle" dominant-baseline="central">&#9830;</text>
<text x="1395.8" y="698.7" font-family='"DejaVu Sans", sans-serif' font-size="51" text-anchor="middle" dominant-baseline="central">&#9827;</text>
</g>
</svg>
</body></html>
